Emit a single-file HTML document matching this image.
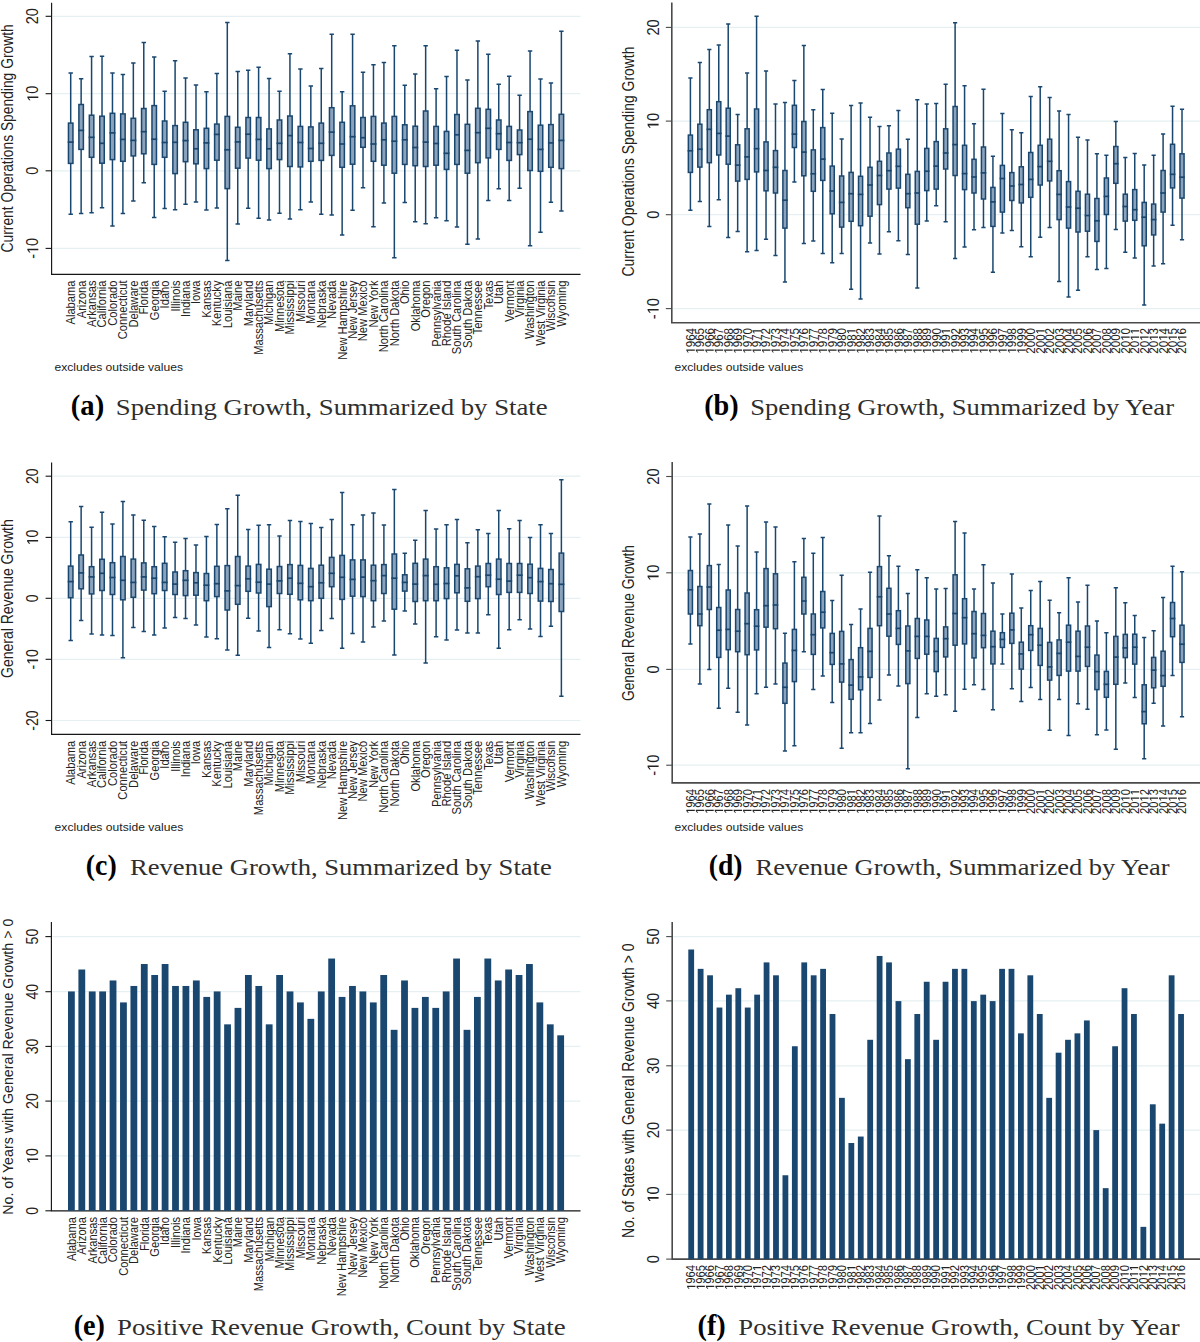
<!DOCTYPE html>
<html><head><meta charset="utf-8"><title>Figure</title>
<style>
html,body{margin:0;padding:0;background:#fff;}
svg{display:block;}

</style></head>
<body>
<svg width="1200" height="1342" viewBox="0 0 1200 1342" font-family="Liberation Sans, sans-serif">
<rect width="1200" height="1342" fill="#fff"/>
<line x1="52.6" y1="16.3" x2="580.5" y2="16.3" stroke="#e6eff1" stroke-width="1.2"/>
<line x1="52.6" y1="93.7" x2="580.5" y2="93.7" stroke="#e6eff1" stroke-width="1.2"/>
<line x1="52.6" y1="170.8" x2="580.5" y2="170.8" stroke="#e6eff1" stroke-width="1.2"/>
<line x1="52.6" y1="248.4" x2="580.5" y2="248.4" stroke="#e6eff1" stroke-width="1.2"/>
<line x1="45.6" y1="16.3" x2="51.6" y2="16.3" stroke="#161616" stroke-width="1.1"/>
<line x1="45.6" y1="93.7" x2="51.6" y2="93.7" stroke="#161616" stroke-width="1.1"/>
<line x1="45.6" y1="170.8" x2="51.6" y2="170.8" stroke="#161616" stroke-width="1.1"/>
<line x1="45.6" y1="248.4" x2="51.6" y2="248.4" stroke="#161616" stroke-width="1.1"/>
<path d="M51.6 2.7 V274.4 H580.5" fill="none" stroke="#161616" stroke-width="1.15"/>
<path d="M70.7 73 V123.1 M70.7 163.4 V214.3 M68.5 73 H72.9 M68.5 214.3 H72.9" stroke="#1a476f" stroke-width="1.5" fill="none"/>
<rect x="68.45" y="123.1" width="4.5" height="40.3" fill="#8aa2bb" stroke="#1a476f" stroke-width="1.5"/>
<path d="M67.7 142.1 H73.7" stroke="#1a476f" stroke-width="1.7"/>
<path d="M81.14 78.7 V104.5 M81.14 149.4 V213.4 M78.94 78.7 H83.34 M78.94 213.4 H83.34" stroke="#1a476f" stroke-width="1.5" fill="none"/>
<rect x="78.89" y="104.5" width="4.5" height="44.9" fill="#8aa2bb" stroke="#1a476f" stroke-width="1.5"/>
<path d="M78.14 130.4 H84.14" stroke="#1a476f" stroke-width="1.7"/>
<path d="M91.58 56.5 V115.2 M91.58 157.3 V212.8 M89.38 56.5 H93.78 M89.38 212.8 H93.78" stroke="#1a476f" stroke-width="1.5" fill="none"/>
<rect x="89.33" y="115.2" width="4.5" height="42.1" fill="#8aa2bb" stroke="#1a476f" stroke-width="1.5"/>
<path d="M88.58 137.3 H94.58" stroke="#1a476f" stroke-width="1.7"/>
<path d="M102.02 56.3 V116.2 M102.02 163.2 V207.8 M99.82 56.3 H104.22 M99.82 207.8 H104.22" stroke="#1a476f" stroke-width="1.5" fill="none"/>
<rect x="99.77" y="116.2" width="4.5" height="47" fill="#8aa2bb" stroke="#1a476f" stroke-width="1.5"/>
<path d="M99.02 143.3 H105.02" stroke="#1a476f" stroke-width="1.7"/>
<path d="M112.46 73 V113.3 M112.46 159.6 V226 M110.26 73 H114.66 M110.26 226 H114.66" stroke="#1a476f" stroke-width="1.5" fill="none"/>
<rect x="110.21" y="113.3" width="4.5" height="46.3" fill="#8aa2bb" stroke="#1a476f" stroke-width="1.5"/>
<path d="M109.46 132.9 H115.46" stroke="#1a476f" stroke-width="1.7"/>
<path d="M122.9 74.5 V113.9 M122.9 161.3 V213.6 M120.7 74.5 H125.1 M120.7 213.6 H125.1" stroke="#1a476f" stroke-width="1.5" fill="none"/>
<rect x="120.65" y="113.9" width="4.5" height="47.4" fill="#8aa2bb" stroke="#1a476f" stroke-width="1.5"/>
<path d="M119.9 139.4 H125.9" stroke="#1a476f" stroke-width="1.7"/>
<path d="M133.34 63 V118.3 M133.34 155.9 V200.9 M131.14 63 H135.54 M131.14 200.9 H135.54" stroke="#1a476f" stroke-width="1.5" fill="none"/>
<rect x="131.09" y="118.3" width="4.5" height="37.6" fill="#8aa2bb" stroke="#1a476f" stroke-width="1.5"/>
<path d="M130.34 140.4 H136.34" stroke="#1a476f" stroke-width="1.7"/>
<path d="M143.78 42.4 V108.5 M143.78 153.8 V182.8 M141.58 42.4 H145.98 M141.58 182.8 H145.98" stroke="#1a476f" stroke-width="1.5" fill="none"/>
<rect x="141.53" y="108.5" width="4.5" height="45.3" fill="#8aa2bb" stroke="#1a476f" stroke-width="1.5"/>
<path d="M140.78 131.7 H146.78" stroke="#1a476f" stroke-width="1.7"/>
<path d="M154.22 57 V105.6 M154.22 164.4 V217.6 M152.02 57 H156.42 M152.02 217.6 H156.42" stroke="#1a476f" stroke-width="1.5" fill="none"/>
<rect x="151.97" y="105.6" width="4.5" height="58.8" fill="#8aa2bb" stroke="#1a476f" stroke-width="1.5"/>
<path d="M151.22 139.2 H157.22" stroke="#1a476f" stroke-width="1.7"/>
<path d="M164.66 91.2 V121 M164.66 157.3 V208.6 M162.46 91.2 H166.86 M162.46 208.6 H166.86" stroke="#1a476f" stroke-width="1.5" fill="none"/>
<rect x="162.41" y="121" width="4.5" height="36.3" fill="#8aa2bb" stroke="#1a476f" stroke-width="1.5"/>
<path d="M161.66 142.5 H167.66" stroke="#1a476f" stroke-width="1.7"/>
<path d="M175.1 60.7 V125.6 M175.1 173.6 V209.7 M172.9 60.7 H177.3 M172.9 209.7 H177.3" stroke="#1a476f" stroke-width="1.5" fill="none"/>
<rect x="172.85" y="125.6" width="4.5" height="48" fill="#8aa2bb" stroke="#1a476f" stroke-width="1.5"/>
<path d="M172.1 142.3 H178.1" stroke="#1a476f" stroke-width="1.7"/>
<path d="M185.54 78 V122.3 M185.54 161.7 V204.3 M183.34 78 H187.74 M183.34 204.3 H187.74" stroke="#1a476f" stroke-width="1.5" fill="none"/>
<rect x="183.29" y="122.3" width="4.5" height="39.4" fill="#8aa2bb" stroke="#1a476f" stroke-width="1.5"/>
<path d="M182.54 140.6 H188.54" stroke="#1a476f" stroke-width="1.7"/>
<path d="M195.98 84.9 V129.8 M195.98 163.8 V202 M193.78 84.9 H198.18 M193.78 202 H198.18" stroke="#1a476f" stroke-width="1.5" fill="none"/>
<rect x="193.73" y="129.8" width="4.5" height="34" fill="#8aa2bb" stroke="#1a476f" stroke-width="1.5"/>
<path d="M192.98 148.8 H198.98" stroke="#1a476f" stroke-width="1.7"/>
<path d="M206.42 91.8 V128.3 M206.42 168.6 V209.9 M204.22 91.8 H208.62 M204.22 209.9 H208.62" stroke="#1a476f" stroke-width="1.5" fill="none"/>
<rect x="204.17" y="128.3" width="4.5" height="40.3" fill="#8aa2bb" stroke="#1a476f" stroke-width="1.5"/>
<path d="M203.42 142.9 H209.42" stroke="#1a476f" stroke-width="1.7"/>
<path d="M216.86 73.6 V124.1 M216.86 160.2 V208 M214.66 73.6 H219.06 M214.66 208 H219.06" stroke="#1a476f" stroke-width="1.5" fill="none"/>
<rect x="214.61" y="124.1" width="4.5" height="36.1" fill="#8aa2bb" stroke="#1a476f" stroke-width="1.5"/>
<path d="M213.86 134.4 H219.86" stroke="#1a476f" stroke-width="1.7"/>
<path d="M227.3 22.5 V116.4 M227.3 188.6 V260.6 M225.1 22.5 H229.5 M225.1 260.6 H229.5" stroke="#1a476f" stroke-width="1.5" fill="none"/>
<rect x="225.05" y="116.4" width="4.5" height="72.2" fill="#8aa2bb" stroke="#1a476f" stroke-width="1.5"/>
<path d="M224.3 149.8 H230.3" stroke="#1a476f" stroke-width="1.7"/>
<path d="M237.74 71.4 V127.3 M237.74 168.2 V224.1 M235.54 71.4 H239.94 M235.54 224.1 H239.94" stroke="#1a476f" stroke-width="1.5" fill="none"/>
<rect x="235.49" y="127.3" width="4.5" height="40.9" fill="#8aa2bb" stroke="#1a476f" stroke-width="1.5"/>
<path d="M234.74 141.9 H240.74" stroke="#1a476f" stroke-width="1.7"/>
<path d="M248.18 70.3 V117.5 M248.18 158.1 V208.2 M245.98 70.3 H250.38 M245.98 208.2 H250.38" stroke="#1a476f" stroke-width="1.5" fill="none"/>
<rect x="245.93" y="117.5" width="4.5" height="40.6" fill="#8aa2bb" stroke="#1a476f" stroke-width="1.5"/>
<path d="M245.18 134.2 H251.18" stroke="#1a476f" stroke-width="1.7"/>
<path d="M258.62 67.2 V117.5 M258.62 160.2 V218.2 M256.42 67.2 H260.82 M256.42 218.2 H260.82" stroke="#1a476f" stroke-width="1.5" fill="none"/>
<rect x="256.37" y="117.5" width="4.5" height="42.7" fill="#8aa2bb" stroke="#1a476f" stroke-width="1.5"/>
<path d="M255.62 139.4 H261.62" stroke="#1a476f" stroke-width="1.7"/>
<path d="M269.06 78.4 V128.9 M269.06 168.6 V219.9 M266.86 78.4 H271.26 M266.86 219.9 H271.26" stroke="#1a476f" stroke-width="1.5" fill="none"/>
<rect x="266.81" y="128.9" width="4.5" height="39.7" fill="#8aa2bb" stroke="#1a476f" stroke-width="1.5"/>
<path d="M266.06 148.8 H272.06" stroke="#1a476f" stroke-width="1.7"/>
<path d="M279.5 91.2 V120 M279.5 159.6 V213.2 M277.3 91.2 H281.7 M277.3 213.2 H281.7" stroke="#1a476f" stroke-width="1.5" fill="none"/>
<rect x="277.25" y="120" width="4.5" height="39.6" fill="#8aa2bb" stroke="#1a476f" stroke-width="1.5"/>
<path d="M276.5 143.3 H282.5" stroke="#1a476f" stroke-width="1.7"/>
<path d="M289.94 53.8 V116 M289.94 166.5 V218.9 M287.74 53.8 H292.14 M287.74 218.9 H292.14" stroke="#1a476f" stroke-width="1.5" fill="none"/>
<rect x="287.69" y="116" width="4.5" height="50.5" fill="#8aa2bb" stroke="#1a476f" stroke-width="1.5"/>
<path d="M286.94 135.6 H292.94" stroke="#1a476f" stroke-width="1.7"/>
<path d="M300.38 68.9 V126.4 M300.38 166.9 V209.7 M298.18 68.9 H302.58 M298.18 209.7 H302.58" stroke="#1a476f" stroke-width="1.5" fill="none"/>
<rect x="298.13" y="126.4" width="4.5" height="40.5" fill="#8aa2bb" stroke="#1a476f" stroke-width="1.5"/>
<path d="M297.38 142.5 H303.38" stroke="#1a476f" stroke-width="1.7"/>
<path d="M310.82 86 V126.9 M310.82 161.3 V202 M308.62 86 H313.02 M308.62 202 H313.02" stroke="#1a476f" stroke-width="1.5" fill="none"/>
<rect x="308.57" y="126.9" width="4.5" height="34.4" fill="#8aa2bb" stroke="#1a476f" stroke-width="1.5"/>
<path d="M307.82 148.5 H313.82" stroke="#1a476f" stroke-width="1.7"/>
<path d="M321.26 68.4 V123.1 M321.26 160.4 V214.3 M319.06 68.4 H323.46 M319.06 214.3 H323.46" stroke="#1a476f" stroke-width="1.5" fill="none"/>
<rect x="319.01" y="123.1" width="4.5" height="37.3" fill="#8aa2bb" stroke="#1a476f" stroke-width="1.5"/>
<path d="M318.26 143.3 H324.26" stroke="#1a476f" stroke-width="1.7"/>
<path d="M331.7 34.2 V107.7 M331.7 155.4 V215.1 M329.5 34.2 H333.9 M329.5 215.1 H333.9" stroke="#1a476f" stroke-width="1.5" fill="none"/>
<rect x="329.45" y="107.7" width="4.5" height="47.7" fill="#8aa2bb" stroke="#1a476f" stroke-width="1.5"/>
<path d="M328.7 132.1 H334.7" stroke="#1a476f" stroke-width="1.7"/>
<path d="M342.14 91.8 V122.3 M342.14 167.3 V234.9 M339.94 91.8 H344.34 M339.94 234.9 H344.34" stroke="#1a476f" stroke-width="1.5" fill="none"/>
<rect x="339.89" y="122.3" width="4.5" height="45" fill="#8aa2bb" stroke="#1a476f" stroke-width="1.5"/>
<path d="M339.14 144 H345.14" stroke="#1a476f" stroke-width="1.7"/>
<path d="M352.58 34.2 V105.8 M352.58 164.2 V210.3 M350.38 34.2 H354.78 M350.38 210.3 H354.78" stroke="#1a476f" stroke-width="1.5" fill="none"/>
<rect x="350.33" y="105.8" width="4.5" height="58.4" fill="#8aa2bb" stroke="#1a476f" stroke-width="1.5"/>
<path d="M349.58 136.7 H355.58" stroke="#1a476f" stroke-width="1.7"/>
<path d="M363.02 72.2 V117.5 M363.02 147.3 V187.8 M360.82 72.2 H365.22 M360.82 187.8 H365.22" stroke="#1a476f" stroke-width="1.5" fill="none"/>
<rect x="360.77" y="117.5" width="4.5" height="29.8" fill="#8aa2bb" stroke="#1a476f" stroke-width="1.5"/>
<path d="M360.02 137.7 H366.02" stroke="#1a476f" stroke-width="1.7"/>
<path d="M373.46 64.7 V116.4 M373.46 161.3 V226.8 M371.26 64.7 H375.66 M371.26 226.8 H375.66" stroke="#1a476f" stroke-width="1.5" fill="none"/>
<rect x="371.21" y="116.4" width="4.5" height="44.9" fill="#8aa2bb" stroke="#1a476f" stroke-width="1.5"/>
<path d="M370.46 144 H376.46" stroke="#1a476f" stroke-width="1.7"/>
<path d="M383.9 62.6 V123.1 M383.9 165.2 V203 M381.7 62.6 H386.1 M381.7 203 H386.1" stroke="#1a476f" stroke-width="1.5" fill="none"/>
<rect x="381.65" y="123.1" width="4.5" height="42.1" fill="#8aa2bb" stroke="#1a476f" stroke-width="1.5"/>
<path d="M380.9 139.8 H386.9" stroke="#1a476f" stroke-width="1.7"/>
<path d="M394.34 45.7 V116.4 M394.34 173.2 V257.7 M392.14 45.7 H396.54 M392.14 257.7 H396.54" stroke="#1a476f" stroke-width="1.5" fill="none"/>
<rect x="392.09" y="116.4" width="4.5" height="56.8" fill="#8aa2bb" stroke="#1a476f" stroke-width="1.5"/>
<path d="M391.34 141.2 H397.34" stroke="#1a476f" stroke-width="1.7"/>
<path d="M404.78 85.3 V124.8 M404.78 164.4 V202.4 M402.58 85.3 H406.98 M402.58 202.4 H406.98" stroke="#1a476f" stroke-width="1.5" fill="none"/>
<rect x="402.53" y="124.8" width="4.5" height="39.6" fill="#8aa2bb" stroke="#1a476f" stroke-width="1.5"/>
<path d="M401.78 139.8 H407.78" stroke="#1a476f" stroke-width="1.7"/>
<path d="M415.22 73.9 V126.2 M415.22 165.7 V221.8 M413.02 73.9 H417.42 M413.02 221.8 H417.42" stroke="#1a476f" stroke-width="1.5" fill="none"/>
<rect x="412.97" y="126.2" width="4.5" height="39.5" fill="#8aa2bb" stroke="#1a476f" stroke-width="1.5"/>
<path d="M412.22 147.5 H418.22" stroke="#1a476f" stroke-width="1.7"/>
<path d="M425.66 45.7 V111 M425.66 166.5 V223.7 M423.46 45.7 H427.86 M423.46 223.7 H427.86" stroke="#1a476f" stroke-width="1.5" fill="none"/>
<rect x="423.41" y="111" width="4.5" height="55.5" fill="#8aa2bb" stroke="#1a476f" stroke-width="1.5"/>
<path d="M422.66 142.1 H428.66" stroke="#1a476f" stroke-width="1.7"/>
<path d="M436.1 88.7 V126.4 M436.1 165.2 V217.8 M433.9 88.7 H438.3 M433.9 217.8 H438.3" stroke="#1a476f" stroke-width="1.5" fill="none"/>
<rect x="433.85" y="126.4" width="4.5" height="38.8" fill="#8aa2bb" stroke="#1a476f" stroke-width="1.5"/>
<path d="M433.1 143.5 H439.1" stroke="#1a476f" stroke-width="1.7"/>
<path d="M446.54 76.6 V131.4 M446.54 169.4 V220.7 M444.34 76.6 H448.74 M444.34 220.7 H448.74" stroke="#1a476f" stroke-width="1.5" fill="none"/>
<rect x="444.29" y="131.4" width="4.5" height="38" fill="#8aa2bb" stroke="#1a476f" stroke-width="1.5"/>
<path d="M443.54 153.3 H449.54" stroke="#1a476f" stroke-width="1.7"/>
<path d="M456.98 50.3 V114.5 M456.98 164.4 V227 M454.78 50.3 H459.18 M454.78 227 H459.18" stroke="#1a476f" stroke-width="1.5" fill="none"/>
<rect x="454.73" y="114.5" width="4.5" height="49.9" fill="#8aa2bb" stroke="#1a476f" stroke-width="1.5"/>
<path d="M453.98 134.8 H459.98" stroke="#1a476f" stroke-width="1.7"/>
<path d="M467.42 79.9 V124.3 M467.42 173.2 V244.3 M465.22 79.9 H469.62 M465.22 244.3 H469.62" stroke="#1a476f" stroke-width="1.5" fill="none"/>
<rect x="465.17" y="124.3" width="4.5" height="48.9" fill="#8aa2bb" stroke="#1a476f" stroke-width="1.5"/>
<path d="M464.42 150.4 H470.42" stroke="#1a476f" stroke-width="1.7"/>
<path d="M477.86 40.9 V108.3 M477.86 162.7 V238.9 M475.66 40.9 H480.06 M475.66 238.9 H480.06" stroke="#1a476f" stroke-width="1.5" fill="none"/>
<rect x="475.61" y="108.3" width="4.5" height="54.4" fill="#8aa2bb" stroke="#1a476f" stroke-width="1.5"/>
<path d="M474.86 132.7 H480.86" stroke="#1a476f" stroke-width="1.7"/>
<path d="M488.3 54.2 V109.3 M488.3 157.9 V200.5 M486.1 54.2 H490.5 M486.1 200.5 H490.5" stroke="#1a476f" stroke-width="1.5" fill="none"/>
<rect x="486.05" y="109.3" width="4.5" height="48.6" fill="#8aa2bb" stroke="#1a476f" stroke-width="1.5"/>
<path d="M485.3 128.3 H491.3" stroke="#1a476f" stroke-width="1.7"/>
<path d="M498.74 84.3 V120 M498.74 149.4 V188.8 M496.54 84.3 H500.94 M496.54 188.8 H500.94" stroke="#1a476f" stroke-width="1.5" fill="none"/>
<rect x="496.49" y="120" width="4.5" height="29.4" fill="#8aa2bb" stroke="#1a476f" stroke-width="1.5"/>
<path d="M495.74 133.7 H501.74" stroke="#1a476f" stroke-width="1.7"/>
<path d="M509.18 76.2 V126.4 M509.18 160.4 V200.5 M506.98 76.2 H511.38 M506.98 200.5 H511.38" stroke="#1a476f" stroke-width="1.5" fill="none"/>
<rect x="506.93" y="126.4" width="4.5" height="34" fill="#8aa2bb" stroke="#1a476f" stroke-width="1.5"/>
<path d="M506.18 142.5 H512.18" stroke="#1a476f" stroke-width="1.7"/>
<path d="M519.62 95.3 V130 M519.62 154.6 V188.2 M517.42 95.3 H521.82 M517.42 188.2 H521.82" stroke="#1a476f" stroke-width="1.5" fill="none"/>
<rect x="517.37" y="130" width="4.5" height="24.6" fill="#8aa2bb" stroke="#1a476f" stroke-width="1.5"/>
<path d="M516.62 142.7 H522.62" stroke="#1a476f" stroke-width="1.7"/>
<path d="M530.06 50.9 V111.6 M530.06 170.5 V245.8 M527.86 50.9 H532.26 M527.86 245.8 H532.26" stroke="#1a476f" stroke-width="1.5" fill="none"/>
<rect x="527.81" y="111.6" width="4.5" height="58.9" fill="#8aa2bb" stroke="#1a476f" stroke-width="1.5"/>
<path d="M527.06 139.2 H533.06" stroke="#1a476f" stroke-width="1.7"/>
<path d="M540.5 78.9 V125.2 M540.5 171.3 V232.2 M538.3 78.9 H542.7 M538.3 232.2 H542.7" stroke="#1a476f" stroke-width="1.5" fill="none"/>
<rect x="538.25" y="125.2" width="4.5" height="46.1" fill="#8aa2bb" stroke="#1a476f" stroke-width="1.5"/>
<path d="M537.5 149.4 H543.5" stroke="#1a476f" stroke-width="1.7"/>
<path d="M550.94 83 V124.6 M550.94 167.3 V202.2 M548.74 83 H553.14 M548.74 202.2 H553.14" stroke="#1a476f" stroke-width="1.5" fill="none"/>
<rect x="548.69" y="124.6" width="4.5" height="42.7" fill="#8aa2bb" stroke="#1a476f" stroke-width="1.5"/>
<path d="M547.94 142.9 H553.94" stroke="#1a476f" stroke-width="1.7"/>
<path d="M561.38 31.3 V114.3 M561.38 168.6 V211.1 M559.18 31.3 H563.58 M559.18 211.1 H563.58" stroke="#1a476f" stroke-width="1.5" fill="none"/>
<rect x="559.13" y="114.3" width="4.5" height="54.3" fill="#8aa2bb" stroke="#1a476f" stroke-width="1.5"/>
<path d="M558.38 140.4 H564.38" stroke="#1a476f" stroke-width="1.7"/>
<g transform="translate(38.3,16.3) rotate(-90) scale(0.91,1)" fill="#222"><text font-size="15.9" text-anchor="middle" style="font-kerning:none">20</text></g>
<g transform="translate(38.3,93.7) rotate(-90) scale(0.91,1)" fill="#222"><text font-size="15.9" text-anchor="middle" style="font-kerning:none">&#x2007;0</text><path d="M-4.73 0 L-4.73 -9.55 L-7.2 -7.76 L-7.2 -9.16 L-4.5 -10.94 L-2.94 -10.94 L-2.94 0Z"/></g>
<g transform="translate(38.3,170.8) rotate(-90) scale(0.91,1)" fill="#222"><text font-size="15.9" text-anchor="middle" style="font-kerning:none">0</text></g>
<g transform="translate(38.3,248.4) rotate(-90) scale(0.91,1)" fill="#222"><text font-size="15.9" text-anchor="middle" style="font-kerning:none">-&#x2007;0</text><path d="M-2.08 0 L-2.08 -9.55 L-4.55 -7.76 L-4.55 -9.16 L-1.85 -10.94 L-0.3 -10.94 L-0.3 0Z"/></g>
<text transform="translate(13.2,138.4) rotate(-90) scale(0.87,1)" font-size="15.9" text-anchor="middle" fill="#222">Current Operations Spending Growth</text>
<text transform="translate(75.1,280.5) rotate(-90) scale(0.9,1)" font-size="12.4" text-anchor="end" fill="#222">Alabama</text>
<text transform="translate(85.54,280.5) rotate(-90) scale(0.9,1)" font-size="12.4" text-anchor="end" fill="#222">Arizona</text>
<text transform="translate(95.98,280.5) rotate(-90) scale(0.9,1)" font-size="12.4" text-anchor="end" fill="#222">Arkansas</text>
<text transform="translate(106.42,280.5) rotate(-90) scale(0.9,1)" font-size="12.4" text-anchor="end" fill="#222">California</text>
<text transform="translate(116.86,280.5) rotate(-90) scale(0.9,1)" font-size="12.4" text-anchor="end" fill="#222">Colorado</text>
<text transform="translate(127.3,280.5) rotate(-90) scale(0.9,1)" font-size="12.4" text-anchor="end" fill="#222">Connecticut</text>
<text transform="translate(137.74,280.5) rotate(-90) scale(0.9,1)" font-size="12.4" text-anchor="end" fill="#222">Delaware</text>
<text transform="translate(148.18,280.5) rotate(-90) scale(0.9,1)" font-size="12.4" text-anchor="end" fill="#222">Florida</text>
<text transform="translate(158.62,280.5) rotate(-90) scale(0.9,1)" font-size="12.4" text-anchor="end" fill="#222">Georgia</text>
<text transform="translate(169.06,280.5) rotate(-90) scale(0.9,1)" font-size="12.4" text-anchor="end" fill="#222">Idaho</text>
<text transform="translate(179.5,280.5) rotate(-90) scale(0.9,1)" font-size="12.4" text-anchor="end" fill="#222">Illinois</text>
<text transform="translate(189.94,280.5) rotate(-90) scale(0.9,1)" font-size="12.4" text-anchor="end" fill="#222">Indiana</text>
<text transform="translate(200.38,280.5) rotate(-90) scale(0.9,1)" font-size="12.4" text-anchor="end" fill="#222">Iowa</text>
<text transform="translate(210.82,280.5) rotate(-90) scale(0.9,1)" font-size="12.4" text-anchor="end" fill="#222">Kansas</text>
<text transform="translate(221.26,280.5) rotate(-90) scale(0.9,1)" font-size="12.4" text-anchor="end" fill="#222">Kentucky</text>
<text transform="translate(231.7,280.5) rotate(-90) scale(0.9,1)" font-size="12.4" text-anchor="end" fill="#222">Louisiana</text>
<text transform="translate(242.14,280.5) rotate(-90) scale(0.9,1)" font-size="12.4" text-anchor="end" fill="#222">Maine</text>
<text transform="translate(252.58,280.5) rotate(-90) scale(0.9,1)" font-size="12.4" text-anchor="end" fill="#222">Maryland</text>
<text transform="translate(263.02,280.5) rotate(-90) scale(0.9,1)" font-size="12.4" text-anchor="end" fill="#222">Massachusetts</text>
<text transform="translate(273.46,280.5) rotate(-90) scale(0.9,1)" font-size="12.4" text-anchor="end" fill="#222">Michigan</text>
<text transform="translate(283.9,280.5) rotate(-90) scale(0.9,1)" font-size="12.4" text-anchor="end" fill="#222">Minnesota</text>
<text transform="translate(294.34,280.5) rotate(-90) scale(0.9,1)" font-size="12.4" text-anchor="end" fill="#222">Mississippi</text>
<text transform="translate(304.78,280.5) rotate(-90) scale(0.9,1)" font-size="12.4" text-anchor="end" fill="#222">Missouri</text>
<text transform="translate(315.22,280.5) rotate(-90) scale(0.9,1)" font-size="12.4" text-anchor="end" fill="#222">Montana</text>
<text transform="translate(325.66,280.5) rotate(-90) scale(0.9,1)" font-size="12.4" text-anchor="end" fill="#222">Nebraska</text>
<text transform="translate(336.1,280.5) rotate(-90) scale(0.9,1)" font-size="12.4" text-anchor="end" fill="#222">Nevada</text>
<text transform="translate(346.54,280.5) rotate(-90) scale(0.9,1)" font-size="12.4" text-anchor="end" fill="#222">New Hampshire</text>
<text transform="translate(356.98,280.5) rotate(-90) scale(0.9,1)" font-size="12.4" text-anchor="end" fill="#222">New Jersey</text>
<text transform="translate(367.42,280.5) rotate(-90) scale(0.9,1)" font-size="12.4" text-anchor="end" fill="#222">New Mexico</text>
<text transform="translate(377.86,280.5) rotate(-90) scale(0.9,1)" font-size="12.4" text-anchor="end" fill="#222">New York</text>
<text transform="translate(388.3,280.5) rotate(-90) scale(0.9,1)" font-size="12.4" text-anchor="end" fill="#222">North Carolina</text>
<text transform="translate(398.74,280.5) rotate(-90) scale(0.9,1)" font-size="12.4" text-anchor="end" fill="#222">North Dakota</text>
<text transform="translate(409.18,280.5) rotate(-90) scale(0.9,1)" font-size="12.4" text-anchor="end" fill="#222">Ohio</text>
<text transform="translate(419.62,280.5) rotate(-90) scale(0.9,1)" font-size="12.4" text-anchor="end" fill="#222">Oklahoma</text>
<text transform="translate(430.06,280.5) rotate(-90) scale(0.9,1)" font-size="12.4" text-anchor="end" fill="#222">Oregon</text>
<text transform="translate(440.5,280.5) rotate(-90) scale(0.9,1)" font-size="12.4" text-anchor="end" fill="#222">Pennsylvania</text>
<text transform="translate(450.94,280.5) rotate(-90) scale(0.9,1)" font-size="12.4" text-anchor="end" fill="#222">Rhode Island</text>
<text transform="translate(461.38,280.5) rotate(-90) scale(0.9,1)" font-size="12.4" text-anchor="end" fill="#222">South Carolina</text>
<text transform="translate(471.82,280.5) rotate(-90) scale(0.9,1)" font-size="12.4" text-anchor="end" fill="#222">South Dakota</text>
<text transform="translate(482.26,280.5) rotate(-90) scale(0.9,1)" font-size="12.4" text-anchor="end" fill="#222">Tennessee</text>
<text transform="translate(492.7,280.5) rotate(-90) scale(0.9,1)" font-size="12.4" text-anchor="end" fill="#222">Texas</text>
<text transform="translate(503.14,280.5) rotate(-90) scale(0.9,1)" font-size="12.4" text-anchor="end" fill="#222">Utah</text>
<text transform="translate(513.58,280.5) rotate(-90) scale(0.9,1)" font-size="12.4" text-anchor="end" fill="#222">Vermont</text>
<text transform="translate(524.02,280.5) rotate(-90) scale(0.9,1)" font-size="12.4" text-anchor="end" fill="#222">Virginia</text>
<text transform="translate(534.46,280.5) rotate(-90) scale(0.9,1)" font-size="12.4" text-anchor="end" fill="#222">Washington</text>
<text transform="translate(544.9,280.5) rotate(-90) scale(0.9,1)" font-size="12.4" text-anchor="end" fill="#222">West Virginia</text>
<text transform="translate(555.34,280.5) rotate(-90) scale(0.9,1)" font-size="12.4" text-anchor="end" fill="#222">Wisconsin</text>
<text transform="translate(565.78,280.5) rotate(-90) scale(0.9,1)" font-size="12.4" text-anchor="end" fill="#222">Wyoming</text>
<text x="54.4" y="371" font-size="10.2" textLength="128.7" lengthAdjust="spacingAndGlyphs" fill="#222">excludes outside values</text>
<text x="70.8" y="414.7" font-family="Liberation Serif, serif" font-weight="bold" font-size="28.5" textLength="33.4" lengthAdjust="spacingAndGlyphs" fill="#000">(a)</text>
<text x="115.8" y="414.7" font-family="Liberation Serif, serif" font-size="22.3" textLength="431.9" lengthAdjust="spacingAndGlyphs" fill="#2e2e2e">Spending Growth, Summarized by State</text>
<line x1="672.8" y1="27.4" x2="1200" y2="27.4" stroke="#e6eff1" stroke-width="1.2"/>
<line x1="672.8" y1="121.1" x2="1200" y2="121.1" stroke="#e6eff1" stroke-width="1.2"/>
<line x1="672.8" y1="214.7" x2="1200" y2="214.7" stroke="#e6eff1" stroke-width="1.2"/>
<line x1="672.8" y1="308.6" x2="1200" y2="308.6" stroke="#e6eff1" stroke-width="1.2"/>
<line x1="665.8" y1="27.4" x2="671.8" y2="27.4" stroke="#4a4a4a" stroke-width="1.1"/>
<line x1="665.8" y1="121.1" x2="671.8" y2="121.1" stroke="#4a4a4a" stroke-width="1.1"/>
<line x1="665.8" y1="214.7" x2="671.8" y2="214.7" stroke="#4a4a4a" stroke-width="1.1"/>
<line x1="665.8" y1="308.6" x2="671.8" y2="308.6" stroke="#4a4a4a" stroke-width="1.1"/>
<path d="M671.8 2.5 V322.8 H1200" fill="none" stroke="#4a4a4a" stroke-width="1.6"/>
<path d="M690.4 78 V135.1 M690.4 172.4 V210.2 M688.3 78 H692.5 M688.3 210.2 H692.5" stroke="#1a476f" stroke-width="1.5" fill="none"/>
<rect x="688.35" y="135.1" width="4.1" height="37.3" fill="#8aa2bb" stroke="#1a476f" stroke-width="1.5"/>
<path d="M687.6 150.8 H693.2" stroke="#1a476f" stroke-width="1.7"/>
<path d="M699.85 62.5 V124.2 M699.85 167.1 V201.5 M697.75 62.5 H701.95 M697.75 201.5 H701.95" stroke="#1a476f" stroke-width="1.5" fill="none"/>
<rect x="697.8" y="124.2" width="4.1" height="42.9" fill="#8aa2bb" stroke="#1a476f" stroke-width="1.5"/>
<path d="M697.05 149.2 H702.65" stroke="#1a476f" stroke-width="1.7"/>
<path d="M709.31 49.4 V109.7 M709.31 162.7 V226.6 M707.21 49.4 H711.41 M707.21 226.6 H711.41" stroke="#1a476f" stroke-width="1.5" fill="none"/>
<rect x="707.26" y="109.7" width="4.1" height="53" fill="#8aa2bb" stroke="#1a476f" stroke-width="1.5"/>
<path d="M706.51 129.3 H712.11" stroke="#1a476f" stroke-width="1.7"/>
<path d="M718.76 45 V101.7 M718.76 155 V199.8 M716.66 45 H720.86 M716.66 199.8 H720.86" stroke="#1a476f" stroke-width="1.5" fill="none"/>
<rect x="716.71" y="101.7" width="4.1" height="53.3" fill="#8aa2bb" stroke="#1a476f" stroke-width="1.5"/>
<path d="M715.96 133.4 H721.56" stroke="#1a476f" stroke-width="1.7"/>
<path d="M728.22 24 V108.2 M728.22 164.2 V237.5 M726.12 24 H730.32 M726.12 237.5 H730.32" stroke="#1a476f" stroke-width="1.5" fill="none"/>
<rect x="726.17" y="108.2" width="4.1" height="56" fill="#8aa2bb" stroke="#1a476f" stroke-width="1.5"/>
<path d="M725.42 136.1 H731.02" stroke="#1a476f" stroke-width="1.7"/>
<path d="M737.67 114.5 V144.8 M737.67 181.1 V231.5 M735.57 114.5 H739.77 M735.57 231.5 H739.77" stroke="#1a476f" stroke-width="1.5" fill="none"/>
<rect x="735.62" y="144.8" width="4.1" height="36.3" fill="#8aa2bb" stroke="#1a476f" stroke-width="1.5"/>
<path d="M734.87 165.1 H740.47" stroke="#1a476f" stroke-width="1.7"/>
<path d="M747.12 72.9 V128.8 M747.12 179.4 V251.8 M745.02 72.9 H749.22 M745.02 251.8 H749.22" stroke="#1a476f" stroke-width="1.5" fill="none"/>
<rect x="745.07" y="128.8" width="4.1" height="50.6" fill="#8aa2bb" stroke="#1a476f" stroke-width="1.5"/>
<path d="M744.32 156.9 H749.92" stroke="#1a476f" stroke-width="1.7"/>
<path d="M756.58 16.2 V109 M756.58 171.9 V250.6 M754.48 16.2 H758.68 M754.48 250.6 H758.68" stroke="#1a476f" stroke-width="1.5" fill="none"/>
<rect x="754.53" y="109" width="4.1" height="62.9" fill="#8aa2bb" stroke="#1a476f" stroke-width="1.5"/>
<path d="M753.78 148.7 H759.38" stroke="#1a476f" stroke-width="1.7"/>
<path d="M766.03 70.9 V141.9 M766.03 190.8 V239.2 M763.93 70.9 H768.13 M763.93 239.2 H768.13" stroke="#1a476f" stroke-width="1.5" fill="none"/>
<rect x="763.98" y="141.9" width="4.1" height="48.9" fill="#8aa2bb" stroke="#1a476f" stroke-width="1.5"/>
<path d="M763.23 170.5 H768.83" stroke="#1a476f" stroke-width="1.7"/>
<path d="M775.49 104.1 V150.6 M775.49 193 V255.4 M773.39 104.1 H777.59 M773.39 255.4 H777.59" stroke="#1a476f" stroke-width="1.5" fill="none"/>
<rect x="773.44" y="150.6" width="4.1" height="42.4" fill="#8aa2bb" stroke="#1a476f" stroke-width="1.5"/>
<path d="M772.69 167.3 H778.29" stroke="#1a476f" stroke-width="1.7"/>
<path d="M784.94 102.4 V170.5 M784.94 228.1 V282.1 M782.84 102.4 H787.04 M782.84 282.1 H787.04" stroke="#1a476f" stroke-width="1.5" fill="none"/>
<rect x="782.89" y="170.5" width="4.1" height="57.6" fill="#8aa2bb" stroke="#1a476f" stroke-width="1.5"/>
<path d="M782.14 200.2 H787.74" stroke="#1a476f" stroke-width="1.7"/>
<path d="M794.39 80.4 V105.3 M794.39 147.5 V182.1 M792.29 80.4 H796.49 M792.29 182.1 H796.49" stroke="#1a476f" stroke-width="1.5" fill="none"/>
<rect x="792.34" y="105.3" width="4.1" height="42.2" fill="#8aa2bb" stroke="#1a476f" stroke-width="1.5"/>
<path d="M791.59 134.1 H797.19" stroke="#1a476f" stroke-width="1.7"/>
<path d="M803.85 45.5 V121.5 M803.85 175.8 V243.6 M801.75 45.5 H805.95 M801.75 243.6 H805.95" stroke="#1a476f" stroke-width="1.5" fill="none"/>
<rect x="801.8" y="121.5" width="4.1" height="54.3" fill="#8aa2bb" stroke="#1a476f" stroke-width="1.5"/>
<path d="M801.05 152.1 H806.65" stroke="#1a476f" stroke-width="1.7"/>
<path d="M813.3 109.7 V149.9 M813.3 191.3 V240.9 M811.2 109.7 H815.4 M811.2 240.9 H815.4" stroke="#1a476f" stroke-width="1.5" fill="none"/>
<rect x="811.25" y="149.9" width="4.1" height="41.4" fill="#8aa2bb" stroke="#1a476f" stroke-width="1.5"/>
<path d="M810.5 173.8 H816.1" stroke="#1a476f" stroke-width="1.7"/>
<path d="M822.76 89.6 V127.6 M822.76 180.4 V253.5 M820.66 89.6 H824.86 M820.66 253.5 H824.86" stroke="#1a476f" stroke-width="1.5" fill="none"/>
<rect x="820.71" y="127.6" width="4.1" height="52.8" fill="#8aa2bb" stroke="#1a476f" stroke-width="1.5"/>
<path d="M819.96 159.1 H825.56" stroke="#1a476f" stroke-width="1.7"/>
<path d="M832.21 113.3 V166.1 M832.21 213.8 V262.7 M830.11 113.3 H834.31 M830.11 262.7 H834.31" stroke="#1a476f" stroke-width="1.5" fill="none"/>
<rect x="830.16" y="166.1" width="4.1" height="47.7" fill="#8aa2bb" stroke="#1a476f" stroke-width="1.5"/>
<path d="M829.41 191 H835.01" stroke="#1a476f" stroke-width="1.7"/>
<path d="M841.66 139 V176 M841.66 227.1 V253.5 M839.56 139 H843.76 M839.56 253.5 H843.76" stroke="#1a476f" stroke-width="1.5" fill="none"/>
<rect x="839.61" y="176" width="4.1" height="51.1" fill="#8aa2bb" stroke="#1a476f" stroke-width="1.5"/>
<path d="M838.86 202.4 H844.46" stroke="#1a476f" stroke-width="1.7"/>
<path d="M851.12 105.6 V172.4 M851.12 221.3 V289.3 M849.02 105.6 H853.22 M849.02 289.3 H853.22" stroke="#1a476f" stroke-width="1.5" fill="none"/>
<rect x="849.07" y="172.4" width="4.1" height="48.9" fill="#8aa2bb" stroke="#1a476f" stroke-width="1.5"/>
<path d="M848.32 193.7 H853.92" stroke="#1a476f" stroke-width="1.7"/>
<path d="M860.57 102.9 V176.3 M860.57 225.7 V299 M858.47 102.9 H862.67 M858.47 299 H862.67" stroke="#1a476f" stroke-width="1.5" fill="none"/>
<rect x="858.52" y="176.3" width="4.1" height="49.4" fill="#8aa2bb" stroke="#1a476f" stroke-width="1.5"/>
<path d="M857.77 194.4 H863.37" stroke="#1a476f" stroke-width="1.7"/>
<path d="M870.03 117.2 V167.3 M870.03 216.2 V242.9 M867.93 117.2 H872.13 M867.93 242.9 H872.13" stroke="#1a476f" stroke-width="1.5" fill="none"/>
<rect x="867.98" y="167.3" width="4.1" height="48.9" fill="#8aa2bb" stroke="#1a476f" stroke-width="1.5"/>
<path d="M867.23 185 H872.83" stroke="#1a476f" stroke-width="1.7"/>
<path d="M879.48 126.6 V161.3 M879.48 204.6 V254 M877.38 126.6 H881.58 M877.38 254 H881.58" stroke="#1a476f" stroke-width="1.5" fill="none"/>
<rect x="877.43" y="161.3" width="4.1" height="43.3" fill="#8aa2bb" stroke="#1a476f" stroke-width="1.5"/>
<path d="M876.68 175.5 H882.28" stroke="#1a476f" stroke-width="1.7"/>
<path d="M888.93 125.7 V153 M888.93 189.1 V231.7 M886.83 125.7 H891.03 M886.83 231.7 H891.03" stroke="#1a476f" stroke-width="1.5" fill="none"/>
<rect x="886.88" y="153" width="4.1" height="36.1" fill="#8aa2bb" stroke="#1a476f" stroke-width="1.5"/>
<path d="M886.13 170.7 H891.73" stroke="#1a476f" stroke-width="1.7"/>
<path d="M898.39 110.4 V149.2 M898.39 188.1 V240.7 M896.29 110.4 H900.49 M896.29 240.7 H900.49" stroke="#1a476f" stroke-width="1.5" fill="none"/>
<rect x="896.34" y="149.2" width="4.1" height="38.9" fill="#8aa2bb" stroke="#1a476f" stroke-width="1.5"/>
<path d="M895.59 166.3 H901.19" stroke="#1a476f" stroke-width="1.7"/>
<path d="M907.84 139.2 V174.3 M907.84 207.7 V254.5 M905.74 139.2 H909.94 M905.74 254.5 H909.94" stroke="#1a476f" stroke-width="1.5" fill="none"/>
<rect x="905.79" y="174.3" width="4.1" height="33.4" fill="#8aa2bb" stroke="#1a476f" stroke-width="1.5"/>
<path d="M905.04 193.7 H910.64" stroke="#1a476f" stroke-width="1.7"/>
<path d="M917.3 99.8 V171.4 M917.3 224.2 V287.9 M915.2 99.8 H919.4 M915.2 287.9 H919.4" stroke="#1a476f" stroke-width="1.5" fill="none"/>
<rect x="915.25" y="171.4" width="4.1" height="52.8" fill="#8aa2bb" stroke="#1a476f" stroke-width="1.5"/>
<path d="M914.5 193 H920.1" stroke="#1a476f" stroke-width="1.7"/>
<path d="M926.75 104.1 V148.4 M926.75 190.6 V221.1 M924.65 104.1 H928.85 M924.65 221.1 H928.85" stroke="#1a476f" stroke-width="1.5" fill="none"/>
<rect x="924.7" y="148.4" width="4.1" height="42.2" fill="#8aa2bb" stroke="#1a476f" stroke-width="1.5"/>
<path d="M923.95 171.2 H929.55" stroke="#1a476f" stroke-width="1.7"/>
<path d="M936.2 103.4 V141.6 M936.2 189.1 V205.8 M934.1 103.4 H938.3 M934.1 205.8 H938.3" stroke="#1a476f" stroke-width="1.5" fill="none"/>
<rect x="934.15" y="141.6" width="4.1" height="47.5" fill="#8aa2bb" stroke="#1a476f" stroke-width="1.5"/>
<path d="M933.4 166.1 H939" stroke="#1a476f" stroke-width="1.7"/>
<path d="M945.66 84.3 V128.8 M945.66 169 V221.8 M943.56 84.3 H947.76 M943.56 221.8 H947.76" stroke="#1a476f" stroke-width="1.5" fill="none"/>
<rect x="943.61" y="128.8" width="4.1" height="40.2" fill="#8aa2bb" stroke="#1a476f" stroke-width="1.5"/>
<path d="M942.86 153 H948.46" stroke="#1a476f" stroke-width="1.7"/>
<path d="M955.11 22.8 V106.5 M955.11 175.5 V258.6 M953.01 22.8 H957.21 M953.01 258.6 H957.21" stroke="#1a476f" stroke-width="1.5" fill="none"/>
<rect x="953.06" y="106.5" width="4.1" height="69" fill="#8aa2bb" stroke="#1a476f" stroke-width="1.5"/>
<path d="M952.31 144.6 H957.91" stroke="#1a476f" stroke-width="1.7"/>
<path d="M964.57 85.7 V145.3 M964.57 189.6 V247 M962.47 85.7 H966.67 M962.47 247 H966.67" stroke="#1a476f" stroke-width="1.5" fill="none"/>
<rect x="962.52" y="145.3" width="4.1" height="44.3" fill="#8aa2bb" stroke="#1a476f" stroke-width="1.5"/>
<path d="M961.77 173.6 H967.37" stroke="#1a476f" stroke-width="1.7"/>
<path d="M974.02 123.7 V159.3 M974.02 193 V229.8 M971.92 123.7 H976.12 M971.92 229.8 H976.12" stroke="#1a476f" stroke-width="1.5" fill="none"/>
<rect x="971.97" y="159.3" width="4.1" height="33.7" fill="#8aa2bb" stroke="#1a476f" stroke-width="1.5"/>
<path d="M971.22 177 H976.82" stroke="#1a476f" stroke-width="1.7"/>
<path d="M983.47 89.3 V147 M983.47 199 V227.4 M981.37 89.3 H985.57 M981.37 227.4 H985.57" stroke="#1a476f" stroke-width="1.5" fill="none"/>
<rect x="981.42" y="147" width="4.1" height="52" fill="#8aa2bb" stroke="#1a476f" stroke-width="1.5"/>
<path d="M980.67 172.9 H986.27" stroke="#1a476f" stroke-width="1.7"/>
<path d="M992.93 156.2 V187.4 M992.93 226.4 V272.2 M990.83 156.2 H995.03 M990.83 272.2 H995.03" stroke="#1a476f" stroke-width="1.5" fill="none"/>
<rect x="990.88" y="187.4" width="4.1" height="39" fill="#8aa2bb" stroke="#1a476f" stroke-width="1.5"/>
<path d="M990.13 201.9 H995.73" stroke="#1a476f" stroke-width="1.7"/>
<path d="M1002.38 113.6 V165.4 M1002.38 212.1 V232.9 M1000.28 113.6 H1004.48 M1000.28 232.9 H1004.48" stroke="#1a476f" stroke-width="1.5" fill="none"/>
<rect x="1000.33" y="165.4" width="4.1" height="46.7" fill="#8aa2bb" stroke="#1a476f" stroke-width="1.5"/>
<path d="M999.58 178.5 H1005.18" stroke="#1a476f" stroke-width="1.7"/>
<path d="M1011.84 129.8 V172.6 M1011.84 200.5 V230.5 M1009.74 129.8 H1013.94 M1009.74 230.5 H1013.94" stroke="#1a476f" stroke-width="1.5" fill="none"/>
<rect x="1009.79" y="172.6" width="4.1" height="27.9" fill="#8aa2bb" stroke="#1a476f" stroke-width="1.5"/>
<path d="M1009.04 186 H1014.64" stroke="#1a476f" stroke-width="1.7"/>
<path d="M1021.29 132.7 V166.8 M1021.29 202.9 V246.7 M1019.19 132.7 H1023.39 M1019.19 246.7 H1023.39" stroke="#1a476f" stroke-width="1.5" fill="none"/>
<rect x="1019.24" y="166.8" width="4.1" height="36.1" fill="#8aa2bb" stroke="#1a476f" stroke-width="1.5"/>
<path d="M1018.49 184.5 H1024.09" stroke="#1a476f" stroke-width="1.7"/>
<path d="M1030.74 96.4 V152.5 M1030.74 197.3 V256.7 M1028.64 96.4 H1032.84 M1028.64 256.7 H1032.84" stroke="#1a476f" stroke-width="1.5" fill="none"/>
<rect x="1028.69" y="152.5" width="4.1" height="44.8" fill="#8aa2bb" stroke="#1a476f" stroke-width="1.5"/>
<path d="M1027.94 179.4 H1033.54" stroke="#1a476f" stroke-width="1.7"/>
<path d="M1040.2 86.7 V145.3 M1040.2 185 V237.3 M1038.1 86.7 H1042.3 M1038.1 237.3 H1042.3" stroke="#1a476f" stroke-width="1.5" fill="none"/>
<rect x="1038.15" y="145.3" width="4.1" height="39.7" fill="#8aa2bb" stroke="#1a476f" stroke-width="1.5"/>
<path d="M1037.4 166.6 H1043" stroke="#1a476f" stroke-width="1.7"/>
<path d="M1049.65 97.6 V139.2 M1049.65 180.9 V227.6 M1047.55 97.6 H1051.75 M1047.55 227.6 H1051.75" stroke="#1a476f" stroke-width="1.5" fill="none"/>
<rect x="1047.6" y="139.2" width="4.1" height="41.7" fill="#8aa2bb" stroke="#1a476f" stroke-width="1.5"/>
<path d="M1046.85 161.3 H1052.45" stroke="#1a476f" stroke-width="1.7"/>
<path d="M1059.11 110.9 V170.7 M1059.11 219.6 V281.6 M1057.01 110.9 H1061.21 M1057.01 281.6 H1061.21" stroke="#1a476f" stroke-width="1.5" fill="none"/>
<rect x="1057.06" y="170.7" width="4.1" height="48.9" fill="#8aa2bb" stroke="#1a476f" stroke-width="1.5"/>
<path d="M1056.31 194.4 H1061.91" stroke="#1a476f" stroke-width="1.7"/>
<path d="M1068.56 114.5 V181.6 M1068.56 228.1 V297.1 M1066.46 114.5 H1070.66 M1066.46 297.1 H1070.66" stroke="#1a476f" stroke-width="1.5" fill="none"/>
<rect x="1066.51" y="181.6" width="4.1" height="46.5" fill="#8aa2bb" stroke="#1a476f" stroke-width="1.5"/>
<path d="M1065.76 207 H1071.36" stroke="#1a476f" stroke-width="1.7"/>
<path d="M1078.01 137.3 V191.3 M1078.01 232 V290.3 M1075.91 137.3 H1080.11 M1075.91 290.3 H1080.11" stroke="#1a476f" stroke-width="1.5" fill="none"/>
<rect x="1075.96" y="191.3" width="4.1" height="40.7" fill="#8aa2bb" stroke="#1a476f" stroke-width="1.5"/>
<path d="M1075.21 208.2 H1080.81" stroke="#1a476f" stroke-width="1.7"/>
<path d="M1087.47 140 V194.2 M1087.47 231.2 V256.7 M1085.37 140 H1089.57 M1085.37 256.7 H1089.57" stroke="#1a476f" stroke-width="1.5" fill="none"/>
<rect x="1085.42" y="194.2" width="4.1" height="37" fill="#8aa2bb" stroke="#1a476f" stroke-width="1.5"/>
<path d="M1084.67 215.5 H1090.27" stroke="#1a476f" stroke-width="1.7"/>
<path d="M1096.92 153.8 V198.5 M1096.92 241.4 V269.5 M1094.82 153.8 H1099.02 M1094.82 269.5 H1099.02" stroke="#1a476f" stroke-width="1.5" fill="none"/>
<rect x="1094.87" y="198.5" width="4.1" height="42.9" fill="#8aa2bb" stroke="#1a476f" stroke-width="1.5"/>
<path d="M1094.12 220.8 H1099.72" stroke="#1a476f" stroke-width="1.7"/>
<path d="M1106.38 155.2 V178 M1106.38 214.5 V268.5 M1104.28 155.2 H1108.48 M1104.28 268.5 H1108.48" stroke="#1a476f" stroke-width="1.5" fill="none"/>
<rect x="1104.33" y="178" width="4.1" height="36.5" fill="#8aa2bb" stroke="#1a476f" stroke-width="1.5"/>
<path d="M1103.58 196.4 H1109.18" stroke="#1a476f" stroke-width="1.7"/>
<path d="M1115.83 121.5 V146.5 M1115.83 183.3 V229.5 M1113.73 121.5 H1117.93 M1113.73 229.5 H1117.93" stroke="#1a476f" stroke-width="1.5" fill="none"/>
<rect x="1113.78" y="146.5" width="4.1" height="36.8" fill="#8aa2bb" stroke="#1a476f" stroke-width="1.5"/>
<path d="M1113.03 163.7 H1118.63" stroke="#1a476f" stroke-width="1.7"/>
<path d="M1125.28 157.6 V194.2 M1125.28 221.1 V252.3 M1123.18 157.6 H1127.38 M1123.18 252.3 H1127.38" stroke="#1a476f" stroke-width="1.5" fill="none"/>
<rect x="1123.23" y="194.2" width="4.1" height="26.9" fill="#8aa2bb" stroke="#1a476f" stroke-width="1.5"/>
<path d="M1122.48 206.5 H1128.08" stroke="#1a476f" stroke-width="1.7"/>
<path d="M1134.74 153.5 V189.6 M1134.74 220.3 V258.1 M1132.64 153.5 H1136.84 M1132.64 258.1 H1136.84" stroke="#1a476f" stroke-width="1.5" fill="none"/>
<rect x="1132.69" y="189.6" width="4.1" height="30.7" fill="#8aa2bb" stroke="#1a476f" stroke-width="1.5"/>
<path d="M1131.94 209.7 H1137.54" stroke="#1a476f" stroke-width="1.7"/>
<path d="M1144.19 165.1 V202.4 M1144.19 245.8 V305.1 M1142.09 165.1 H1146.29 M1142.09 305.1 H1146.29" stroke="#1a476f" stroke-width="1.5" fill="none"/>
<rect x="1142.14" y="202.4" width="4.1" height="43.4" fill="#8aa2bb" stroke="#1a476f" stroke-width="1.5"/>
<path d="M1141.39 217.2 H1146.99" stroke="#1a476f" stroke-width="1.7"/>
<path d="M1153.65 155.2 V204.1 M1153.65 234.9 V265.9 M1151.55 155.2 H1155.75 M1151.55 265.9 H1155.75" stroke="#1a476f" stroke-width="1.5" fill="none"/>
<rect x="1151.6" y="204.1" width="4.1" height="30.8" fill="#8aa2bb" stroke="#1a476f" stroke-width="1.5"/>
<path d="M1150.85 219.6 H1156.45" stroke="#1a476f" stroke-width="1.7"/>
<path d="M1163.1 133.9 V170.5 M1163.1 212.1 V263.7 M1161 133.9 H1165.2 M1161 263.7 H1165.2" stroke="#1a476f" stroke-width="1.5" fill="none"/>
<rect x="1161.05" y="170.5" width="4.1" height="41.6" fill="#8aa2bb" stroke="#1a476f" stroke-width="1.5"/>
<path d="M1160.3 193 H1165.9" stroke="#1a476f" stroke-width="1.7"/>
<path d="M1172.55 106.3 V144.3 M1172.55 187.9 V225.2 M1170.45 106.3 H1174.65 M1170.45 225.2 H1174.65" stroke="#1a476f" stroke-width="1.5" fill="none"/>
<rect x="1170.5" y="144.3" width="4.1" height="43.6" fill="#8aa2bb" stroke="#1a476f" stroke-width="1.5"/>
<path d="M1169.75 174.3 H1175.35" stroke="#1a476f" stroke-width="1.7"/>
<path d="M1182.01 109.2 V153.8 M1182.01 198.1 V239.7 M1179.91 109.2 H1184.11 M1179.91 239.7 H1184.11" stroke="#1a476f" stroke-width="1.5" fill="none"/>
<rect x="1179.96" y="153.8" width="4.1" height="44.3" fill="#8aa2bb" stroke="#1a476f" stroke-width="1.5"/>
<path d="M1179.21 177.2 H1184.81" stroke="#1a476f" stroke-width="1.7"/>
<g transform="translate(658.6,27.4) rotate(-90) scale(0.92,1)" fill="#222"><text font-size="16" text-anchor="middle" style="font-kerning:none">20</text></g>
<g transform="translate(658.6,121.1) rotate(-90) scale(0.92,1)" fill="#222"><text font-size="16" text-anchor="middle" style="font-kerning:none">&#x2007;0</text><path d="M-4.76 0 L-4.76 -9.61 L-7.24 -7.81 L-7.24 -9.22 L-4.52 -11.01 L-2.96 -11.01 L-2.96 0Z"/></g>
<g transform="translate(658.6,214.7) rotate(-90) scale(0.92,1)" fill="#222"><text font-size="16" text-anchor="middle" style="font-kerning:none">0</text></g>
<g transform="translate(658.6,308.6) rotate(-90) scale(0.92,1)" fill="#222"><text font-size="16" text-anchor="middle" style="font-kerning:none">-&#x2007;0</text><path d="M-2.09 0 L-2.09 -9.61 L-4.58 -7.81 L-4.58 -9.22 L-1.86 -11.01 L-0.3 -11.01 L-0.3 0Z"/></g>
<text transform="translate(633.9,161.5) rotate(-90) scale(0.85,1)" font-size="16.4" text-anchor="middle" fill="#222">Current Operations Spending Growth</text>
<g transform="translate(694.8,328) rotate(-90) scale(0.94,1)" fill="#222"><text font-size="12.3" text-anchor="end" style="font-kerning:none">&#x2007;964</text><path d="M-24.18 0 L-24.18 -7.39 L-26.09 -6.01 L-26.09 -7.09 L-24 -8.46 L-22.8 -8.46 L-22.8 0Z"/></g>
<g transform="translate(704.25,328) rotate(-90) scale(0.94,1)" fill="#222"><text font-size="12.3" text-anchor="end" style="font-kerning:none">&#x2007;965</text><path d="M-24.18 0 L-24.18 -7.39 L-26.09 -6.01 L-26.09 -7.09 L-24 -8.46 L-22.8 -8.46 L-22.8 0Z"/></g>
<g transform="translate(713.71,328) rotate(-90) scale(0.94,1)" fill="#222"><text font-size="12.3" text-anchor="end" style="font-kerning:none">&#x2007;966</text><path d="M-24.18 0 L-24.18 -7.39 L-26.09 -6.01 L-26.09 -7.09 L-24 -8.46 L-22.8 -8.46 L-22.8 0Z"/></g>
<g transform="translate(723.16,328) rotate(-90) scale(0.94,1)" fill="#222"><text font-size="12.3" text-anchor="end" style="font-kerning:none">&#x2007;967</text><path d="M-24.18 0 L-24.18 -7.39 L-26.09 -6.01 L-26.09 -7.09 L-24 -8.46 L-22.8 -8.46 L-22.8 0Z"/></g>
<g transform="translate(732.62,328) rotate(-90) scale(0.94,1)" fill="#222"><text font-size="12.3" text-anchor="end" style="font-kerning:none">&#x2007;968</text><path d="M-24.18 0 L-24.18 -7.39 L-26.09 -6.01 L-26.09 -7.09 L-24 -8.46 L-22.8 -8.46 L-22.8 0Z"/></g>
<g transform="translate(742.07,328) rotate(-90) scale(0.94,1)" fill="#222"><text font-size="12.3" text-anchor="end" style="font-kerning:none">&#x2007;969</text><path d="M-24.18 0 L-24.18 -7.39 L-26.09 -6.01 L-26.09 -7.09 L-24 -8.46 L-22.8 -8.46 L-22.8 0Z"/></g>
<g transform="translate(751.52,328) rotate(-90) scale(0.94,1)" fill="#222"><text font-size="12.3" text-anchor="end" style="font-kerning:none">&#x2007;970</text><path d="M-24.18 0 L-24.18 -7.39 L-26.09 -6.01 L-26.09 -7.09 L-24 -8.46 L-22.8 -8.46 L-22.8 0Z"/></g>
<g transform="translate(760.98,328) rotate(-90) scale(0.94,1)" fill="#222"><text font-size="12.3" text-anchor="end" style="font-kerning:none">&#x2007;97&#x2007;</text><path d="M-24.18 0 L-24.18 -7.39 L-26.09 -6.01 L-26.09 -7.09 L-24 -8.46 L-22.8 -8.46 L-22.8 0Z"/><path d="M-3.66 0 L-3.66 -7.39 L-5.57 -6.01 L-5.57 -7.09 L-3.48 -8.46 L-2.28 -8.46 L-2.28 0Z"/></g>
<g transform="translate(770.43,328) rotate(-90) scale(0.94,1)" fill="#222"><text font-size="12.3" text-anchor="end" style="font-kerning:none">&#x2007;972</text><path d="M-24.18 0 L-24.18 -7.39 L-26.09 -6.01 L-26.09 -7.09 L-24 -8.46 L-22.8 -8.46 L-22.8 0Z"/></g>
<g transform="translate(779.89,328) rotate(-90) scale(0.94,1)" fill="#222"><text font-size="12.3" text-anchor="end" style="font-kerning:none">&#x2007;973</text><path d="M-24.18 0 L-24.18 -7.39 L-26.09 -6.01 L-26.09 -7.09 L-24 -8.46 L-22.8 -8.46 L-22.8 0Z"/></g>
<g transform="translate(789.34,328) rotate(-90) scale(0.94,1)" fill="#222"><text font-size="12.3" text-anchor="end" style="font-kerning:none">&#x2007;974</text><path d="M-24.18 0 L-24.18 -7.39 L-26.09 -6.01 L-26.09 -7.09 L-24 -8.46 L-22.8 -8.46 L-22.8 0Z"/></g>
<g transform="translate(798.79,328) rotate(-90) scale(0.94,1)" fill="#222"><text font-size="12.3" text-anchor="end" style="font-kerning:none">&#x2007;975</text><path d="M-24.18 0 L-24.18 -7.39 L-26.09 -6.01 L-26.09 -7.09 L-24 -8.46 L-22.8 -8.46 L-22.8 0Z"/></g>
<g transform="translate(808.25,328) rotate(-90) scale(0.94,1)" fill="#222"><text font-size="12.3" text-anchor="end" style="font-kerning:none">&#x2007;976</text><path d="M-24.18 0 L-24.18 -7.39 L-26.09 -6.01 L-26.09 -7.09 L-24 -8.46 L-22.8 -8.46 L-22.8 0Z"/></g>
<g transform="translate(817.7,328) rotate(-90) scale(0.94,1)" fill="#222"><text font-size="12.3" text-anchor="end" style="font-kerning:none">&#x2007;977</text><path d="M-24.18 0 L-24.18 -7.39 L-26.09 -6.01 L-26.09 -7.09 L-24 -8.46 L-22.8 -8.46 L-22.8 0Z"/></g>
<g transform="translate(827.16,328) rotate(-90) scale(0.94,1)" fill="#222"><text font-size="12.3" text-anchor="end" style="font-kerning:none">&#x2007;978</text><path d="M-24.18 0 L-24.18 -7.39 L-26.09 -6.01 L-26.09 -7.09 L-24 -8.46 L-22.8 -8.46 L-22.8 0Z"/></g>
<g transform="translate(836.61,328) rotate(-90) scale(0.94,1)" fill="#222"><text font-size="12.3" text-anchor="end" style="font-kerning:none">&#x2007;979</text><path d="M-24.18 0 L-24.18 -7.39 L-26.09 -6.01 L-26.09 -7.09 L-24 -8.46 L-22.8 -8.46 L-22.8 0Z"/></g>
<g transform="translate(846.06,328) rotate(-90) scale(0.94,1)" fill="#222"><text font-size="12.3" text-anchor="end" style="font-kerning:none">&#x2007;980</text><path d="M-24.18 0 L-24.18 -7.39 L-26.09 -6.01 L-26.09 -7.09 L-24 -8.46 L-22.8 -8.46 L-22.8 0Z"/></g>
<g transform="translate(855.52,328) rotate(-90) scale(0.94,1)" fill="#222"><text font-size="12.3" text-anchor="end" style="font-kerning:none">&#x2007;98&#x2007;</text><path d="M-24.18 0 L-24.18 -7.39 L-26.09 -6.01 L-26.09 -7.09 L-24 -8.46 L-22.8 -8.46 L-22.8 0Z"/><path d="M-3.66 0 L-3.66 -7.39 L-5.57 -6.01 L-5.57 -7.09 L-3.48 -8.46 L-2.28 -8.46 L-2.28 0Z"/></g>
<g transform="translate(864.97,328) rotate(-90) scale(0.94,1)" fill="#222"><text font-size="12.3" text-anchor="end" style="font-kerning:none">&#x2007;982</text><path d="M-24.18 0 L-24.18 -7.39 L-26.09 -6.01 L-26.09 -7.09 L-24 -8.46 L-22.8 -8.46 L-22.8 0Z"/></g>
<g transform="translate(874.43,328) rotate(-90) scale(0.94,1)" fill="#222"><text font-size="12.3" text-anchor="end" style="font-kerning:none">&#x2007;983</text><path d="M-24.18 0 L-24.18 -7.39 L-26.09 -6.01 L-26.09 -7.09 L-24 -8.46 L-22.8 -8.46 L-22.8 0Z"/></g>
<g transform="translate(883.88,328) rotate(-90) scale(0.94,1)" fill="#222"><text font-size="12.3" text-anchor="end" style="font-kerning:none">&#x2007;984</text><path d="M-24.18 0 L-24.18 -7.39 L-26.09 -6.01 L-26.09 -7.09 L-24 -8.46 L-22.8 -8.46 L-22.8 0Z"/></g>
<g transform="translate(893.33,328) rotate(-90) scale(0.94,1)" fill="#222"><text font-size="12.3" text-anchor="end" style="font-kerning:none">&#x2007;985</text><path d="M-24.18 0 L-24.18 -7.39 L-26.09 -6.01 L-26.09 -7.09 L-24 -8.46 L-22.8 -8.46 L-22.8 0Z"/></g>
<g transform="translate(902.79,328) rotate(-90) scale(0.94,1)" fill="#222"><text font-size="12.3" text-anchor="end" style="font-kerning:none">&#x2007;986</text><path d="M-24.18 0 L-24.18 -7.39 L-26.09 -6.01 L-26.09 -7.09 L-24 -8.46 L-22.8 -8.46 L-22.8 0Z"/></g>
<g transform="translate(912.24,328) rotate(-90) scale(0.94,1)" fill="#222"><text font-size="12.3" text-anchor="end" style="font-kerning:none">&#x2007;987</text><path d="M-24.18 0 L-24.18 -7.39 L-26.09 -6.01 L-26.09 -7.09 L-24 -8.46 L-22.8 -8.46 L-22.8 0Z"/></g>
<g transform="translate(921.7,328) rotate(-90) scale(0.94,1)" fill="#222"><text font-size="12.3" text-anchor="end" style="font-kerning:none">&#x2007;988</text><path d="M-24.18 0 L-24.18 -7.39 L-26.09 -6.01 L-26.09 -7.09 L-24 -8.46 L-22.8 -8.46 L-22.8 0Z"/></g>
<g transform="translate(931.15,328) rotate(-90) scale(0.94,1)" fill="#222"><text font-size="12.3" text-anchor="end" style="font-kerning:none">&#x2007;989</text><path d="M-24.18 0 L-24.18 -7.39 L-26.09 -6.01 L-26.09 -7.09 L-24 -8.46 L-22.8 -8.46 L-22.8 0Z"/></g>
<g transform="translate(940.6,328) rotate(-90) scale(0.94,1)" fill="#222"><text font-size="12.3" text-anchor="end" style="font-kerning:none">&#x2007;990</text><path d="M-24.18 0 L-24.18 -7.39 L-26.09 -6.01 L-26.09 -7.09 L-24 -8.46 L-22.8 -8.46 L-22.8 0Z"/></g>
<g transform="translate(950.06,328) rotate(-90) scale(0.94,1)" fill="#222"><text font-size="12.3" text-anchor="end" style="font-kerning:none">&#x2007;99&#x2007;</text><path d="M-24.18 0 L-24.18 -7.39 L-26.09 -6.01 L-26.09 -7.09 L-24 -8.46 L-22.8 -8.46 L-22.8 0Z"/><path d="M-3.66 0 L-3.66 -7.39 L-5.57 -6.01 L-5.57 -7.09 L-3.48 -8.46 L-2.28 -8.46 L-2.28 0Z"/></g>
<g transform="translate(959.51,328) rotate(-90) scale(0.94,1)" fill="#222"><text font-size="12.3" text-anchor="end" style="font-kerning:none">&#x2007;992</text><path d="M-24.18 0 L-24.18 -7.39 L-26.09 -6.01 L-26.09 -7.09 L-24 -8.46 L-22.8 -8.46 L-22.8 0Z"/></g>
<g transform="translate(968.97,328) rotate(-90) scale(0.94,1)" fill="#222"><text font-size="12.3" text-anchor="end" style="font-kerning:none">&#x2007;993</text><path d="M-24.18 0 L-24.18 -7.39 L-26.09 -6.01 L-26.09 -7.09 L-24 -8.46 L-22.8 -8.46 L-22.8 0Z"/></g>
<g transform="translate(978.42,328) rotate(-90) scale(0.94,1)" fill="#222"><text font-size="12.3" text-anchor="end" style="font-kerning:none">&#x2007;994</text><path d="M-24.18 0 L-24.18 -7.39 L-26.09 -6.01 L-26.09 -7.09 L-24 -8.46 L-22.8 -8.46 L-22.8 0Z"/></g>
<g transform="translate(987.87,328) rotate(-90) scale(0.94,1)" fill="#222"><text font-size="12.3" text-anchor="end" style="font-kerning:none">&#x2007;995</text><path d="M-24.18 0 L-24.18 -7.39 L-26.09 -6.01 L-26.09 -7.09 L-24 -8.46 L-22.8 -8.46 L-22.8 0Z"/></g>
<g transform="translate(997.33,328) rotate(-90) scale(0.94,1)" fill="#222"><text font-size="12.3" text-anchor="end" style="font-kerning:none">&#x2007;996</text><path d="M-24.18 0 L-24.18 -7.39 L-26.09 -6.01 L-26.09 -7.09 L-24 -8.46 L-22.8 -8.46 L-22.8 0Z"/></g>
<g transform="translate(1006.78,328) rotate(-90) scale(0.94,1)" fill="#222"><text font-size="12.3" text-anchor="end" style="font-kerning:none">&#x2007;997</text><path d="M-24.18 0 L-24.18 -7.39 L-26.09 -6.01 L-26.09 -7.09 L-24 -8.46 L-22.8 -8.46 L-22.8 0Z"/></g>
<g transform="translate(1016.24,328) rotate(-90) scale(0.94,1)" fill="#222"><text font-size="12.3" text-anchor="end" style="font-kerning:none">&#x2007;998</text><path d="M-24.18 0 L-24.18 -7.39 L-26.09 -6.01 L-26.09 -7.09 L-24 -8.46 L-22.8 -8.46 L-22.8 0Z"/></g>
<g transform="translate(1025.69,328) rotate(-90) scale(0.94,1)" fill="#222"><text font-size="12.3" text-anchor="end" style="font-kerning:none">&#x2007;999</text><path d="M-24.18 0 L-24.18 -7.39 L-26.09 -6.01 L-26.09 -7.09 L-24 -8.46 L-22.8 -8.46 L-22.8 0Z"/></g>
<g transform="translate(1035.14,328) rotate(-90) scale(0.94,1)" fill="#222"><text font-size="12.3" text-anchor="end" style="font-kerning:none">2000</text></g>
<g transform="translate(1044.6,328) rotate(-90) scale(0.94,1)" fill="#222"><text font-size="12.3" text-anchor="end" style="font-kerning:none">200&#x2007;</text><path d="M-3.66 0 L-3.66 -7.39 L-5.57 -6.01 L-5.57 -7.09 L-3.48 -8.46 L-2.28 -8.46 L-2.28 0Z"/></g>
<g transform="translate(1054.05,328) rotate(-90) scale(0.94,1)" fill="#222"><text font-size="12.3" text-anchor="end" style="font-kerning:none">2002</text></g>
<g transform="translate(1063.51,328) rotate(-90) scale(0.94,1)" fill="#222"><text font-size="12.3" text-anchor="end" style="font-kerning:none">2003</text></g>
<g transform="translate(1072.96,328) rotate(-90) scale(0.94,1)" fill="#222"><text font-size="12.3" text-anchor="end" style="font-kerning:none">2004</text></g>
<g transform="translate(1082.41,328) rotate(-90) scale(0.94,1)" fill="#222"><text font-size="12.3" text-anchor="end" style="font-kerning:none">2005</text></g>
<g transform="translate(1091.87,328) rotate(-90) scale(0.94,1)" fill="#222"><text font-size="12.3" text-anchor="end" style="font-kerning:none">2006</text></g>
<g transform="translate(1101.32,328) rotate(-90) scale(0.94,1)" fill="#222"><text font-size="12.3" text-anchor="end" style="font-kerning:none">2007</text></g>
<g transform="translate(1110.78,328) rotate(-90) scale(0.94,1)" fill="#222"><text font-size="12.3" text-anchor="end" style="font-kerning:none">2008</text></g>
<g transform="translate(1120.23,328) rotate(-90) scale(0.94,1)" fill="#222"><text font-size="12.3" text-anchor="end" style="font-kerning:none">2009</text></g>
<g transform="translate(1129.68,328) rotate(-90) scale(0.94,1)" fill="#222"><text font-size="12.3" text-anchor="end" style="font-kerning:none">20&#x2007;0</text><path d="M-10.5 0 L-10.5 -7.39 L-12.41 -6.01 L-12.41 -7.09 L-10.32 -8.46 L-9.12 -8.46 L-9.12 0Z"/></g>
<g transform="translate(1139.14,328) rotate(-90) scale(0.94,1)" fill="#222"><text font-size="12.3" text-anchor="end" style="font-kerning:none">20&#x2007;&#x2007;</text><path d="M-10.5 0 L-10.5 -7.39 L-12.41 -6.01 L-12.41 -7.09 L-10.32 -8.46 L-9.12 -8.46 L-9.12 0Z"/><path d="M-3.66 0 L-3.66 -7.39 L-5.57 -6.01 L-5.57 -7.09 L-3.48 -8.46 L-2.28 -8.46 L-2.28 0Z"/></g>
<g transform="translate(1148.59,328) rotate(-90) scale(0.94,1)" fill="#222"><text font-size="12.3" text-anchor="end" style="font-kerning:none">20&#x2007;2</text><path d="M-10.5 0 L-10.5 -7.39 L-12.41 -6.01 L-12.41 -7.09 L-10.32 -8.46 L-9.12 -8.46 L-9.12 0Z"/></g>
<g transform="translate(1158.05,328) rotate(-90) scale(0.94,1)" fill="#222"><text font-size="12.3" text-anchor="end" style="font-kerning:none">20&#x2007;3</text><path d="M-10.5 0 L-10.5 -7.39 L-12.41 -6.01 L-12.41 -7.09 L-10.32 -8.46 L-9.12 -8.46 L-9.12 0Z"/></g>
<g transform="translate(1167.5,328) rotate(-90) scale(0.94,1)" fill="#222"><text font-size="12.3" text-anchor="end" style="font-kerning:none">20&#x2007;4</text><path d="M-10.5 0 L-10.5 -7.39 L-12.41 -6.01 L-12.41 -7.09 L-10.32 -8.46 L-9.12 -8.46 L-9.12 0Z"/></g>
<g transform="translate(1176.95,328) rotate(-90) scale(0.94,1)" fill="#222"><text font-size="12.3" text-anchor="end" style="font-kerning:none">20&#x2007;5</text><path d="M-10.5 0 L-10.5 -7.39 L-12.41 -6.01 L-12.41 -7.09 L-10.32 -8.46 L-9.12 -8.46 L-9.12 0Z"/></g>
<g transform="translate(1186.41,328) rotate(-90) scale(0.94,1)" fill="#222"><text font-size="12.3" text-anchor="end" style="font-kerning:none">20&#x2007;6</text><path d="M-10.5 0 L-10.5 -7.39 L-12.41 -6.01 L-12.41 -7.09 L-10.32 -8.46 L-9.12 -8.46 L-9.12 0Z"/></g>
<text x="674.5" y="371" font-size="10.2" textLength="128.7" lengthAdjust="spacingAndGlyphs" fill="#222">excludes outside values</text>
<text x="704.2" y="414.7" font-family="Liberation Serif, serif" font-weight="bold" font-size="28.5" textLength="34.5" lengthAdjust="spacingAndGlyphs" fill="#000">(b)</text>
<text x="750.3" y="414.7" font-family="Liberation Serif, serif" font-size="22.3" textLength="423.7" lengthAdjust="spacingAndGlyphs" fill="#2e2e2e">Spending Growth, Summarized by Year</text>
<line x1="52.6" y1="476.2" x2="580.5" y2="476.2" stroke="#e6eff1" stroke-width="1.2"/>
<line x1="52.6" y1="537.4" x2="580.5" y2="537.4" stroke="#e6eff1" stroke-width="1.2"/>
<line x1="52.6" y1="598.3" x2="580.5" y2="598.3" stroke="#e6eff1" stroke-width="1.2"/>
<line x1="52.6" y1="659.3" x2="580.5" y2="659.3" stroke="#e6eff1" stroke-width="1.2"/>
<line x1="52.6" y1="720.5" x2="580.5" y2="720.5" stroke="#e6eff1" stroke-width="1.2"/>
<line x1="45.6" y1="476.2" x2="51.6" y2="476.2" stroke="#161616" stroke-width="1.1"/>
<line x1="45.6" y1="537.4" x2="51.6" y2="537.4" stroke="#161616" stroke-width="1.1"/>
<line x1="45.6" y1="598.3" x2="51.6" y2="598.3" stroke="#161616" stroke-width="1.1"/>
<line x1="45.6" y1="659.3" x2="51.6" y2="659.3" stroke="#161616" stroke-width="1.1"/>
<line x1="45.6" y1="720.5" x2="51.6" y2="720.5" stroke="#161616" stroke-width="1.1"/>
<path d="M51.6 462.4 V734.3 H580.5" fill="none" stroke="#161616" stroke-width="1.15"/>
<path d="M70.7 521.7 V566.1 M70.7 597.7 V640.6 M68.5 521.7 H72.9 M68.5 640.6 H72.9" stroke="#1a476f" stroke-width="1.5" fill="none"/>
<rect x="68.45" y="566.1" width="4.5" height="31.6" fill="#8aa2bb" stroke="#1a476f" stroke-width="1.5"/>
<path d="M67.7 581.6 H73.7" stroke="#1a476f" stroke-width="1.7"/>
<path d="M81.14 506.6 V555 M81.14 588.8 V620.6 M78.94 506.6 H83.34 M78.94 620.6 H83.34" stroke="#1a476f" stroke-width="1.5" fill="none"/>
<rect x="78.89" y="555" width="4.5" height="33.8" fill="#8aa2bb" stroke="#1a476f" stroke-width="1.5"/>
<path d="M78.14 572.9 H84.14" stroke="#1a476f" stroke-width="1.7"/>
<path d="M91.58 527.2 V566.7 M91.58 593.9 V634 M89.38 527.2 H93.78 M89.38 634 H93.78" stroke="#1a476f" stroke-width="1.5" fill="none"/>
<rect x="89.33" y="566.7" width="4.5" height="27.2" fill="#8aa2bb" stroke="#1a476f" stroke-width="1.5"/>
<path d="M88.58 576.9 H94.58" stroke="#1a476f" stroke-width="1.7"/>
<path d="M102.02 512.3 V559.3 M102.02 590.5 V634.9 M99.82 512.3 H104.22 M99.82 634.9 H104.22" stroke="#1a476f" stroke-width="1.5" fill="none"/>
<rect x="99.77" y="559.3" width="4.5" height="31.2" fill="#8aa2bb" stroke="#1a476f" stroke-width="1.5"/>
<path d="M99.02 573.3 H105.02" stroke="#1a476f" stroke-width="1.7"/>
<path d="M112.46 524 V562.7 M112.46 594.5 V635.5 M110.26 524 H114.66 M110.26 635.5 H114.66" stroke="#1a476f" stroke-width="1.5" fill="none"/>
<rect x="110.21" y="562.7" width="4.5" height="31.8" fill="#8aa2bb" stroke="#1a476f" stroke-width="1.5"/>
<path d="M109.46 577.5 H115.46" stroke="#1a476f" stroke-width="1.7"/>
<path d="M122.9 501.5 V556.5 M122.9 599.8 V657.8 M120.7 501.5 H125.1 M120.7 657.8 H125.1" stroke="#1a476f" stroke-width="1.5" fill="none"/>
<rect x="120.65" y="556.5" width="4.5" height="43.3" fill="#8aa2bb" stroke="#1a476f" stroke-width="1.5"/>
<path d="M119.9 580.3 H125.9" stroke="#1a476f" stroke-width="1.7"/>
<path d="M133.34 515.1 V559.1 M133.34 597.3 V627.6 M131.14 515.1 H135.54 M131.14 627.6 H135.54" stroke="#1a476f" stroke-width="1.5" fill="none"/>
<rect x="131.09" y="559.1" width="4.5" height="38.2" fill="#8aa2bb" stroke="#1a476f" stroke-width="1.5"/>
<path d="M130.34 582.4 H136.34" stroke="#1a476f" stroke-width="1.7"/>
<path d="M143.78 520.2 V562.9 M143.78 590.1 V631.5 M141.58 520.2 H145.98 M141.58 631.5 H145.98" stroke="#1a476f" stroke-width="1.5" fill="none"/>
<rect x="141.53" y="562.9" width="4.5" height="27.2" fill="#8aa2bb" stroke="#1a476f" stroke-width="1.5"/>
<path d="M140.78 576.9 H146.78" stroke="#1a476f" stroke-width="1.7"/>
<path d="M154.22 526.6 V566.7 M154.22 593.7 V634.9 M152.02 526.6 H156.42 M152.02 634.9 H156.42" stroke="#1a476f" stroke-width="1.5" fill="none"/>
<rect x="151.97" y="566.7" width="4.5" height="27" fill="#8aa2bb" stroke="#1a476f" stroke-width="1.5"/>
<path d="M151.22 578.2 H157.22" stroke="#1a476f" stroke-width="1.7"/>
<path d="M164.66 536.8 V563.3 M164.66 590.5 V628.1 M162.46 536.8 H166.86 M162.46 628.1 H166.86" stroke="#1a476f" stroke-width="1.5" fill="none"/>
<rect x="162.41" y="563.3" width="4.5" height="27.2" fill="#8aa2bb" stroke="#1a476f" stroke-width="1.5"/>
<path d="M161.66 582.4 H167.66" stroke="#1a476f" stroke-width="1.7"/>
<path d="M175.1 542.3 V572 M175.1 594.5 V617.5 M172.9 542.3 H177.3 M172.9 617.5 H177.3" stroke="#1a476f" stroke-width="1.5" fill="none"/>
<rect x="172.85" y="572" width="4.5" height="22.5" fill="#8aa2bb" stroke="#1a476f" stroke-width="1.5"/>
<path d="M172.1 584.1 H178.1" stroke="#1a476f" stroke-width="1.7"/>
<path d="M185.54 538.5 V570.7 M185.54 595.6 V618.5 M183.34 538.5 H187.74 M183.34 618.5 H187.74" stroke="#1a476f" stroke-width="1.5" fill="none"/>
<rect x="183.29" y="570.7" width="4.5" height="24.9" fill="#8aa2bb" stroke="#1a476f" stroke-width="1.5"/>
<path d="M182.54 580.3 H188.54" stroke="#1a476f" stroke-width="1.7"/>
<path d="M195.98 545 V572.6 M195.98 595.2 V625.1 M193.78 545 H198.18 M193.78 625.1 H198.18" stroke="#1a476f" stroke-width="1.5" fill="none"/>
<rect x="193.73" y="572.6" width="4.5" height="22.6" fill="#8aa2bb" stroke="#1a476f" stroke-width="1.5"/>
<path d="M192.98 582.8 H198.98" stroke="#1a476f" stroke-width="1.7"/>
<path d="M206.42 536.5 V573.5 M206.42 600.7 V637 M204.22 536.5 H208.62 M204.22 637 H208.62" stroke="#1a476f" stroke-width="1.5" fill="none"/>
<rect x="204.17" y="573.5" width="4.5" height="27.2" fill="#8aa2bb" stroke="#1a476f" stroke-width="1.5"/>
<path d="M203.42 585.2 H209.42" stroke="#1a476f" stroke-width="1.7"/>
<path d="M216.86 524.4 V566.3 M216.86 596.6 V638.7 M214.66 524.4 H219.06 M214.66 638.7 H219.06" stroke="#1a476f" stroke-width="1.5" fill="none"/>
<rect x="214.61" y="566.3" width="4.5" height="30.3" fill="#8aa2bb" stroke="#1a476f" stroke-width="1.5"/>
<path d="M213.86 583.7 H219.86" stroke="#1a476f" stroke-width="1.7"/>
<path d="M227.3 508.7 V565.6 M227.3 610 V649.9 M225.1 508.7 H229.5 M225.1 649.9 H229.5" stroke="#1a476f" stroke-width="1.5" fill="none"/>
<rect x="225.05" y="565.6" width="4.5" height="44.4" fill="#8aa2bb" stroke="#1a476f" stroke-width="1.5"/>
<path d="M224.3 590.9 H230.3" stroke="#1a476f" stroke-width="1.7"/>
<path d="M237.74 495.3 V556.5 M237.74 604.3 V655.3 M235.54 495.3 H239.94 M235.54 655.3 H239.94" stroke="#1a476f" stroke-width="1.5" fill="none"/>
<rect x="235.49" y="556.5" width="4.5" height="47.8" fill="#8aa2bb" stroke="#1a476f" stroke-width="1.5"/>
<path d="M234.74 585.6 H240.74" stroke="#1a476f" stroke-width="1.7"/>
<path d="M248.18 529.5 V566.1 M248.18 591.3 V618.3 M245.98 529.5 H250.38 M245.98 618.3 H250.38" stroke="#1a476f" stroke-width="1.5" fill="none"/>
<rect x="245.93" y="566.1" width="4.5" height="25.2" fill="#8aa2bb" stroke="#1a476f" stroke-width="1.5"/>
<path d="M245.18 578.8 H251.18" stroke="#1a476f" stroke-width="1.7"/>
<path d="M258.62 525.3 V564.4 M258.62 593 V631 M256.42 525.3 H260.82 M256.42 631 H260.82" stroke="#1a476f" stroke-width="1.5" fill="none"/>
<rect x="256.37" y="564.4" width="4.5" height="28.6" fill="#8aa2bb" stroke="#1a476f" stroke-width="1.5"/>
<path d="M255.62 582.2 H261.62" stroke="#1a476f" stroke-width="1.7"/>
<path d="M269.06 524.7 V569.2 M269.06 606.6 V647.4 M266.86 524.7 H271.26 M266.86 647.4 H271.26" stroke="#1a476f" stroke-width="1.5" fill="none"/>
<rect x="266.81" y="569.2" width="4.5" height="37.4" fill="#8aa2bb" stroke="#1a476f" stroke-width="1.5"/>
<path d="M266.06 584.1 H272.06" stroke="#1a476f" stroke-width="1.7"/>
<path d="M279.5 535.9 V566.5 M279.5 593.5 V629.8 M277.3 535.9 H281.7 M277.3 629.8 H281.7" stroke="#1a476f" stroke-width="1.5" fill="none"/>
<rect x="277.25" y="566.5" width="4.5" height="27" fill="#8aa2bb" stroke="#1a476f" stroke-width="1.5"/>
<path d="M276.5 580.9 H282.5" stroke="#1a476f" stroke-width="1.7"/>
<path d="M289.94 520.6 V564.6 M289.94 594.3 V633.8 M287.74 520.6 H292.14 M287.74 633.8 H292.14" stroke="#1a476f" stroke-width="1.5" fill="none"/>
<rect x="287.69" y="564.6" width="4.5" height="29.7" fill="#8aa2bb" stroke="#1a476f" stroke-width="1.5"/>
<path d="M286.94 578.2 H292.94" stroke="#1a476f" stroke-width="1.7"/>
<path d="M300.38 521.5 V565.4 M300.38 599.8 V638.9 M298.18 521.5 H302.58 M298.18 638.9 H302.58" stroke="#1a476f" stroke-width="1.5" fill="none"/>
<rect x="298.13" y="565.4" width="4.5" height="34.4" fill="#8aa2bb" stroke="#1a476f" stroke-width="1.5"/>
<path d="M297.38 583.3 H303.38" stroke="#1a476f" stroke-width="1.7"/>
<path d="M310.82 523.6 V568.4 M310.82 600.7 V643.2 M308.62 523.6 H313.02 M308.62 643.2 H313.02" stroke="#1a476f" stroke-width="1.5" fill="none"/>
<rect x="308.57" y="568.4" width="4.5" height="32.3" fill="#8aa2bb" stroke="#1a476f" stroke-width="1.5"/>
<path d="M307.82 586.7 H313.82" stroke="#1a476f" stroke-width="1.7"/>
<path d="M321.26 527.6 V565.2 M321.26 598.3 V630.6 M319.06 527.6 H323.46 M319.06 630.6 H323.46" stroke="#1a476f" stroke-width="1.5" fill="none"/>
<rect x="319.01" y="565.2" width="4.5" height="33.1" fill="#8aa2bb" stroke="#1a476f" stroke-width="1.5"/>
<path d="M318.26 582.8 H324.26" stroke="#1a476f" stroke-width="1.7"/>
<path d="M331.7 519.6 V557.4 M331.7 586.7 V618.5 M329.5 519.6 H333.9 M329.5 618.5 H333.9" stroke="#1a476f" stroke-width="1.5" fill="none"/>
<rect x="329.45" y="557.4" width="4.5" height="29.3" fill="#8aa2bb" stroke="#1a476f" stroke-width="1.5"/>
<path d="M328.7 573.3 H334.7" stroke="#1a476f" stroke-width="1.7"/>
<path d="M342.14 492.4 V555.4 M342.14 599.4 V648.2 M339.94 492.4 H344.34 M339.94 648.2 H344.34" stroke="#1a476f" stroke-width="1.5" fill="none"/>
<rect x="339.89" y="555.4" width="4.5" height="44" fill="#8aa2bb" stroke="#1a476f" stroke-width="1.5"/>
<path d="M339.14 577.3 H345.14" stroke="#1a476f" stroke-width="1.7"/>
<path d="M352.58 524.7 V559.9 M352.58 596.2 V633.4 M350.38 524.7 H354.78 M350.38 633.4 H354.78" stroke="#1a476f" stroke-width="1.5" fill="none"/>
<rect x="350.33" y="559.9" width="4.5" height="36.3" fill="#8aa2bb" stroke="#1a476f" stroke-width="1.5"/>
<path d="M349.58 579.4 H355.58" stroke="#1a476f" stroke-width="1.7"/>
<path d="M363.02 515.1 V559.9 M363.02 596.6 V641.9 M360.82 515.1 H365.22 M360.82 641.9 H365.22" stroke="#1a476f" stroke-width="1.5" fill="none"/>
<rect x="360.77" y="559.9" width="4.5" height="36.7" fill="#8aa2bb" stroke="#1a476f" stroke-width="1.5"/>
<path d="M360.02 577.1 H366.02" stroke="#1a476f" stroke-width="1.7"/>
<path d="M373.46 513 V565.2 M373.46 600.7 V627 M371.26 513 H375.66 M371.26 627 H375.66" stroke="#1a476f" stroke-width="1.5" fill="none"/>
<rect x="371.21" y="565.2" width="4.5" height="35.5" fill="#8aa2bb" stroke="#1a476f" stroke-width="1.5"/>
<path d="M370.46 580.7 H376.46" stroke="#1a476f" stroke-width="1.7"/>
<path d="M383.9 525.1 V564.6 M383.9 593.5 V621.1 M381.7 525.1 H386.1 M381.7 621.1 H386.1" stroke="#1a476f" stroke-width="1.5" fill="none"/>
<rect x="381.65" y="564.6" width="4.5" height="28.9" fill="#8aa2bb" stroke="#1a476f" stroke-width="1.5"/>
<path d="M380.9 575.6 H386.9" stroke="#1a476f" stroke-width="1.7"/>
<path d="M394.34 489.4 V554 M394.34 609.2 V655 M392.14 489.4 H396.54 M392.14 655 H396.54" stroke="#1a476f" stroke-width="1.5" fill="none"/>
<rect x="392.09" y="554" width="4.5" height="55.2" fill="#8aa2bb" stroke="#1a476f" stroke-width="1.5"/>
<path d="M391.34 578.2 H397.34" stroke="#1a476f" stroke-width="1.7"/>
<path d="M404.78 553.3 V574.8 M404.78 591.1 V611.1 M402.58 553.3 H406.98 M402.58 611.1 H406.98" stroke="#1a476f" stroke-width="1.5" fill="none"/>
<rect x="402.53" y="574.8" width="4.5" height="16.3" fill="#8aa2bb" stroke="#1a476f" stroke-width="1.5"/>
<path d="M401.78 582.4 H407.78" stroke="#1a476f" stroke-width="1.7"/>
<path d="M415.22 540.2 V563.3 M415.22 601.5 V624 M413.02 540.2 H417.42 M413.02 624 H417.42" stroke="#1a476f" stroke-width="1.5" fill="none"/>
<rect x="412.97" y="563.3" width="4.5" height="38.2" fill="#8aa2bb" stroke="#1a476f" stroke-width="1.5"/>
<path d="M412.22 584.1 H418.22" stroke="#1a476f" stroke-width="1.7"/>
<path d="M425.66 510.4 V559.1 M425.66 600.7 V663.1 M423.46 510.4 H427.86 M423.46 663.1 H427.86" stroke="#1a476f" stroke-width="1.5" fill="none"/>
<rect x="423.41" y="559.1" width="4.5" height="41.6" fill="#8aa2bb" stroke="#1a476f" stroke-width="1.5"/>
<path d="M422.66 575.6 H428.66" stroke="#1a476f" stroke-width="1.7"/>
<path d="M436.1 529.1 V566.7 M436.1 600.7 V636.8 M433.9 529.1 H438.3 M433.9 636.8 H438.3" stroke="#1a476f" stroke-width="1.5" fill="none"/>
<rect x="433.85" y="566.7" width="4.5" height="34" fill="#8aa2bb" stroke="#1a476f" stroke-width="1.5"/>
<path d="M433.1 584.3 H439.1" stroke="#1a476f" stroke-width="1.7"/>
<path d="M446.54 524.7 V567.8 M446.54 598.6 V640 M444.34 524.7 H448.74 M444.34 640 H448.74" stroke="#1a476f" stroke-width="1.5" fill="none"/>
<rect x="444.29" y="567.8" width="4.5" height="30.8" fill="#8aa2bb" stroke="#1a476f" stroke-width="1.5"/>
<path d="M443.54 583.5 H449.54" stroke="#1a476f" stroke-width="1.7"/>
<path d="M456.98 519.6 V564.4 M456.98 592.8 V630 M454.78 519.6 H459.18 M454.78 630 H459.18" stroke="#1a476f" stroke-width="1.5" fill="none"/>
<rect x="454.73" y="564.4" width="4.5" height="28.4" fill="#8aa2bb" stroke="#1a476f" stroke-width="1.5"/>
<path d="M453.98 575.8 H459.98" stroke="#1a476f" stroke-width="1.7"/>
<path d="M467.42 542.7 V568.8 M467.42 601.3 V633 M465.22 542.7 H469.62 M465.22 633 H469.62" stroke="#1a476f" stroke-width="1.5" fill="none"/>
<rect x="465.17" y="568.8" width="4.5" height="32.5" fill="#8aa2bb" stroke="#1a476f" stroke-width="1.5"/>
<path d="M464.42 587.9 H470.42" stroke="#1a476f" stroke-width="1.7"/>
<path d="M477.86 529.8 V566.1 M477.86 598.6 V633 M475.66 529.8 H480.06 M475.66 633 H480.06" stroke="#1a476f" stroke-width="1.5" fill="none"/>
<rect x="475.61" y="566.1" width="4.5" height="32.5" fill="#8aa2bb" stroke="#1a476f" stroke-width="1.5"/>
<path d="M474.86 576.7 H480.86" stroke="#1a476f" stroke-width="1.7"/>
<path d="M488.3 533.6 V563.5 M488.3 586.7 V614.7 M486.1 533.6 H490.5 M486.1 614.7 H490.5" stroke="#1a476f" stroke-width="1.5" fill="none"/>
<rect x="486.05" y="563.5" width="4.5" height="23.2" fill="#8aa2bb" stroke="#1a476f" stroke-width="1.5"/>
<path d="M485.3 575.2 H491.3" stroke="#1a476f" stroke-width="1.7"/>
<path d="M498.74 510.4 V559.1 M498.74 594.5 V648.2 M496.54 510.4 H500.94 M496.54 648.2 H500.94" stroke="#1a476f" stroke-width="1.5" fill="none"/>
<rect x="496.49" y="559.1" width="4.5" height="35.4" fill="#8aa2bb" stroke="#1a476f" stroke-width="1.5"/>
<path d="M495.74 579.2 H501.74" stroke="#1a476f" stroke-width="1.7"/>
<path d="M509.18 528.7 V563.5 M509.18 592.4 V629.8 M506.98 528.7 H511.38 M506.98 629.8 H511.38" stroke="#1a476f" stroke-width="1.5" fill="none"/>
<rect x="506.93" y="563.5" width="4.5" height="28.9" fill="#8aa2bb" stroke="#1a476f" stroke-width="1.5"/>
<path d="M506.18 581.1 H512.18" stroke="#1a476f" stroke-width="1.7"/>
<path d="M519.62 520.6 V563.5 M519.62 592.4 V619.8 M517.42 520.6 H521.82 M517.42 619.8 H521.82" stroke="#1a476f" stroke-width="1.5" fill="none"/>
<rect x="517.37" y="563.5" width="4.5" height="28.9" fill="#8aa2bb" stroke="#1a476f" stroke-width="1.5"/>
<path d="M516.62 575.2 H522.62" stroke="#1a476f" stroke-width="1.7"/>
<path d="M530.06 537.4 V564.2 M530.06 593.5 V628.9 M527.86 537.4 H532.26 M527.86 628.9 H532.26" stroke="#1a476f" stroke-width="1.5" fill="none"/>
<rect x="527.81" y="564.2" width="4.5" height="29.3" fill="#8aa2bb" stroke="#1a476f" stroke-width="1.5"/>
<path d="M527.06 577.7 H533.06" stroke="#1a476f" stroke-width="1.7"/>
<path d="M540.5 524.7 V568.4 M540.5 601.1 V636.6 M538.3 524.7 H542.7 M538.3 636.6 H542.7" stroke="#1a476f" stroke-width="1.5" fill="none"/>
<rect x="538.25" y="568.4" width="4.5" height="32.7" fill="#8aa2bb" stroke="#1a476f" stroke-width="1.5"/>
<path d="M537.5 581.6 H543.5" stroke="#1a476f" stroke-width="1.7"/>
<path d="M550.94 533.6 V569.5 M550.94 601.5 V626.2 M548.74 533.6 H553.14 M548.74 626.2 H553.14" stroke="#1a476f" stroke-width="1.5" fill="none"/>
<rect x="548.69" y="569.5" width="4.5" height="32" fill="#8aa2bb" stroke="#1a476f" stroke-width="1.5"/>
<path d="M547.94 583.7 H553.94" stroke="#1a476f" stroke-width="1.7"/>
<path d="M561.38 479.8 V553.1 M561.38 611.5 V696.2 M559.18 479.8 H563.58 M559.18 696.2 H563.58" stroke="#1a476f" stroke-width="1.5" fill="none"/>
<rect x="559.13" y="553.1" width="4.5" height="58.4" fill="#8aa2bb" stroke="#1a476f" stroke-width="1.5"/>
<path d="M558.38 584.3 H564.38" stroke="#1a476f" stroke-width="1.7"/>
<g transform="translate(38.1,476.2) rotate(-90) scale(0.89,1)" fill="#222"><text font-size="15.9" text-anchor="middle" style="font-kerning:none">20</text></g>
<g transform="translate(38.1,537.4) rotate(-90) scale(0.89,1)" fill="#222"><text font-size="15.9" text-anchor="middle" style="font-kerning:none">&#x2007;0</text><path d="M-4.73 0 L-4.73 -9.55 L-7.2 -7.76 L-7.2 -9.16 L-4.5 -10.94 L-2.94 -10.94 L-2.94 0Z"/></g>
<g transform="translate(38.1,598.3) rotate(-90) scale(0.89,1)" fill="#222"><text font-size="15.9" text-anchor="middle" style="font-kerning:none">0</text></g>
<g transform="translate(38.1,659.3) rotate(-90) scale(0.89,1)" fill="#222"><text font-size="15.9" text-anchor="middle" style="font-kerning:none">-&#x2007;0</text><path d="M-2.08 0 L-2.08 -9.55 L-4.55 -7.76 L-4.55 -9.16 L-1.85 -10.94 L-0.3 -10.94 L-0.3 0Z"/></g>
<g transform="translate(38.1,720.5) rotate(-90) scale(0.89,1)" fill="#222"><text font-size="15.9" text-anchor="middle" style="font-kerning:none">-20</text></g>
<text transform="translate(13.2,598.6) rotate(-90) scale(0.88,1)" font-size="15.9" text-anchor="middle" fill="#222">General Revenue Growth</text>
<text transform="translate(75.1,740.8) rotate(-90) scale(0.9,1)" font-size="12.4" text-anchor="end" fill="#222">Alabama</text>
<text transform="translate(85.54,740.8) rotate(-90) scale(0.9,1)" font-size="12.4" text-anchor="end" fill="#222">Arizona</text>
<text transform="translate(95.98,740.8) rotate(-90) scale(0.9,1)" font-size="12.4" text-anchor="end" fill="#222">Arkansas</text>
<text transform="translate(106.42,740.8) rotate(-90) scale(0.9,1)" font-size="12.4" text-anchor="end" fill="#222">California</text>
<text transform="translate(116.86,740.8) rotate(-90) scale(0.9,1)" font-size="12.4" text-anchor="end" fill="#222">Colorado</text>
<text transform="translate(127.3,740.8) rotate(-90) scale(0.9,1)" font-size="12.4" text-anchor="end" fill="#222">Connecticut</text>
<text transform="translate(137.74,740.8) rotate(-90) scale(0.9,1)" font-size="12.4" text-anchor="end" fill="#222">Delaware</text>
<text transform="translate(148.18,740.8) rotate(-90) scale(0.9,1)" font-size="12.4" text-anchor="end" fill="#222">Florida</text>
<text transform="translate(158.62,740.8) rotate(-90) scale(0.9,1)" font-size="12.4" text-anchor="end" fill="#222">Georgia</text>
<text transform="translate(169.06,740.8) rotate(-90) scale(0.9,1)" font-size="12.4" text-anchor="end" fill="#222">Idaho</text>
<text transform="translate(179.5,740.8) rotate(-90) scale(0.9,1)" font-size="12.4" text-anchor="end" fill="#222">Illinois</text>
<text transform="translate(189.94,740.8) rotate(-90) scale(0.9,1)" font-size="12.4" text-anchor="end" fill="#222">Indiana</text>
<text transform="translate(200.38,740.8) rotate(-90) scale(0.9,1)" font-size="12.4" text-anchor="end" fill="#222">Iowa</text>
<text transform="translate(210.82,740.8) rotate(-90) scale(0.9,1)" font-size="12.4" text-anchor="end" fill="#222">Kansas</text>
<text transform="translate(221.26,740.8) rotate(-90) scale(0.9,1)" font-size="12.4" text-anchor="end" fill="#222">Kentucky</text>
<text transform="translate(231.7,740.8) rotate(-90) scale(0.9,1)" font-size="12.4" text-anchor="end" fill="#222">Louisiana</text>
<text transform="translate(242.14,740.8) rotate(-90) scale(0.9,1)" font-size="12.4" text-anchor="end" fill="#222">Maine</text>
<text transform="translate(252.58,740.8) rotate(-90) scale(0.9,1)" font-size="12.4" text-anchor="end" fill="#222">Maryland</text>
<text transform="translate(263.02,740.8) rotate(-90) scale(0.9,1)" font-size="12.4" text-anchor="end" fill="#222">Massachusetts</text>
<text transform="translate(273.46,740.8) rotate(-90) scale(0.9,1)" font-size="12.4" text-anchor="end" fill="#222">Michigan</text>
<text transform="translate(283.9,740.8) rotate(-90) scale(0.9,1)" font-size="12.4" text-anchor="end" fill="#222">Minnesota</text>
<text transform="translate(294.34,740.8) rotate(-90) scale(0.9,1)" font-size="12.4" text-anchor="end" fill="#222">Mississippi</text>
<text transform="translate(304.78,740.8) rotate(-90) scale(0.9,1)" font-size="12.4" text-anchor="end" fill="#222">Missouri</text>
<text transform="translate(315.22,740.8) rotate(-90) scale(0.9,1)" font-size="12.4" text-anchor="end" fill="#222">Montana</text>
<text transform="translate(325.66,740.8) rotate(-90) scale(0.9,1)" font-size="12.4" text-anchor="end" fill="#222">Nebraska</text>
<text transform="translate(336.1,740.8) rotate(-90) scale(0.9,1)" font-size="12.4" text-anchor="end" fill="#222">Nevada</text>
<text transform="translate(346.54,740.8) rotate(-90) scale(0.9,1)" font-size="12.4" text-anchor="end" fill="#222">New Hampshire</text>
<text transform="translate(356.98,740.8) rotate(-90) scale(0.9,1)" font-size="12.4" text-anchor="end" fill="#222">New Jersey</text>
<text transform="translate(367.42,740.8) rotate(-90) scale(0.9,1)" font-size="12.4" text-anchor="end" fill="#222">New Mexico</text>
<text transform="translate(377.86,740.8) rotate(-90) scale(0.9,1)" font-size="12.4" text-anchor="end" fill="#222">New York</text>
<text transform="translate(388.3,740.8) rotate(-90) scale(0.9,1)" font-size="12.4" text-anchor="end" fill="#222">North Carolina</text>
<text transform="translate(398.74,740.8) rotate(-90) scale(0.9,1)" font-size="12.4" text-anchor="end" fill="#222">North Dakota</text>
<text transform="translate(409.18,740.8) rotate(-90) scale(0.9,1)" font-size="12.4" text-anchor="end" fill="#222">Ohio</text>
<text transform="translate(419.62,740.8) rotate(-90) scale(0.9,1)" font-size="12.4" text-anchor="end" fill="#222">Oklahoma</text>
<text transform="translate(430.06,740.8) rotate(-90) scale(0.9,1)" font-size="12.4" text-anchor="end" fill="#222">Oregon</text>
<text transform="translate(440.5,740.8) rotate(-90) scale(0.9,1)" font-size="12.4" text-anchor="end" fill="#222">Pennsylvania</text>
<text transform="translate(450.94,740.8) rotate(-90) scale(0.9,1)" font-size="12.4" text-anchor="end" fill="#222">Rhode Island</text>
<text transform="translate(461.38,740.8) rotate(-90) scale(0.9,1)" font-size="12.4" text-anchor="end" fill="#222">South Carolina</text>
<text transform="translate(471.82,740.8) rotate(-90) scale(0.9,1)" font-size="12.4" text-anchor="end" fill="#222">South Dakota</text>
<text transform="translate(482.26,740.8) rotate(-90) scale(0.9,1)" font-size="12.4" text-anchor="end" fill="#222">Tennessee</text>
<text transform="translate(492.7,740.8) rotate(-90) scale(0.9,1)" font-size="12.4" text-anchor="end" fill="#222">Texas</text>
<text transform="translate(503.14,740.8) rotate(-90) scale(0.9,1)" font-size="12.4" text-anchor="end" fill="#222">Utah</text>
<text transform="translate(513.58,740.8) rotate(-90) scale(0.9,1)" font-size="12.4" text-anchor="end" fill="#222">Vermont</text>
<text transform="translate(524.02,740.8) rotate(-90) scale(0.9,1)" font-size="12.4" text-anchor="end" fill="#222">Virginia</text>
<text transform="translate(534.46,740.8) rotate(-90) scale(0.9,1)" font-size="12.4" text-anchor="end" fill="#222">Washington</text>
<text transform="translate(544.9,740.8) rotate(-90) scale(0.9,1)" font-size="12.4" text-anchor="end" fill="#222">West Virginia</text>
<text transform="translate(555.34,740.8) rotate(-90) scale(0.9,1)" font-size="12.4" text-anchor="end" fill="#222">Wisconsin</text>
<text transform="translate(565.78,740.8) rotate(-90) scale(0.9,1)" font-size="12.4" text-anchor="end" fill="#222">Wyoming</text>
<text x="54.6" y="830.8" font-size="10.2" textLength="128.7" lengthAdjust="spacingAndGlyphs" fill="#222">excludes outside values</text>
<text x="85.8" y="875" font-family="Liberation Serif, serif" font-weight="bold" font-size="28.5" textLength="30.9" lengthAdjust="spacingAndGlyphs" fill="#000">(c)</text>
<text x="130" y="875" font-family="Liberation Serif, serif" font-size="22.3" textLength="421.8" lengthAdjust="spacingAndGlyphs" fill="#2e2e2e">Revenue Growth, Summarized by State</text>
<line x1="673.2" y1="476.5" x2="1200" y2="476.5" stroke="#e6eff1" stroke-width="1.2"/>
<line x1="673.2" y1="572.8" x2="1200" y2="572.8" stroke="#e6eff1" stroke-width="1.2"/>
<line x1="673.2" y1="669.4" x2="1200" y2="669.4" stroke="#e6eff1" stroke-width="1.2"/>
<line x1="673.2" y1="765.2" x2="1200" y2="765.2" stroke="#e6eff1" stroke-width="1.2"/>
<line x1="666.2" y1="476.5" x2="672.2" y2="476.5" stroke="#4a4a4a" stroke-width="1.1"/>
<line x1="666.2" y1="572.8" x2="672.2" y2="572.8" stroke="#4a4a4a" stroke-width="1.1"/>
<line x1="666.2" y1="669.4" x2="672.2" y2="669.4" stroke="#4a4a4a" stroke-width="1.1"/>
<line x1="666.2" y1="765.2" x2="672.2" y2="765.2" stroke="#4a4a4a" stroke-width="1.1"/>
<path d="M672.2 462 V782.9 H1200" fill="none" stroke="#4a4a4a" stroke-width="1.6"/>
<path d="M690.4 536.9 V570.5 M690.4 614 V643.9 M688.3 536.9 H692.5 M688.3 643.9 H692.5" stroke="#1a476f" stroke-width="1.5" fill="none"/>
<rect x="688.35" y="570.5" width="4.1" height="43.5" fill="#8aa2bb" stroke="#1a476f" stroke-width="1.5"/>
<path d="M687.6 589.8 H693.2" stroke="#1a476f" stroke-width="1.7"/>
<path d="M699.85 533.9 V586.5 M699.85 625.7 V684.1 M697.75 533.9 H701.95 M697.75 684.1 H701.95" stroke="#1a476f" stroke-width="1.5" fill="none"/>
<rect x="697.8" y="586.5" width="4.1" height="39.2" fill="#8aa2bb" stroke="#1a476f" stroke-width="1.5"/>
<path d="M697.05 614 H702.65" stroke="#1a476f" stroke-width="1.7"/>
<path d="M709.31 503.9 V565.6 M709.31 609.5 V669.6 M707.21 503.9 H711.41 M707.21 669.6 H711.41" stroke="#1a476f" stroke-width="1.5" fill="none"/>
<rect x="707.26" y="565.6" width="4.1" height="43.9" fill="#8aa2bb" stroke="#1a476f" stroke-width="1.5"/>
<path d="M706.51 587 H712.11" stroke="#1a476f" stroke-width="1.7"/>
<path d="M718.76 564.6 V607.5 M718.76 657.4 V708.3 M716.66 564.6 H720.86 M716.66 708.3 H720.86" stroke="#1a476f" stroke-width="1.5" fill="none"/>
<rect x="716.71" y="607.5" width="4.1" height="49.9" fill="#8aa2bb" stroke="#1a476f" stroke-width="1.5"/>
<path d="M715.96 630.2 H721.56" stroke="#1a476f" stroke-width="1.7"/>
<path d="M728.22 524.9 V590 M728.22 649.7 V688.3 M726.12 524.9 H730.32 M726.12 688.3 H730.32" stroke="#1a476f" stroke-width="1.5" fill="none"/>
<rect x="726.17" y="590" width="4.1" height="59.7" fill="#8aa2bb" stroke="#1a476f" stroke-width="1.5"/>
<path d="M725.42 629.4 H731.02" stroke="#1a476f" stroke-width="1.7"/>
<path d="M737.67 546.1 V609.5 M737.67 651.7 V712.3 M735.57 546.1 H739.77 M735.57 712.3 H739.77" stroke="#1a476f" stroke-width="1.5" fill="none"/>
<rect x="735.62" y="609.5" width="4.1" height="42.2" fill="#8aa2bb" stroke="#1a476f" stroke-width="1.5"/>
<path d="M734.87 631.2 H740.47" stroke="#1a476f" stroke-width="1.7"/>
<path d="M747.12 505.9 V593 M747.12 654.7 V725 M745.02 505.9 H749.22 M745.02 725 H749.22" stroke="#1a476f" stroke-width="1.5" fill="none"/>
<rect x="745.07" y="593" width="4.1" height="61.7" fill="#8aa2bb" stroke="#1a476f" stroke-width="1.5"/>
<path d="M744.32 623.7 H749.92" stroke="#1a476f" stroke-width="1.7"/>
<path d="M756.58 552.1 V609.7 M756.58 649.9 V693.8 M754.48 552.1 H758.68 M754.48 693.8 H758.68" stroke="#1a476f" stroke-width="1.5" fill="none"/>
<rect x="754.53" y="609.7" width="4.1" height="40.2" fill="#8aa2bb" stroke="#1a476f" stroke-width="1.5"/>
<path d="M753.78 626.2 H759.38" stroke="#1a476f" stroke-width="1.7"/>
<path d="M766.03 521.9 V568.6 M766.03 627.2 V687.3 M763.93 521.9 H768.13 M763.93 687.3 H768.13" stroke="#1a476f" stroke-width="1.5" fill="none"/>
<rect x="763.98" y="568.6" width="4.1" height="58.6" fill="#8aa2bb" stroke="#1a476f" stroke-width="1.5"/>
<path d="M763.23 605.7 H768.83" stroke="#1a476f" stroke-width="1.7"/>
<path d="M775.49 526.9 V573.8 M775.49 628.7 V684.1 M773.39 526.9 H777.59 M773.39 684.1 H777.59" stroke="#1a476f" stroke-width="1.5" fill="none"/>
<rect x="773.44" y="573.8" width="4.1" height="54.9" fill="#8aa2bb" stroke="#1a476f" stroke-width="1.5"/>
<path d="M772.69 605 H778.29" stroke="#1a476f" stroke-width="1.7"/>
<path d="M784.94 633.2 V663.1 M784.94 703.3 V751 M782.84 633.2 H787.04 M782.84 751 H787.04" stroke="#1a476f" stroke-width="1.5" fill="none"/>
<rect x="782.89" y="663.1" width="4.1" height="40.2" fill="#8aa2bb" stroke="#1a476f" stroke-width="1.5"/>
<path d="M782.14 687.3 H787.74" stroke="#1a476f" stroke-width="1.7"/>
<path d="M794.39 561.8 V629.4 M794.39 681.6 V745.7 M792.29 561.8 H796.49 M792.29 745.7 H796.49" stroke="#1a476f" stroke-width="1.5" fill="none"/>
<rect x="792.34" y="629.4" width="4.1" height="52.2" fill="#8aa2bb" stroke="#1a476f" stroke-width="1.5"/>
<path d="M791.59 650.4 H797.19" stroke="#1a476f" stroke-width="1.7"/>
<path d="M803.85 538.4 V577.3 M803.85 614 V651.7 M801.75 538.4 H805.95 M801.75 651.7 H805.95" stroke="#1a476f" stroke-width="1.5" fill="none"/>
<rect x="801.8" y="577.3" width="4.1" height="36.7" fill="#8aa2bb" stroke="#1a476f" stroke-width="1.5"/>
<path d="M801.05 601 H806.65" stroke="#1a476f" stroke-width="1.7"/>
<path d="M813.3 553.3 V614 M813.3 654.4 V689.6 M811.2 553.3 H815.4 M811.2 689.6 H815.4" stroke="#1a476f" stroke-width="1.5" fill="none"/>
<rect x="811.25" y="614" width="4.1" height="40.4" fill="#8aa2bb" stroke="#1a476f" stroke-width="1.5"/>
<path d="M810.5 634.7 H816.1" stroke="#1a476f" stroke-width="1.7"/>
<path d="M822.76 537.4 V591.5 M822.76 627.9 V676.1 M820.66 537.4 H824.86 M820.66 676.1 H824.86" stroke="#1a476f" stroke-width="1.5" fill="none"/>
<rect x="820.71" y="591.5" width="4.1" height="36.4" fill="#8aa2bb" stroke="#1a476f" stroke-width="1.5"/>
<path d="M819.96 612.2 H825.56" stroke="#1a476f" stroke-width="1.7"/>
<path d="M832.21 600.5 V633.4 M832.21 664.4 V702.6 M830.11 600.5 H834.31 M830.11 702.6 H834.31" stroke="#1a476f" stroke-width="1.5" fill="none"/>
<rect x="830.16" y="633.4" width="4.1" height="31" fill="#8aa2bb" stroke="#1a476f" stroke-width="1.5"/>
<path d="M829.41 652.7 H835.01" stroke="#1a476f" stroke-width="1.7"/>
<path d="M841.66 575.3 V631.4 M841.66 682.1 V748.2 M839.56 575.3 H843.76 M839.56 748.2 H843.76" stroke="#1a476f" stroke-width="1.5" fill="none"/>
<rect x="839.61" y="631.4" width="4.1" height="50.7" fill="#8aa2bb" stroke="#1a476f" stroke-width="1.5"/>
<path d="M838.86 663.9 H844.46" stroke="#1a476f" stroke-width="1.7"/>
<path d="M851.12 624.5 V659.6 M851.12 699.3 V732.8 M849.02 624.5 H853.22 M849.02 732.8 H853.22" stroke="#1a476f" stroke-width="1.5" fill="none"/>
<rect x="849.07" y="659.6" width="4.1" height="39.7" fill="#8aa2bb" stroke="#1a476f" stroke-width="1.5"/>
<path d="M848.32 685.1 H853.92" stroke="#1a476f" stroke-width="1.7"/>
<path d="M860.57 609 V647.7 M860.57 689.8 V732.8 M858.47 609 H862.67 M858.47 732.8 H862.67" stroke="#1a476f" stroke-width="1.5" fill="none"/>
<rect x="858.52" y="647.7" width="4.1" height="42.1" fill="#8aa2bb" stroke="#1a476f" stroke-width="1.5"/>
<path d="M857.77 676.9 H863.37" stroke="#1a476f" stroke-width="1.7"/>
<path d="M870.03 572.3 V628.4 M870.03 677.4 V723.5 M867.93 572.3 H872.13 M867.93 723.5 H872.13" stroke="#1a476f" stroke-width="1.5" fill="none"/>
<rect x="867.98" y="628.4" width="4.1" height="49" fill="#8aa2bb" stroke="#1a476f" stroke-width="1.5"/>
<path d="M867.23 651.4 H872.83" stroke="#1a476f" stroke-width="1.7"/>
<path d="M879.48 515.9 V566.6 M879.48 625.7 V700.1 M877.38 515.9 H881.58 M877.38 700.1 H881.58" stroke="#1a476f" stroke-width="1.5" fill="none"/>
<rect x="877.43" y="566.6" width="4.1" height="59.1" fill="#8aa2bb" stroke="#1a476f" stroke-width="1.5"/>
<path d="M876.68 596.8 H882.28" stroke="#1a476f" stroke-width="1.7"/>
<path d="M888.93 555.8 V588.3 M888.93 636.2 V674.9 M886.83 555.8 H891.03 M886.83 674.9 H891.03" stroke="#1a476f" stroke-width="1.5" fill="none"/>
<rect x="886.88" y="588.3" width="4.1" height="47.9" fill="#8aa2bb" stroke="#1a476f" stroke-width="1.5"/>
<path d="M886.13 614 H891.73" stroke="#1a476f" stroke-width="1.7"/>
<path d="M898.39 566.3 V610.7 M898.39 644.4 V686.1 M896.29 566.3 H900.49 M896.29 686.1 H900.49" stroke="#1a476f" stroke-width="1.5" fill="none"/>
<rect x="896.34" y="610.7" width="4.1" height="33.7" fill="#8aa2bb" stroke="#1a476f" stroke-width="1.5"/>
<path d="M895.59 628.4 H901.19" stroke="#1a476f" stroke-width="1.7"/>
<path d="M907.84 593.5 V626 M907.84 683.6 V768.7 M905.74 593.5 H909.94 M905.74 768.7 H909.94" stroke="#1a476f" stroke-width="1.5" fill="none"/>
<rect x="905.79" y="626" width="4.1" height="57.6" fill="#8aa2bb" stroke="#1a476f" stroke-width="1.5"/>
<path d="M905.04 650.9 H910.64" stroke="#1a476f" stroke-width="1.7"/>
<path d="M917.3 569.8 V618.5 M917.3 658.4 V717.5 M915.2 569.8 H919.4 M915.2 717.5 H919.4" stroke="#1a476f" stroke-width="1.5" fill="none"/>
<rect x="915.25" y="618.5" width="4.1" height="39.9" fill="#8aa2bb" stroke="#1a476f" stroke-width="1.5"/>
<path d="M914.5 636.4 H920.1" stroke="#1a476f" stroke-width="1.7"/>
<path d="M926.75 577.8 V620 M926.75 654.2 V693.8 M924.65 577.8 H928.85 M924.65 693.8 H928.85" stroke="#1a476f" stroke-width="1.5" fill="none"/>
<rect x="924.7" y="620" width="4.1" height="34.2" fill="#8aa2bb" stroke="#1a476f" stroke-width="1.5"/>
<path d="M923.95 636.4 H929.55" stroke="#1a476f" stroke-width="1.7"/>
<path d="M936.2 589 V638.4 M936.2 671.6 V696.3 M934.1 589 H938.3 M934.1 696.3 H938.3" stroke="#1a476f" stroke-width="1.5" fill="none"/>
<rect x="934.15" y="638.4" width="4.1" height="33.2" fill="#8aa2bb" stroke="#1a476f" stroke-width="1.5"/>
<path d="M933.4 651.4 H939" stroke="#1a476f" stroke-width="1.7"/>
<path d="M945.66 588.5 V626.9 M945.66 656.9 V694.8 M943.56 588.5 H947.76 M943.56 694.8 H947.76" stroke="#1a476f" stroke-width="1.5" fill="none"/>
<rect x="943.61" y="626.9" width="4.1" height="30" fill="#8aa2bb" stroke="#1a476f" stroke-width="1.5"/>
<path d="M942.86 638.7 H948.46" stroke="#1a476f" stroke-width="1.7"/>
<path d="M955.11 521.6 V574.8 M955.11 645.2 V711.3 M953.01 521.6 H957.21 M953.01 711.3 H957.21" stroke="#1a476f" stroke-width="1.5" fill="none"/>
<rect x="953.06" y="574.8" width="4.1" height="70.4" fill="#8aa2bb" stroke="#1a476f" stroke-width="1.5"/>
<path d="M952.31 613.5 H957.91" stroke="#1a476f" stroke-width="1.7"/>
<path d="M964.57 533.1 V598.7 M964.57 643.9 V689.3 M962.47 533.1 H966.67 M962.47 689.3 H966.67" stroke="#1a476f" stroke-width="1.5" fill="none"/>
<rect x="962.52" y="598.7" width="4.1" height="45.2" fill="#8aa2bb" stroke="#1a476f" stroke-width="1.5"/>
<path d="M961.77 617.7 H967.37" stroke="#1a476f" stroke-width="1.7"/>
<path d="M974.02 589 V611.5 M974.02 657.9 V684.8 M971.92 589 H976.12 M971.92 684.8 H976.12" stroke="#1a476f" stroke-width="1.5" fill="none"/>
<rect x="971.97" y="611.5" width="4.1" height="46.4" fill="#8aa2bb" stroke="#1a476f" stroke-width="1.5"/>
<path d="M971.22 633.7 H976.82" stroke="#1a476f" stroke-width="1.7"/>
<path d="M983.47 564.8 V613.5 M983.47 647.7 V689.6 M981.37 564.8 H985.57 M981.37 689.6 H985.57" stroke="#1a476f" stroke-width="1.5" fill="none"/>
<rect x="981.42" y="613.5" width="4.1" height="34.2" fill="#8aa2bb" stroke="#1a476f" stroke-width="1.5"/>
<path d="M980.67 635.4 H986.27" stroke="#1a476f" stroke-width="1.7"/>
<path d="M992.93 583 V631.2 M992.93 663.9 V709.8 M990.83 583 H995.03 M990.83 709.8 H995.03" stroke="#1a476f" stroke-width="1.5" fill="none"/>
<rect x="990.88" y="631.2" width="4.1" height="32.7" fill="#8aa2bb" stroke="#1a476f" stroke-width="1.5"/>
<path d="M990.13 646.7 H995.73" stroke="#1a476f" stroke-width="1.7"/>
<path d="M1002.38 614 V632.7 M1002.38 647.4 V663.9 M1000.28 614 H1004.48 M1000.28 663.9 H1004.48" stroke="#1a476f" stroke-width="1.5" fill="none"/>
<rect x="1000.33" y="632.7" width="4.1" height="14.7" fill="#8aa2bb" stroke="#1a476f" stroke-width="1.5"/>
<path d="M999.58 639.4 H1005.18" stroke="#1a476f" stroke-width="1.7"/>
<path d="M1011.84 574 V613.2 M1011.84 643.4 V688.8 M1009.74 574 H1013.94 M1009.74 688.8 H1013.94" stroke="#1a476f" stroke-width="1.5" fill="none"/>
<rect x="1009.79" y="613.2" width="4.1" height="30.2" fill="#8aa2bb" stroke="#1a476f" stroke-width="1.5"/>
<path d="M1009.04 629.9 H1014.64" stroke="#1a476f" stroke-width="1.7"/>
<path d="M1021.29 608 V642.2 M1021.29 669.1 V701.6 M1019.19 608 H1023.39 M1019.19 701.6 H1023.39" stroke="#1a476f" stroke-width="1.5" fill="none"/>
<rect x="1019.24" y="642.2" width="4.1" height="26.9" fill="#8aa2bb" stroke="#1a476f" stroke-width="1.5"/>
<path d="M1018.49 653.9 H1024.09" stroke="#1a476f" stroke-width="1.7"/>
<path d="M1030.74 590.5 V625.7 M1030.74 650.4 V687.6 M1028.64 590.5 H1032.84 M1028.64 687.6 H1032.84" stroke="#1a476f" stroke-width="1.5" fill="none"/>
<rect x="1028.69" y="625.7" width="4.1" height="24.7" fill="#8aa2bb" stroke="#1a476f" stroke-width="1.5"/>
<path d="M1027.94 634.7 H1033.54" stroke="#1a476f" stroke-width="1.7"/>
<path d="M1040.2 581.5 V628.4 M1040.2 665.4 V699.6 M1038.1 581.5 H1042.3 M1038.1 699.6 H1042.3" stroke="#1a476f" stroke-width="1.5" fill="none"/>
<rect x="1038.15" y="628.4" width="4.1" height="37" fill="#8aa2bb" stroke="#1a476f" stroke-width="1.5"/>
<path d="M1037.4 645.2 H1043" stroke="#1a476f" stroke-width="1.7"/>
<path d="M1049.65 600.2 V642.4 M1049.65 680.1 V730.3 M1047.55 600.2 H1051.75 M1047.55 730.3 H1051.75" stroke="#1a476f" stroke-width="1.5" fill="none"/>
<rect x="1047.6" y="642.4" width="4.1" height="37.7" fill="#8aa2bb" stroke="#1a476f" stroke-width="1.5"/>
<path d="M1046.85 666.9 H1052.45" stroke="#1a476f" stroke-width="1.7"/>
<path d="M1059.11 612.7 V639.9 M1059.11 675.4 V699.6 M1057.01 612.7 H1061.21 M1057.01 699.6 H1061.21" stroke="#1a476f" stroke-width="1.5" fill="none"/>
<rect x="1057.06" y="639.9" width="4.1" height="35.5" fill="#8aa2bb" stroke="#1a476f" stroke-width="1.5"/>
<path d="M1056.31 653.4 H1061.91" stroke="#1a476f" stroke-width="1.7"/>
<path d="M1068.56 577.8 V625.2 M1068.56 671.1 V735.5 M1066.46 577.8 H1070.66 M1066.46 735.5 H1070.66" stroke="#1a476f" stroke-width="1.5" fill="none"/>
<rect x="1066.51" y="625.2" width="4.1" height="45.9" fill="#8aa2bb" stroke="#1a476f" stroke-width="1.5"/>
<path d="M1065.76 642.2 H1071.36" stroke="#1a476f" stroke-width="1.7"/>
<path d="M1078.01 602 V631.2 M1078.01 671.1 V703.8 M1075.91 602 H1080.11 M1075.91 703.8 H1080.11" stroke="#1a476f" stroke-width="1.5" fill="none"/>
<rect x="1075.96" y="631.2" width="4.1" height="39.9" fill="#8aa2bb" stroke="#1a476f" stroke-width="1.5"/>
<path d="M1075.21 656.4 H1080.81" stroke="#1a476f" stroke-width="1.7"/>
<path d="M1087.47 585.3 V626 M1087.47 666.4 V709.3 M1085.37 585.3 H1089.57 M1085.37 709.3 H1089.57" stroke="#1a476f" stroke-width="1.5" fill="none"/>
<rect x="1085.42" y="626" width="4.1" height="40.4" fill="#8aa2bb" stroke="#1a476f" stroke-width="1.5"/>
<path d="M1084.67 647.2 H1090.27" stroke="#1a476f" stroke-width="1.7"/>
<path d="M1096.92 621 V655.1 M1096.92 689.6 V734.8 M1094.82 621 H1099.02 M1094.82 734.8 H1099.02" stroke="#1a476f" stroke-width="1.5" fill="none"/>
<rect x="1094.87" y="655.1" width="4.1" height="34.5" fill="#8aa2bb" stroke="#1a476f" stroke-width="1.5"/>
<path d="M1094.12 671.6 H1099.72" stroke="#1a476f" stroke-width="1.7"/>
<path d="M1106.38 632.7 V671.4 M1106.38 697.3 V730 M1104.28 632.7 H1108.48 M1104.28 730 H1108.48" stroke="#1a476f" stroke-width="1.5" fill="none"/>
<rect x="1104.33" y="671.4" width="4.1" height="25.9" fill="#8aa2bb" stroke="#1a476f" stroke-width="1.5"/>
<path d="M1103.58 684.3 H1109.18" stroke="#1a476f" stroke-width="1.7"/>
<path d="M1115.83 587.8 V636.4 M1115.83 684.3 V749.2 M1113.73 587.8 H1117.93 M1113.73 749.2 H1117.93" stroke="#1a476f" stroke-width="1.5" fill="none"/>
<rect x="1113.78" y="636.4" width="4.1" height="47.9" fill="#8aa2bb" stroke="#1a476f" stroke-width="1.5"/>
<path d="M1113.03 657.1 H1118.63" stroke="#1a476f" stroke-width="1.7"/>
<path d="M1125.28 602.7 V634.4 M1125.28 657.6 V683.1 M1123.18 602.7 H1127.38 M1123.18 683.1 H1127.38" stroke="#1a476f" stroke-width="1.5" fill="none"/>
<rect x="1123.23" y="634.4" width="4.1" height="23.2" fill="#8aa2bb" stroke="#1a476f" stroke-width="1.5"/>
<path d="M1122.48 647.9 H1128.08" stroke="#1a476f" stroke-width="1.7"/>
<path d="M1134.74 615.5 V634.2 M1134.74 664.1 V697.6 M1132.64 615.5 H1136.84 M1132.64 697.6 H1136.84" stroke="#1a476f" stroke-width="1.5" fill="none"/>
<rect x="1132.69" y="634.2" width="4.1" height="29.9" fill="#8aa2bb" stroke="#1a476f" stroke-width="1.5"/>
<path d="M1131.94 647.2 H1137.54" stroke="#1a476f" stroke-width="1.7"/>
<path d="M1144.19 637.4 V684.8 M1144.19 723.8 V758.7 M1142.09 637.4 H1146.29 M1142.09 758.7 H1146.29" stroke="#1a476f" stroke-width="1.5" fill="none"/>
<rect x="1142.14" y="684.8" width="4.1" height="39" fill="#8aa2bb" stroke="#1a476f" stroke-width="1.5"/>
<path d="M1141.39 711.6 H1146.99" stroke="#1a476f" stroke-width="1.7"/>
<path d="M1153.65 630.7 V657.4 M1153.65 687.8 V703.3 M1151.55 630.7 H1155.75 M1151.55 703.3 H1155.75" stroke="#1a476f" stroke-width="1.5" fill="none"/>
<rect x="1151.6" y="657.4" width="4.1" height="30.4" fill="#8aa2bb" stroke="#1a476f" stroke-width="1.5"/>
<path d="M1150.85 670.1 H1156.45" stroke="#1a476f" stroke-width="1.7"/>
<path d="M1163.1 597.5 V651.2 M1163.1 686.3 V726 M1161 597.5 H1165.2 M1161 726 H1165.2" stroke="#1a476f" stroke-width="1.5" fill="none"/>
<rect x="1161.05" y="651.2" width="4.1" height="35.1" fill="#8aa2bb" stroke="#1a476f" stroke-width="1.5"/>
<path d="M1160.3 675.6 H1165.9" stroke="#1a476f" stroke-width="1.7"/>
<path d="M1172.55 566.3 V602.5 M1172.55 636.7 V675.4 M1170.45 566.3 H1174.65 M1170.45 675.4 H1174.65" stroke="#1a476f" stroke-width="1.5" fill="none"/>
<rect x="1170.5" y="602.5" width="4.1" height="34.2" fill="#8aa2bb" stroke="#1a476f" stroke-width="1.5"/>
<path d="M1169.75 618.5 H1175.35" stroke="#1a476f" stroke-width="1.7"/>
<path d="M1182.01 571.8 V625.2 M1182.01 662.4 V716.8 M1179.91 571.8 H1184.11 M1179.91 716.8 H1184.11" stroke="#1a476f" stroke-width="1.5" fill="none"/>
<rect x="1179.96" y="625.2" width="4.1" height="37.2" fill="#8aa2bb" stroke="#1a476f" stroke-width="1.5"/>
<path d="M1179.21 644.2 H1184.81" stroke="#1a476f" stroke-width="1.7"/>
<g transform="translate(658.6,476.5) rotate(-90) scale(0.92,1)" fill="#222"><text font-size="16" text-anchor="middle" style="font-kerning:none">20</text></g>
<g transform="translate(658.6,572.8) rotate(-90) scale(0.92,1)" fill="#222"><text font-size="16" text-anchor="middle" style="font-kerning:none">&#x2007;0</text><path d="M-4.76 0 L-4.76 -9.61 L-7.24 -7.81 L-7.24 -9.22 L-4.52 -11.01 L-2.96 -11.01 L-2.96 0Z"/></g>
<g transform="translate(658.6,669.4) rotate(-90) scale(0.92,1)" fill="#222"><text font-size="16" text-anchor="middle" style="font-kerning:none">0</text></g>
<g transform="translate(658.6,765.2) rotate(-90) scale(0.92,1)" fill="#222"><text font-size="16" text-anchor="middle" style="font-kerning:none">-&#x2007;0</text><path d="M-2.09 0 L-2.09 -9.61 L-4.58 -7.81 L-4.58 -9.22 L-1.86 -11.01 L-0.3 -11.01 L-0.3 0Z"/></g>
<text transform="translate(634.2,623) rotate(-90) scale(0.84,1)" font-size="16.4" text-anchor="middle" fill="#222">General Revenue Growth</text>
<g transform="translate(694.8,789.1) rotate(-90) scale(0.91,1)" fill="#222"><text font-size="12.3" text-anchor="end" style="font-kerning:none">&#x2007;964</text><path d="M-24.18 0 L-24.18 -7.39 L-26.09 -6.01 L-26.09 -7.09 L-24 -8.46 L-22.8 -8.46 L-22.8 0Z"/></g>
<g transform="translate(704.25,789.1) rotate(-90) scale(0.91,1)" fill="#222"><text font-size="12.3" text-anchor="end" style="font-kerning:none">&#x2007;965</text><path d="M-24.18 0 L-24.18 -7.39 L-26.09 -6.01 L-26.09 -7.09 L-24 -8.46 L-22.8 -8.46 L-22.8 0Z"/></g>
<g transform="translate(713.71,789.1) rotate(-90) scale(0.91,1)" fill="#222"><text font-size="12.3" text-anchor="end" style="font-kerning:none">&#x2007;966</text><path d="M-24.18 0 L-24.18 -7.39 L-26.09 -6.01 L-26.09 -7.09 L-24 -8.46 L-22.8 -8.46 L-22.8 0Z"/></g>
<g transform="translate(723.16,789.1) rotate(-90) scale(0.91,1)" fill="#222"><text font-size="12.3" text-anchor="end" style="font-kerning:none">&#x2007;967</text><path d="M-24.18 0 L-24.18 -7.39 L-26.09 -6.01 L-26.09 -7.09 L-24 -8.46 L-22.8 -8.46 L-22.8 0Z"/></g>
<g transform="translate(732.62,789.1) rotate(-90) scale(0.91,1)" fill="#222"><text font-size="12.3" text-anchor="end" style="font-kerning:none">&#x2007;968</text><path d="M-24.18 0 L-24.18 -7.39 L-26.09 -6.01 L-26.09 -7.09 L-24 -8.46 L-22.8 -8.46 L-22.8 0Z"/></g>
<g transform="translate(742.07,789.1) rotate(-90) scale(0.91,1)" fill="#222"><text font-size="12.3" text-anchor="end" style="font-kerning:none">&#x2007;969</text><path d="M-24.18 0 L-24.18 -7.39 L-26.09 -6.01 L-26.09 -7.09 L-24 -8.46 L-22.8 -8.46 L-22.8 0Z"/></g>
<g transform="translate(751.52,789.1) rotate(-90) scale(0.91,1)" fill="#222"><text font-size="12.3" text-anchor="end" style="font-kerning:none">&#x2007;970</text><path d="M-24.18 0 L-24.18 -7.39 L-26.09 -6.01 L-26.09 -7.09 L-24 -8.46 L-22.8 -8.46 L-22.8 0Z"/></g>
<g transform="translate(760.98,789.1) rotate(-90) scale(0.91,1)" fill="#222"><text font-size="12.3" text-anchor="end" style="font-kerning:none">&#x2007;97&#x2007;</text><path d="M-24.18 0 L-24.18 -7.39 L-26.09 -6.01 L-26.09 -7.09 L-24 -8.46 L-22.8 -8.46 L-22.8 0Z"/><path d="M-3.66 0 L-3.66 -7.39 L-5.57 -6.01 L-5.57 -7.09 L-3.48 -8.46 L-2.28 -8.46 L-2.28 0Z"/></g>
<g transform="translate(770.43,789.1) rotate(-90) scale(0.91,1)" fill="#222"><text font-size="12.3" text-anchor="end" style="font-kerning:none">&#x2007;972</text><path d="M-24.18 0 L-24.18 -7.39 L-26.09 -6.01 L-26.09 -7.09 L-24 -8.46 L-22.8 -8.46 L-22.8 0Z"/></g>
<g transform="translate(779.89,789.1) rotate(-90) scale(0.91,1)" fill="#222"><text font-size="12.3" text-anchor="end" style="font-kerning:none">&#x2007;973</text><path d="M-24.18 0 L-24.18 -7.39 L-26.09 -6.01 L-26.09 -7.09 L-24 -8.46 L-22.8 -8.46 L-22.8 0Z"/></g>
<g transform="translate(789.34,789.1) rotate(-90) scale(0.91,1)" fill="#222"><text font-size="12.3" text-anchor="end" style="font-kerning:none">&#x2007;974</text><path d="M-24.18 0 L-24.18 -7.39 L-26.09 -6.01 L-26.09 -7.09 L-24 -8.46 L-22.8 -8.46 L-22.8 0Z"/></g>
<g transform="translate(798.79,789.1) rotate(-90) scale(0.91,1)" fill="#222"><text font-size="12.3" text-anchor="end" style="font-kerning:none">&#x2007;975</text><path d="M-24.18 0 L-24.18 -7.39 L-26.09 -6.01 L-26.09 -7.09 L-24 -8.46 L-22.8 -8.46 L-22.8 0Z"/></g>
<g transform="translate(808.25,789.1) rotate(-90) scale(0.91,1)" fill="#222"><text font-size="12.3" text-anchor="end" style="font-kerning:none">&#x2007;976</text><path d="M-24.18 0 L-24.18 -7.39 L-26.09 -6.01 L-26.09 -7.09 L-24 -8.46 L-22.8 -8.46 L-22.8 0Z"/></g>
<g transform="translate(817.7,789.1) rotate(-90) scale(0.91,1)" fill="#222"><text font-size="12.3" text-anchor="end" style="font-kerning:none">&#x2007;977</text><path d="M-24.18 0 L-24.18 -7.39 L-26.09 -6.01 L-26.09 -7.09 L-24 -8.46 L-22.8 -8.46 L-22.8 0Z"/></g>
<g transform="translate(827.16,789.1) rotate(-90) scale(0.91,1)" fill="#222"><text font-size="12.3" text-anchor="end" style="font-kerning:none">&#x2007;978</text><path d="M-24.18 0 L-24.18 -7.39 L-26.09 -6.01 L-26.09 -7.09 L-24 -8.46 L-22.8 -8.46 L-22.8 0Z"/></g>
<g transform="translate(836.61,789.1) rotate(-90) scale(0.91,1)" fill="#222"><text font-size="12.3" text-anchor="end" style="font-kerning:none">&#x2007;979</text><path d="M-24.18 0 L-24.18 -7.39 L-26.09 -6.01 L-26.09 -7.09 L-24 -8.46 L-22.8 -8.46 L-22.8 0Z"/></g>
<g transform="translate(846.06,789.1) rotate(-90) scale(0.91,1)" fill="#222"><text font-size="12.3" text-anchor="end" style="font-kerning:none">&#x2007;980</text><path d="M-24.18 0 L-24.18 -7.39 L-26.09 -6.01 L-26.09 -7.09 L-24 -8.46 L-22.8 -8.46 L-22.8 0Z"/></g>
<g transform="translate(855.52,789.1) rotate(-90) scale(0.91,1)" fill="#222"><text font-size="12.3" text-anchor="end" style="font-kerning:none">&#x2007;98&#x2007;</text><path d="M-24.18 0 L-24.18 -7.39 L-26.09 -6.01 L-26.09 -7.09 L-24 -8.46 L-22.8 -8.46 L-22.8 0Z"/><path d="M-3.66 0 L-3.66 -7.39 L-5.57 -6.01 L-5.57 -7.09 L-3.48 -8.46 L-2.28 -8.46 L-2.28 0Z"/></g>
<g transform="translate(864.97,789.1) rotate(-90) scale(0.91,1)" fill="#222"><text font-size="12.3" text-anchor="end" style="font-kerning:none">&#x2007;982</text><path d="M-24.18 0 L-24.18 -7.39 L-26.09 -6.01 L-26.09 -7.09 L-24 -8.46 L-22.8 -8.46 L-22.8 0Z"/></g>
<g transform="translate(874.43,789.1) rotate(-90) scale(0.91,1)" fill="#222"><text font-size="12.3" text-anchor="end" style="font-kerning:none">&#x2007;983</text><path d="M-24.18 0 L-24.18 -7.39 L-26.09 -6.01 L-26.09 -7.09 L-24 -8.46 L-22.8 -8.46 L-22.8 0Z"/></g>
<g transform="translate(883.88,789.1) rotate(-90) scale(0.91,1)" fill="#222"><text font-size="12.3" text-anchor="end" style="font-kerning:none">&#x2007;984</text><path d="M-24.18 0 L-24.18 -7.39 L-26.09 -6.01 L-26.09 -7.09 L-24 -8.46 L-22.8 -8.46 L-22.8 0Z"/></g>
<g transform="translate(893.33,789.1) rotate(-90) scale(0.91,1)" fill="#222"><text font-size="12.3" text-anchor="end" style="font-kerning:none">&#x2007;985</text><path d="M-24.18 0 L-24.18 -7.39 L-26.09 -6.01 L-26.09 -7.09 L-24 -8.46 L-22.8 -8.46 L-22.8 0Z"/></g>
<g transform="translate(902.79,789.1) rotate(-90) scale(0.91,1)" fill="#222"><text font-size="12.3" text-anchor="end" style="font-kerning:none">&#x2007;986</text><path d="M-24.18 0 L-24.18 -7.39 L-26.09 -6.01 L-26.09 -7.09 L-24 -8.46 L-22.8 -8.46 L-22.8 0Z"/></g>
<g transform="translate(912.24,789.1) rotate(-90) scale(0.91,1)" fill="#222"><text font-size="12.3" text-anchor="end" style="font-kerning:none">&#x2007;987</text><path d="M-24.18 0 L-24.18 -7.39 L-26.09 -6.01 L-26.09 -7.09 L-24 -8.46 L-22.8 -8.46 L-22.8 0Z"/></g>
<g transform="translate(921.7,789.1) rotate(-90) scale(0.91,1)" fill="#222"><text font-size="12.3" text-anchor="end" style="font-kerning:none">&#x2007;988</text><path d="M-24.18 0 L-24.18 -7.39 L-26.09 -6.01 L-26.09 -7.09 L-24 -8.46 L-22.8 -8.46 L-22.8 0Z"/></g>
<g transform="translate(931.15,789.1) rotate(-90) scale(0.91,1)" fill="#222"><text font-size="12.3" text-anchor="end" style="font-kerning:none">&#x2007;989</text><path d="M-24.18 0 L-24.18 -7.39 L-26.09 -6.01 L-26.09 -7.09 L-24 -8.46 L-22.8 -8.46 L-22.8 0Z"/></g>
<g transform="translate(940.6,789.1) rotate(-90) scale(0.91,1)" fill="#222"><text font-size="12.3" text-anchor="end" style="font-kerning:none">&#x2007;990</text><path d="M-24.18 0 L-24.18 -7.39 L-26.09 -6.01 L-26.09 -7.09 L-24 -8.46 L-22.8 -8.46 L-22.8 0Z"/></g>
<g transform="translate(950.06,789.1) rotate(-90) scale(0.91,1)" fill="#222"><text font-size="12.3" text-anchor="end" style="font-kerning:none">&#x2007;99&#x2007;</text><path d="M-24.18 0 L-24.18 -7.39 L-26.09 -6.01 L-26.09 -7.09 L-24 -8.46 L-22.8 -8.46 L-22.8 0Z"/><path d="M-3.66 0 L-3.66 -7.39 L-5.57 -6.01 L-5.57 -7.09 L-3.48 -8.46 L-2.28 -8.46 L-2.28 0Z"/></g>
<g transform="translate(959.51,789.1) rotate(-90) scale(0.91,1)" fill="#222"><text font-size="12.3" text-anchor="end" style="font-kerning:none">&#x2007;992</text><path d="M-24.18 0 L-24.18 -7.39 L-26.09 -6.01 L-26.09 -7.09 L-24 -8.46 L-22.8 -8.46 L-22.8 0Z"/></g>
<g transform="translate(968.97,789.1) rotate(-90) scale(0.91,1)" fill="#222"><text font-size="12.3" text-anchor="end" style="font-kerning:none">&#x2007;993</text><path d="M-24.18 0 L-24.18 -7.39 L-26.09 -6.01 L-26.09 -7.09 L-24 -8.46 L-22.8 -8.46 L-22.8 0Z"/></g>
<g transform="translate(978.42,789.1) rotate(-90) scale(0.91,1)" fill="#222"><text font-size="12.3" text-anchor="end" style="font-kerning:none">&#x2007;994</text><path d="M-24.18 0 L-24.18 -7.39 L-26.09 -6.01 L-26.09 -7.09 L-24 -8.46 L-22.8 -8.46 L-22.8 0Z"/></g>
<g transform="translate(987.87,789.1) rotate(-90) scale(0.91,1)" fill="#222"><text font-size="12.3" text-anchor="end" style="font-kerning:none">&#x2007;995</text><path d="M-24.18 0 L-24.18 -7.39 L-26.09 -6.01 L-26.09 -7.09 L-24 -8.46 L-22.8 -8.46 L-22.8 0Z"/></g>
<g transform="translate(997.33,789.1) rotate(-90) scale(0.91,1)" fill="#222"><text font-size="12.3" text-anchor="end" style="font-kerning:none">&#x2007;996</text><path d="M-24.18 0 L-24.18 -7.39 L-26.09 -6.01 L-26.09 -7.09 L-24 -8.46 L-22.8 -8.46 L-22.8 0Z"/></g>
<g transform="translate(1006.78,789.1) rotate(-90) scale(0.91,1)" fill="#222"><text font-size="12.3" text-anchor="end" style="font-kerning:none">&#x2007;997</text><path d="M-24.18 0 L-24.18 -7.39 L-26.09 -6.01 L-26.09 -7.09 L-24 -8.46 L-22.8 -8.46 L-22.8 0Z"/></g>
<g transform="translate(1016.24,789.1) rotate(-90) scale(0.91,1)" fill="#222"><text font-size="12.3" text-anchor="end" style="font-kerning:none">&#x2007;998</text><path d="M-24.18 0 L-24.18 -7.39 L-26.09 -6.01 L-26.09 -7.09 L-24 -8.46 L-22.8 -8.46 L-22.8 0Z"/></g>
<g transform="translate(1025.69,789.1) rotate(-90) scale(0.91,1)" fill="#222"><text font-size="12.3" text-anchor="end" style="font-kerning:none">&#x2007;999</text><path d="M-24.18 0 L-24.18 -7.39 L-26.09 -6.01 L-26.09 -7.09 L-24 -8.46 L-22.8 -8.46 L-22.8 0Z"/></g>
<g transform="translate(1035.14,789.1) rotate(-90) scale(0.91,1)" fill="#222"><text font-size="12.3" text-anchor="end" style="font-kerning:none">2000</text></g>
<g transform="translate(1044.6,789.1) rotate(-90) scale(0.91,1)" fill="#222"><text font-size="12.3" text-anchor="end" style="font-kerning:none">200&#x2007;</text><path d="M-3.66 0 L-3.66 -7.39 L-5.57 -6.01 L-5.57 -7.09 L-3.48 -8.46 L-2.28 -8.46 L-2.28 0Z"/></g>
<g transform="translate(1054.05,789.1) rotate(-90) scale(0.91,1)" fill="#222"><text font-size="12.3" text-anchor="end" style="font-kerning:none">2002</text></g>
<g transform="translate(1063.51,789.1) rotate(-90) scale(0.91,1)" fill="#222"><text font-size="12.3" text-anchor="end" style="font-kerning:none">2003</text></g>
<g transform="translate(1072.96,789.1) rotate(-90) scale(0.91,1)" fill="#222"><text font-size="12.3" text-anchor="end" style="font-kerning:none">2004</text></g>
<g transform="translate(1082.41,789.1) rotate(-90) scale(0.91,1)" fill="#222"><text font-size="12.3" text-anchor="end" style="font-kerning:none">2005</text></g>
<g transform="translate(1091.87,789.1) rotate(-90) scale(0.91,1)" fill="#222"><text font-size="12.3" text-anchor="end" style="font-kerning:none">2006</text></g>
<g transform="translate(1101.32,789.1) rotate(-90) scale(0.91,1)" fill="#222"><text font-size="12.3" text-anchor="end" style="font-kerning:none">2007</text></g>
<g transform="translate(1110.78,789.1) rotate(-90) scale(0.91,1)" fill="#222"><text font-size="12.3" text-anchor="end" style="font-kerning:none">2008</text></g>
<g transform="translate(1120.23,789.1) rotate(-90) scale(0.91,1)" fill="#222"><text font-size="12.3" text-anchor="end" style="font-kerning:none">2009</text></g>
<g transform="translate(1129.68,789.1) rotate(-90) scale(0.91,1)" fill="#222"><text font-size="12.3" text-anchor="end" style="font-kerning:none">20&#x2007;0</text><path d="M-10.5 0 L-10.5 -7.39 L-12.41 -6.01 L-12.41 -7.09 L-10.32 -8.46 L-9.12 -8.46 L-9.12 0Z"/></g>
<g transform="translate(1139.14,789.1) rotate(-90) scale(0.91,1)" fill="#222"><text font-size="12.3" text-anchor="end" style="font-kerning:none">20&#x2007;&#x2007;</text><path d="M-10.5 0 L-10.5 -7.39 L-12.41 -6.01 L-12.41 -7.09 L-10.32 -8.46 L-9.12 -8.46 L-9.12 0Z"/><path d="M-3.66 0 L-3.66 -7.39 L-5.57 -6.01 L-5.57 -7.09 L-3.48 -8.46 L-2.28 -8.46 L-2.28 0Z"/></g>
<g transform="translate(1148.59,789.1) rotate(-90) scale(0.91,1)" fill="#222"><text font-size="12.3" text-anchor="end" style="font-kerning:none">20&#x2007;2</text><path d="M-10.5 0 L-10.5 -7.39 L-12.41 -6.01 L-12.41 -7.09 L-10.32 -8.46 L-9.12 -8.46 L-9.12 0Z"/></g>
<g transform="translate(1158.05,789.1) rotate(-90) scale(0.91,1)" fill="#222"><text font-size="12.3" text-anchor="end" style="font-kerning:none">20&#x2007;3</text><path d="M-10.5 0 L-10.5 -7.39 L-12.41 -6.01 L-12.41 -7.09 L-10.32 -8.46 L-9.12 -8.46 L-9.12 0Z"/></g>
<g transform="translate(1167.5,789.1) rotate(-90) scale(0.91,1)" fill="#222"><text font-size="12.3" text-anchor="end" style="font-kerning:none">20&#x2007;4</text><path d="M-10.5 0 L-10.5 -7.39 L-12.41 -6.01 L-12.41 -7.09 L-10.32 -8.46 L-9.12 -8.46 L-9.12 0Z"/></g>
<g transform="translate(1176.95,789.1) rotate(-90) scale(0.91,1)" fill="#222"><text font-size="12.3" text-anchor="end" style="font-kerning:none">20&#x2007;5</text><path d="M-10.5 0 L-10.5 -7.39 L-12.41 -6.01 L-12.41 -7.09 L-10.32 -8.46 L-9.12 -8.46 L-9.12 0Z"/></g>
<g transform="translate(1186.41,789.1) rotate(-90) scale(0.91,1)" fill="#222"><text font-size="12.3" text-anchor="end" style="font-kerning:none">20&#x2007;6</text><path d="M-10.5 0 L-10.5 -7.39 L-12.41 -6.01 L-12.41 -7.09 L-10.32 -8.46 L-9.12 -8.46 L-9.12 0Z"/></g>
<text x="674.5" y="831" font-size="10.2" textLength="128.7" lengthAdjust="spacingAndGlyphs" fill="#222">excludes outside values</text>
<text x="708.7" y="875" font-family="Liberation Serif, serif" font-weight="bold" font-size="28.5" textLength="33.8" lengthAdjust="spacingAndGlyphs" fill="#000">(d)</text>
<text x="755.5" y="875" font-family="Liberation Serif, serif" font-size="22.3" textLength="414.1" lengthAdjust="spacingAndGlyphs" fill="#2e2e2e">Revenue Growth, Summarized by Year</text>
<line x1="52.4" y1="936.6" x2="580.5" y2="936.6" stroke="#e6eff1" stroke-width="1.2"/>
<line x1="52.4" y1="991.7" x2="580.5" y2="991.7" stroke="#e6eff1" stroke-width="1.2"/>
<line x1="52.4" y1="1046.4" x2="580.5" y2="1046.4" stroke="#e6eff1" stroke-width="1.2"/>
<line x1="52.4" y1="1101.1" x2="580.5" y2="1101.1" stroke="#e6eff1" stroke-width="1.2"/>
<line x1="52.4" y1="1155.9" x2="580.5" y2="1155.9" stroke="#e6eff1" stroke-width="1.2"/>
<line x1="45.4" y1="936.6" x2="51.4" y2="936.6" stroke="#161616" stroke-width="1.1"/>
<line x1="45.4" y1="991.7" x2="51.4" y2="991.7" stroke="#161616" stroke-width="1.1"/>
<line x1="45.4" y1="1046.4" x2="51.4" y2="1046.4" stroke="#161616" stroke-width="1.1"/>
<line x1="45.4" y1="1101.1" x2="51.4" y2="1101.1" stroke="#161616" stroke-width="1.1"/>
<line x1="45.4" y1="1155.9" x2="51.4" y2="1155.9" stroke="#161616" stroke-width="1.1"/>
<line x1="45.4" y1="1210.8" x2="51.4" y2="1210.8" stroke="#161616" stroke-width="1.1"/>
<path d="M51.4 922 V1210.8 H580.5" fill="none" stroke="#161616" stroke-width="1.15"/>
<rect x="68" y="991.44" width="6.8" height="219.36" fill="#1a476f"/>
<rect x="78.41" y="969.5" width="6.8" height="241.3" fill="#1a476f"/>
<rect x="88.82" y="991.44" width="6.8" height="219.36" fill="#1a476f"/>
<rect x="99.23" y="991.44" width="6.8" height="219.36" fill="#1a476f"/>
<rect x="109.64" y="980.47" width="6.8" height="230.33" fill="#1a476f"/>
<rect x="120.05" y="1002.41" width="6.8" height="208.39" fill="#1a476f"/>
<rect x="130.46" y="985.96" width="6.8" height="224.84" fill="#1a476f"/>
<rect x="140.87" y="964.02" width="6.8" height="246.78" fill="#1a476f"/>
<rect x="151.28" y="974.99" width="6.8" height="235.81" fill="#1a476f"/>
<rect x="161.69" y="964.02" width="6.8" height="246.78" fill="#1a476f"/>
<rect x="172.1" y="985.96" width="6.8" height="224.84" fill="#1a476f"/>
<rect x="182.51" y="985.96" width="6.8" height="224.84" fill="#1a476f"/>
<rect x="192.92" y="980.47" width="6.8" height="230.33" fill="#1a476f"/>
<rect x="203.33" y="996.92" width="6.8" height="213.88" fill="#1a476f"/>
<rect x="213.74" y="991.44" width="6.8" height="219.36" fill="#1a476f"/>
<rect x="224.15" y="1024.34" width="6.8" height="186.46" fill="#1a476f"/>
<rect x="234.56" y="1007.89" width="6.8" height="202.91" fill="#1a476f"/>
<rect x="244.97" y="974.99" width="6.8" height="235.81" fill="#1a476f"/>
<rect x="255.38" y="985.96" width="6.8" height="224.84" fill="#1a476f"/>
<rect x="265.79" y="1024.34" width="6.8" height="186.46" fill="#1a476f"/>
<rect x="276.2" y="974.99" width="6.8" height="235.81" fill="#1a476f"/>
<rect x="286.61" y="991.44" width="6.8" height="219.36" fill="#1a476f"/>
<rect x="297.02" y="1002.41" width="6.8" height="208.39" fill="#1a476f"/>
<rect x="307.43" y="1018.86" width="6.8" height="191.94" fill="#1a476f"/>
<rect x="317.84" y="991.44" width="6.8" height="219.36" fill="#1a476f"/>
<rect x="328.25" y="958.54" width="6.8" height="252.26" fill="#1a476f"/>
<rect x="338.66" y="996.92" width="6.8" height="213.88" fill="#1a476f"/>
<rect x="349.07" y="985.96" width="6.8" height="224.84" fill="#1a476f"/>
<rect x="359.48" y="991.44" width="6.8" height="219.36" fill="#1a476f"/>
<rect x="369.89" y="1002.41" width="6.8" height="208.39" fill="#1a476f"/>
<rect x="380.3" y="974.99" width="6.8" height="235.81" fill="#1a476f"/>
<rect x="390.71" y="1029.83" width="6.8" height="180.97" fill="#1a476f"/>
<rect x="401.12" y="980.47" width="6.8" height="230.33" fill="#1a476f"/>
<rect x="411.53" y="1007.89" width="6.8" height="202.91" fill="#1a476f"/>
<rect x="421.94" y="996.92" width="6.8" height="213.88" fill="#1a476f"/>
<rect x="432.35" y="1007.89" width="6.8" height="202.91" fill="#1a476f"/>
<rect x="442.76" y="991.44" width="6.8" height="219.36" fill="#1a476f"/>
<rect x="453.17" y="958.54" width="6.8" height="252.26" fill="#1a476f"/>
<rect x="463.58" y="1029.83" width="6.8" height="180.97" fill="#1a476f"/>
<rect x="473.99" y="996.92" width="6.8" height="213.88" fill="#1a476f"/>
<rect x="484.4" y="958.54" width="6.8" height="252.26" fill="#1a476f"/>
<rect x="494.81" y="980.47" width="6.8" height="230.33" fill="#1a476f"/>
<rect x="505.22" y="969.5" width="6.8" height="241.3" fill="#1a476f"/>
<rect x="515.63" y="974.99" width="6.8" height="235.81" fill="#1a476f"/>
<rect x="526.04" y="964.02" width="6.8" height="246.78" fill="#1a476f"/>
<rect x="536.45" y="1002.41" width="6.8" height="208.39" fill="#1a476f"/>
<rect x="546.86" y="1024.34" width="6.8" height="186.46" fill="#1a476f"/>
<rect x="557.27" y="1035.31" width="6.8" height="175.49" fill="#1a476f"/>
<g transform="translate(38.1,936.6) rotate(-90) scale(0.89,1)" fill="#222"><text font-size="15.9" text-anchor="middle" style="font-kerning:none">50</text></g>
<g transform="translate(38.1,991.7) rotate(-90) scale(0.89,1)" fill="#222"><text font-size="15.9" text-anchor="middle" style="font-kerning:none">40</text></g>
<g transform="translate(38.1,1046.4) rotate(-90) scale(0.89,1)" fill="#222"><text font-size="15.9" text-anchor="middle" style="font-kerning:none">30</text></g>
<g transform="translate(38.1,1101.1) rotate(-90) scale(0.89,1)" fill="#222"><text font-size="15.9" text-anchor="middle" style="font-kerning:none">20</text></g>
<g transform="translate(38.1,1155.9) rotate(-90) scale(0.89,1)" fill="#222"><text font-size="15.9" text-anchor="middle" style="font-kerning:none">&#x2007;0</text><path d="M-4.73 0 L-4.73 -9.55 L-7.2 -7.76 L-7.2 -9.16 L-4.5 -10.94 L-2.94 -10.94 L-2.94 0Z"/></g>
<g transform="translate(38.1,1210.8) rotate(-90) scale(0.89,1)" fill="#222"><text font-size="15.9" text-anchor="middle" style="font-kerning:none">0</text></g>
<text transform="translate(13.2,1066.7) rotate(-90) scale(0.93,1)" font-size="15.3" text-anchor="middle" fill="#222">No. of Years with General Revenue Growth &gt; 0</text>
<text transform="translate(75.8,1217) rotate(-90) scale(0.9,1)" font-size="12.4" text-anchor="end" fill="#222">Alabama</text>
<text transform="translate(86.21,1217) rotate(-90) scale(0.9,1)" font-size="12.4" text-anchor="end" fill="#222">Arizona</text>
<text transform="translate(96.62,1217) rotate(-90) scale(0.9,1)" font-size="12.4" text-anchor="end" fill="#222">Arkansas</text>
<text transform="translate(107.03,1217) rotate(-90) scale(0.9,1)" font-size="12.4" text-anchor="end" fill="#222">California</text>
<text transform="translate(117.44,1217) rotate(-90) scale(0.9,1)" font-size="12.4" text-anchor="end" fill="#222">Colorado</text>
<text transform="translate(127.85,1217) rotate(-90) scale(0.9,1)" font-size="12.4" text-anchor="end" fill="#222">Connecticut</text>
<text transform="translate(138.26,1217) rotate(-90) scale(0.9,1)" font-size="12.4" text-anchor="end" fill="#222">Delaware</text>
<text transform="translate(148.67,1217) rotate(-90) scale(0.9,1)" font-size="12.4" text-anchor="end" fill="#222">Florida</text>
<text transform="translate(159.08,1217) rotate(-90) scale(0.9,1)" font-size="12.4" text-anchor="end" fill="#222">Georgia</text>
<text transform="translate(169.49,1217) rotate(-90) scale(0.9,1)" font-size="12.4" text-anchor="end" fill="#222">Idaho</text>
<text transform="translate(179.9,1217) rotate(-90) scale(0.9,1)" font-size="12.4" text-anchor="end" fill="#222">Illinois</text>
<text transform="translate(190.31,1217) rotate(-90) scale(0.9,1)" font-size="12.4" text-anchor="end" fill="#222">Indiana</text>
<text transform="translate(200.72,1217) rotate(-90) scale(0.9,1)" font-size="12.4" text-anchor="end" fill="#222">Iowa</text>
<text transform="translate(211.13,1217) rotate(-90) scale(0.9,1)" font-size="12.4" text-anchor="end" fill="#222">Kansas</text>
<text transform="translate(221.54,1217) rotate(-90) scale(0.9,1)" font-size="12.4" text-anchor="end" fill="#222">Kentucky</text>
<text transform="translate(231.95,1217) rotate(-90) scale(0.9,1)" font-size="12.4" text-anchor="end" fill="#222">Louisiana</text>
<text transform="translate(242.36,1217) rotate(-90) scale(0.9,1)" font-size="12.4" text-anchor="end" fill="#222">Maine</text>
<text transform="translate(252.77,1217) rotate(-90) scale(0.9,1)" font-size="12.4" text-anchor="end" fill="#222">Maryland</text>
<text transform="translate(263.18,1217) rotate(-90) scale(0.9,1)" font-size="12.4" text-anchor="end" fill="#222">Massachusetts</text>
<text transform="translate(273.59,1217) rotate(-90) scale(0.9,1)" font-size="12.4" text-anchor="end" fill="#222">Michigan</text>
<text transform="translate(284,1217) rotate(-90) scale(0.9,1)" font-size="12.4" text-anchor="end" fill="#222">Minnesota</text>
<text transform="translate(294.41,1217) rotate(-90) scale(0.9,1)" font-size="12.4" text-anchor="end" fill="#222">Mississippi</text>
<text transform="translate(304.82,1217) rotate(-90) scale(0.9,1)" font-size="12.4" text-anchor="end" fill="#222">Missouri</text>
<text transform="translate(315.23,1217) rotate(-90) scale(0.9,1)" font-size="12.4" text-anchor="end" fill="#222">Montana</text>
<text transform="translate(325.64,1217) rotate(-90) scale(0.9,1)" font-size="12.4" text-anchor="end" fill="#222">Nebraska</text>
<text transform="translate(336.05,1217) rotate(-90) scale(0.9,1)" font-size="12.4" text-anchor="end" fill="#222">Nevada</text>
<text transform="translate(346.46,1217) rotate(-90) scale(0.9,1)" font-size="12.4" text-anchor="end" fill="#222">New Hampshire</text>
<text transform="translate(356.87,1217) rotate(-90) scale(0.9,1)" font-size="12.4" text-anchor="end" fill="#222">New Jersey</text>
<text transform="translate(367.28,1217) rotate(-90) scale(0.9,1)" font-size="12.4" text-anchor="end" fill="#222">New Mexico</text>
<text transform="translate(377.69,1217) rotate(-90) scale(0.9,1)" font-size="12.4" text-anchor="end" fill="#222">New York</text>
<text transform="translate(388.1,1217) rotate(-90) scale(0.9,1)" font-size="12.4" text-anchor="end" fill="#222">North Carolina</text>
<text transform="translate(398.51,1217) rotate(-90) scale(0.9,1)" font-size="12.4" text-anchor="end" fill="#222">North Dakota</text>
<text transform="translate(408.92,1217) rotate(-90) scale(0.9,1)" font-size="12.4" text-anchor="end" fill="#222">Ohio</text>
<text transform="translate(419.33,1217) rotate(-90) scale(0.9,1)" font-size="12.4" text-anchor="end" fill="#222">Oklahoma</text>
<text transform="translate(429.74,1217) rotate(-90) scale(0.9,1)" font-size="12.4" text-anchor="end" fill="#222">Oregon</text>
<text transform="translate(440.15,1217) rotate(-90) scale(0.9,1)" font-size="12.4" text-anchor="end" fill="#222">Pennsylvania</text>
<text transform="translate(450.56,1217) rotate(-90) scale(0.9,1)" font-size="12.4" text-anchor="end" fill="#222">Rhode Island</text>
<text transform="translate(460.97,1217) rotate(-90) scale(0.9,1)" font-size="12.4" text-anchor="end" fill="#222">South Carolina</text>
<text transform="translate(471.38,1217) rotate(-90) scale(0.9,1)" font-size="12.4" text-anchor="end" fill="#222">South Dakota</text>
<text transform="translate(481.79,1217) rotate(-90) scale(0.9,1)" font-size="12.4" text-anchor="end" fill="#222">Tennessee</text>
<text transform="translate(492.2,1217) rotate(-90) scale(0.9,1)" font-size="12.4" text-anchor="end" fill="#222">Texas</text>
<text transform="translate(502.61,1217) rotate(-90) scale(0.9,1)" font-size="12.4" text-anchor="end" fill="#222">Utah</text>
<text transform="translate(513.02,1217) rotate(-90) scale(0.9,1)" font-size="12.4" text-anchor="end" fill="#222">Vermont</text>
<text transform="translate(523.43,1217) rotate(-90) scale(0.9,1)" font-size="12.4" text-anchor="end" fill="#222">Virginia</text>
<text transform="translate(533.84,1217) rotate(-90) scale(0.9,1)" font-size="12.4" text-anchor="end" fill="#222">Washington</text>
<text transform="translate(544.25,1217) rotate(-90) scale(0.9,1)" font-size="12.4" text-anchor="end" fill="#222">West Virginia</text>
<text transform="translate(554.66,1217) rotate(-90) scale(0.9,1)" font-size="12.4" text-anchor="end" fill="#222">Wisconsin</text>
<text transform="translate(565.07,1217) rotate(-90) scale(0.9,1)" font-size="12.4" text-anchor="end" fill="#222">Wyoming</text>
<text x="73.7" y="1335.3" font-family="Liberation Serif, serif" font-weight="bold" font-size="28.5" textLength="31.3" lengthAdjust="spacingAndGlyphs" fill="#000">(e)</text>
<text x="117" y="1335.3" font-family="Liberation Serif, serif" font-size="22.3" textLength="448.6" lengthAdjust="spacingAndGlyphs" fill="#2e2e2e">Positive Revenue Growth, Count by State</text>
<line x1="673.2" y1="936.6" x2="1200" y2="936.6" stroke="#e6eff1" stroke-width="1.2"/>
<line x1="673.2" y1="1000.9" x2="1200" y2="1000.9" stroke="#e6eff1" stroke-width="1.2"/>
<line x1="673.2" y1="1065.8" x2="1200" y2="1065.8" stroke="#e6eff1" stroke-width="1.2"/>
<line x1="673.2" y1="1130.1" x2="1200" y2="1130.1" stroke="#e6eff1" stroke-width="1.2"/>
<line x1="673.2" y1="1194.4" x2="1200" y2="1194.4" stroke="#e6eff1" stroke-width="1.2"/>
<line x1="666.2" y1="936.6" x2="672.2" y2="936.6" stroke="#4a4a4a" stroke-width="1.1"/>
<line x1="666.2" y1="1000.9" x2="672.2" y2="1000.9" stroke="#4a4a4a" stroke-width="1.1"/>
<line x1="666.2" y1="1065.8" x2="672.2" y2="1065.8" stroke="#4a4a4a" stroke-width="1.1"/>
<line x1="666.2" y1="1130.1" x2="672.2" y2="1130.1" stroke="#4a4a4a" stroke-width="1.1"/>
<line x1="666.2" y1="1194.4" x2="672.2" y2="1194.4" stroke="#4a4a4a" stroke-width="1.1"/>
<line x1="666.2" y1="1259.1" x2="672.2" y2="1259.1" stroke="#4a4a4a" stroke-width="1.1"/>
<path d="M672.2 922 V1259.1 H1200" fill="none" stroke="#4a4a4a" stroke-width="1.6"/>
<rect x="688.3" y="949.5" width="5.8" height="309.6" fill="#1a476f"/>
<rect x="697.72" y="968.85" width="5.8" height="290.25" fill="#1a476f"/>
<rect x="707.14" y="975.3" width="5.8" height="283.8" fill="#1a476f"/>
<rect x="716.56" y="1007.55" width="5.8" height="251.55" fill="#1a476f"/>
<rect x="725.98" y="994.65" width="5.8" height="264.45" fill="#1a476f"/>
<rect x="735.4" y="988.2" width="5.8" height="270.9" fill="#1a476f"/>
<rect x="744.82" y="1007.55" width="5.8" height="251.55" fill="#1a476f"/>
<rect x="754.24" y="994.65" width="5.8" height="264.45" fill="#1a476f"/>
<rect x="763.66" y="962.4" width="5.8" height="296.7" fill="#1a476f"/>
<rect x="773.08" y="975.3" width="5.8" height="283.8" fill="#1a476f"/>
<rect x="782.5" y="1175.25" width="5.8" height="83.85" fill="#1a476f"/>
<rect x="791.92" y="1046.25" width="5.8" height="212.85" fill="#1a476f"/>
<rect x="801.34" y="962.4" width="5.8" height="296.7" fill="#1a476f"/>
<rect x="810.76" y="975.3" width="5.8" height="283.8" fill="#1a476f"/>
<rect x="820.18" y="968.85" width="5.8" height="290.25" fill="#1a476f"/>
<rect x="829.6" y="1014" width="5.8" height="245.1" fill="#1a476f"/>
<rect x="839.02" y="1097.85" width="5.8" height="161.25" fill="#1a476f"/>
<rect x="848.44" y="1143" width="5.8" height="116.1" fill="#1a476f"/>
<rect x="857.86" y="1136.55" width="5.8" height="122.55" fill="#1a476f"/>
<rect x="867.28" y="1039.8" width="5.8" height="219.3" fill="#1a476f"/>
<rect x="876.7" y="955.95" width="5.8" height="303.15" fill="#1a476f"/>
<rect x="886.12" y="962.4" width="5.8" height="296.7" fill="#1a476f"/>
<rect x="895.54" y="1001.1" width="5.8" height="258" fill="#1a476f"/>
<rect x="904.96" y="1059.15" width="5.8" height="199.95" fill="#1a476f"/>
<rect x="914.38" y="1014" width="5.8" height="245.1" fill="#1a476f"/>
<rect x="923.8" y="981.75" width="5.8" height="277.35" fill="#1a476f"/>
<rect x="933.22" y="1039.8" width="5.8" height="219.3" fill="#1a476f"/>
<rect x="942.64" y="981.75" width="5.8" height="277.35" fill="#1a476f"/>
<rect x="952.06" y="968.85" width="5.8" height="290.25" fill="#1a476f"/>
<rect x="961.48" y="968.85" width="5.8" height="290.25" fill="#1a476f"/>
<rect x="970.9" y="1001.1" width="5.8" height="258" fill="#1a476f"/>
<rect x="980.32" y="994.65" width="5.8" height="264.45" fill="#1a476f"/>
<rect x="989.74" y="1001.1" width="5.8" height="258" fill="#1a476f"/>
<rect x="999.16" y="968.85" width="5.8" height="290.25" fill="#1a476f"/>
<rect x="1008.58" y="968.85" width="5.8" height="290.25" fill="#1a476f"/>
<rect x="1018" y="1033.35" width="5.8" height="225.75" fill="#1a476f"/>
<rect x="1027.42" y="975.3" width="5.8" height="283.8" fill="#1a476f"/>
<rect x="1036.84" y="1014" width="5.8" height="245.1" fill="#1a476f"/>
<rect x="1046.26" y="1097.85" width="5.8" height="161.25" fill="#1a476f"/>
<rect x="1055.68" y="1052.7" width="5.8" height="206.4" fill="#1a476f"/>
<rect x="1065.1" y="1039.8" width="5.8" height="219.3" fill="#1a476f"/>
<rect x="1074.52" y="1033.35" width="5.8" height="225.75" fill="#1a476f"/>
<rect x="1083.94" y="1020.45" width="5.8" height="238.65" fill="#1a476f"/>
<rect x="1093.36" y="1130.1" width="5.8" height="129" fill="#1a476f"/>
<rect x="1102.78" y="1188.15" width="5.8" height="70.95" fill="#1a476f"/>
<rect x="1112.2" y="1046.25" width="5.8" height="212.85" fill="#1a476f"/>
<rect x="1121.62" y="988.2" width="5.8" height="270.9" fill="#1a476f"/>
<rect x="1131.04" y="1014" width="5.8" height="245.1" fill="#1a476f"/>
<rect x="1140.46" y="1226.85" width="5.8" height="32.25" fill="#1a476f"/>
<rect x="1149.88" y="1104.3" width="5.8" height="154.8" fill="#1a476f"/>
<rect x="1159.3" y="1123.65" width="5.8" height="135.45" fill="#1a476f"/>
<rect x="1168.72" y="975.3" width="5.8" height="283.8" fill="#1a476f"/>
<rect x="1178.14" y="1014" width="5.8" height="245.1" fill="#1a476f"/>
<g transform="translate(658.6,936.6) rotate(-90) scale(0.92,1)" fill="#222"><text font-size="16" text-anchor="middle" style="font-kerning:none">50</text></g>
<g transform="translate(658.6,1000.9) rotate(-90) scale(0.92,1)" fill="#222"><text font-size="16" text-anchor="middle" style="font-kerning:none">40</text></g>
<g transform="translate(658.6,1065.8) rotate(-90) scale(0.92,1)" fill="#222"><text font-size="16" text-anchor="middle" style="font-kerning:none">30</text></g>
<g transform="translate(658.6,1130.1) rotate(-90) scale(0.92,1)" fill="#222"><text font-size="16" text-anchor="middle" style="font-kerning:none">20</text></g>
<g transform="translate(658.6,1194.4) rotate(-90) scale(0.92,1)" fill="#222"><text font-size="16" text-anchor="middle" style="font-kerning:none">&#x2007;0</text><path d="M-4.76 0 L-4.76 -9.61 L-7.24 -7.81 L-7.24 -9.22 L-4.52 -11.01 L-2.96 -11.01 L-2.96 0Z"/></g>
<g transform="translate(658.6,1259.1) rotate(-90) scale(0.92,1)" fill="#222"><text font-size="16" text-anchor="middle" style="font-kerning:none">0</text></g>
<text transform="translate(634.2,1090.8) rotate(-90) scale(0.85,1)" font-size="16.4" text-anchor="middle" fill="#222">No. of States with General Revenue Growth &gt; 0</text>
<g transform="translate(695.4,1264.9) rotate(-90) scale(0.94,1)" fill="#222"><text font-size="12" text-anchor="end" style="font-kerning:none">&#x2007;964</text><path d="M-23.59 0 L-23.59 -7.21 L-25.45 -5.86 L-25.45 -6.91 L-23.41 -8.26 L-22.24 -8.26 L-22.24 0Z"/></g>
<g transform="translate(704.82,1264.9) rotate(-90) scale(0.94,1)" fill="#222"><text font-size="12" text-anchor="end" style="font-kerning:none">&#x2007;965</text><path d="M-23.59 0 L-23.59 -7.21 L-25.45 -5.86 L-25.45 -6.91 L-23.41 -8.26 L-22.24 -8.26 L-22.24 0Z"/></g>
<g transform="translate(714.24,1264.9) rotate(-90) scale(0.94,1)" fill="#222"><text font-size="12" text-anchor="end" style="font-kerning:none">&#x2007;966</text><path d="M-23.59 0 L-23.59 -7.21 L-25.45 -5.86 L-25.45 -6.91 L-23.41 -8.26 L-22.24 -8.26 L-22.24 0Z"/></g>
<g transform="translate(723.66,1264.9) rotate(-90) scale(0.94,1)" fill="#222"><text font-size="12" text-anchor="end" style="font-kerning:none">&#x2007;967</text><path d="M-23.59 0 L-23.59 -7.21 L-25.45 -5.86 L-25.45 -6.91 L-23.41 -8.26 L-22.24 -8.26 L-22.24 0Z"/></g>
<g transform="translate(733.08,1264.9) rotate(-90) scale(0.94,1)" fill="#222"><text font-size="12" text-anchor="end" style="font-kerning:none">&#x2007;968</text><path d="M-23.59 0 L-23.59 -7.21 L-25.45 -5.86 L-25.45 -6.91 L-23.41 -8.26 L-22.24 -8.26 L-22.24 0Z"/></g>
<g transform="translate(742.5,1264.9) rotate(-90) scale(0.94,1)" fill="#222"><text font-size="12" text-anchor="end" style="font-kerning:none">&#x2007;969</text><path d="M-23.59 0 L-23.59 -7.21 L-25.45 -5.86 L-25.45 -6.91 L-23.41 -8.26 L-22.24 -8.26 L-22.24 0Z"/></g>
<g transform="translate(751.92,1264.9) rotate(-90) scale(0.94,1)" fill="#222"><text font-size="12" text-anchor="end" style="font-kerning:none">&#x2007;970</text><path d="M-23.59 0 L-23.59 -7.21 L-25.45 -5.86 L-25.45 -6.91 L-23.41 -8.26 L-22.24 -8.26 L-22.24 0Z"/></g>
<g transform="translate(761.34,1264.9) rotate(-90) scale(0.94,1)" fill="#222"><text font-size="12" text-anchor="end" style="font-kerning:none">&#x2007;97&#x2007;</text><path d="M-23.59 0 L-23.59 -7.21 L-25.45 -5.86 L-25.45 -6.91 L-23.41 -8.26 L-22.24 -8.26 L-22.24 0Z"/><path d="M-3.57 0 L-3.57 -7.21 L-5.43 -5.86 L-5.43 -6.91 L-3.39 -8.26 L-2.22 -8.26 L-2.22 0Z"/></g>
<g transform="translate(770.76,1264.9) rotate(-90) scale(0.94,1)" fill="#222"><text font-size="12" text-anchor="end" style="font-kerning:none">&#x2007;972</text><path d="M-23.59 0 L-23.59 -7.21 L-25.45 -5.86 L-25.45 -6.91 L-23.41 -8.26 L-22.24 -8.26 L-22.24 0Z"/></g>
<g transform="translate(780.18,1264.9) rotate(-90) scale(0.94,1)" fill="#222"><text font-size="12" text-anchor="end" style="font-kerning:none">&#x2007;973</text><path d="M-23.59 0 L-23.59 -7.21 L-25.45 -5.86 L-25.45 -6.91 L-23.41 -8.26 L-22.24 -8.26 L-22.24 0Z"/></g>
<g transform="translate(789.6,1264.9) rotate(-90) scale(0.94,1)" fill="#222"><text font-size="12" text-anchor="end" style="font-kerning:none">&#x2007;974</text><path d="M-23.59 0 L-23.59 -7.21 L-25.45 -5.86 L-25.45 -6.91 L-23.41 -8.26 L-22.24 -8.26 L-22.24 0Z"/></g>
<g transform="translate(799.02,1264.9) rotate(-90) scale(0.94,1)" fill="#222"><text font-size="12" text-anchor="end" style="font-kerning:none">&#x2007;975</text><path d="M-23.59 0 L-23.59 -7.21 L-25.45 -5.86 L-25.45 -6.91 L-23.41 -8.26 L-22.24 -8.26 L-22.24 0Z"/></g>
<g transform="translate(808.44,1264.9) rotate(-90) scale(0.94,1)" fill="#222"><text font-size="12" text-anchor="end" style="font-kerning:none">&#x2007;976</text><path d="M-23.59 0 L-23.59 -7.21 L-25.45 -5.86 L-25.45 -6.91 L-23.41 -8.26 L-22.24 -8.26 L-22.24 0Z"/></g>
<g transform="translate(817.86,1264.9) rotate(-90) scale(0.94,1)" fill="#222"><text font-size="12" text-anchor="end" style="font-kerning:none">&#x2007;977</text><path d="M-23.59 0 L-23.59 -7.21 L-25.45 -5.86 L-25.45 -6.91 L-23.41 -8.26 L-22.24 -8.26 L-22.24 0Z"/></g>
<g transform="translate(827.28,1264.9) rotate(-90) scale(0.94,1)" fill="#222"><text font-size="12" text-anchor="end" style="font-kerning:none">&#x2007;978</text><path d="M-23.59 0 L-23.59 -7.21 L-25.45 -5.86 L-25.45 -6.91 L-23.41 -8.26 L-22.24 -8.26 L-22.24 0Z"/></g>
<g transform="translate(836.7,1264.9) rotate(-90) scale(0.94,1)" fill="#222"><text font-size="12" text-anchor="end" style="font-kerning:none">&#x2007;979</text><path d="M-23.59 0 L-23.59 -7.21 L-25.45 -5.86 L-25.45 -6.91 L-23.41 -8.26 L-22.24 -8.26 L-22.24 0Z"/></g>
<g transform="translate(846.12,1264.9) rotate(-90) scale(0.94,1)" fill="#222"><text font-size="12" text-anchor="end" style="font-kerning:none">&#x2007;980</text><path d="M-23.59 0 L-23.59 -7.21 L-25.45 -5.86 L-25.45 -6.91 L-23.41 -8.26 L-22.24 -8.26 L-22.24 0Z"/></g>
<g transform="translate(855.54,1264.9) rotate(-90) scale(0.94,1)" fill="#222"><text font-size="12" text-anchor="end" style="font-kerning:none">&#x2007;98&#x2007;</text><path d="M-23.59 0 L-23.59 -7.21 L-25.45 -5.86 L-25.45 -6.91 L-23.41 -8.26 L-22.24 -8.26 L-22.24 0Z"/><path d="M-3.57 0 L-3.57 -7.21 L-5.43 -5.86 L-5.43 -6.91 L-3.39 -8.26 L-2.22 -8.26 L-2.22 0Z"/></g>
<g transform="translate(864.96,1264.9) rotate(-90) scale(0.94,1)" fill="#222"><text font-size="12" text-anchor="end" style="font-kerning:none">&#x2007;982</text><path d="M-23.59 0 L-23.59 -7.21 L-25.45 -5.86 L-25.45 -6.91 L-23.41 -8.26 L-22.24 -8.26 L-22.24 0Z"/></g>
<g transform="translate(874.38,1264.9) rotate(-90) scale(0.94,1)" fill="#222"><text font-size="12" text-anchor="end" style="font-kerning:none">&#x2007;983</text><path d="M-23.59 0 L-23.59 -7.21 L-25.45 -5.86 L-25.45 -6.91 L-23.41 -8.26 L-22.24 -8.26 L-22.24 0Z"/></g>
<g transform="translate(883.8,1264.9) rotate(-90) scale(0.94,1)" fill="#222"><text font-size="12" text-anchor="end" style="font-kerning:none">&#x2007;984</text><path d="M-23.59 0 L-23.59 -7.21 L-25.45 -5.86 L-25.45 -6.91 L-23.41 -8.26 L-22.24 -8.26 L-22.24 0Z"/></g>
<g transform="translate(893.22,1264.9) rotate(-90) scale(0.94,1)" fill="#222"><text font-size="12" text-anchor="end" style="font-kerning:none">&#x2007;985</text><path d="M-23.59 0 L-23.59 -7.21 L-25.45 -5.86 L-25.45 -6.91 L-23.41 -8.26 L-22.24 -8.26 L-22.24 0Z"/></g>
<g transform="translate(902.64,1264.9) rotate(-90) scale(0.94,1)" fill="#222"><text font-size="12" text-anchor="end" style="font-kerning:none">&#x2007;986</text><path d="M-23.59 0 L-23.59 -7.21 L-25.45 -5.86 L-25.45 -6.91 L-23.41 -8.26 L-22.24 -8.26 L-22.24 0Z"/></g>
<g transform="translate(912.06,1264.9) rotate(-90) scale(0.94,1)" fill="#222"><text font-size="12" text-anchor="end" style="font-kerning:none">&#x2007;987</text><path d="M-23.59 0 L-23.59 -7.21 L-25.45 -5.86 L-25.45 -6.91 L-23.41 -8.26 L-22.24 -8.26 L-22.24 0Z"/></g>
<g transform="translate(921.48,1264.9) rotate(-90) scale(0.94,1)" fill="#222"><text font-size="12" text-anchor="end" style="font-kerning:none">&#x2007;988</text><path d="M-23.59 0 L-23.59 -7.21 L-25.45 -5.86 L-25.45 -6.91 L-23.41 -8.26 L-22.24 -8.26 L-22.24 0Z"/></g>
<g transform="translate(930.9,1264.9) rotate(-90) scale(0.94,1)" fill="#222"><text font-size="12" text-anchor="end" style="font-kerning:none">&#x2007;989</text><path d="M-23.59 0 L-23.59 -7.21 L-25.45 -5.86 L-25.45 -6.91 L-23.41 -8.26 L-22.24 -8.26 L-22.24 0Z"/></g>
<g transform="translate(940.32,1264.9) rotate(-90) scale(0.94,1)" fill="#222"><text font-size="12" text-anchor="end" style="font-kerning:none">&#x2007;990</text><path d="M-23.59 0 L-23.59 -7.21 L-25.45 -5.86 L-25.45 -6.91 L-23.41 -8.26 L-22.24 -8.26 L-22.24 0Z"/></g>
<g transform="translate(949.74,1264.9) rotate(-90) scale(0.94,1)" fill="#222"><text font-size="12" text-anchor="end" style="font-kerning:none">&#x2007;99&#x2007;</text><path d="M-23.59 0 L-23.59 -7.21 L-25.45 -5.86 L-25.45 -6.91 L-23.41 -8.26 L-22.24 -8.26 L-22.24 0Z"/><path d="M-3.57 0 L-3.57 -7.21 L-5.43 -5.86 L-5.43 -6.91 L-3.39 -8.26 L-2.22 -8.26 L-2.22 0Z"/></g>
<g transform="translate(959.16,1264.9) rotate(-90) scale(0.94,1)" fill="#222"><text font-size="12" text-anchor="end" style="font-kerning:none">&#x2007;992</text><path d="M-23.59 0 L-23.59 -7.21 L-25.45 -5.86 L-25.45 -6.91 L-23.41 -8.26 L-22.24 -8.26 L-22.24 0Z"/></g>
<g transform="translate(968.58,1264.9) rotate(-90) scale(0.94,1)" fill="#222"><text font-size="12" text-anchor="end" style="font-kerning:none">&#x2007;993</text><path d="M-23.59 0 L-23.59 -7.21 L-25.45 -5.86 L-25.45 -6.91 L-23.41 -8.26 L-22.24 -8.26 L-22.24 0Z"/></g>
<g transform="translate(978,1264.9) rotate(-90) scale(0.94,1)" fill="#222"><text font-size="12" text-anchor="end" style="font-kerning:none">&#x2007;994</text><path d="M-23.59 0 L-23.59 -7.21 L-25.45 -5.86 L-25.45 -6.91 L-23.41 -8.26 L-22.24 -8.26 L-22.24 0Z"/></g>
<g transform="translate(987.42,1264.9) rotate(-90) scale(0.94,1)" fill="#222"><text font-size="12" text-anchor="end" style="font-kerning:none">&#x2007;995</text><path d="M-23.59 0 L-23.59 -7.21 L-25.45 -5.86 L-25.45 -6.91 L-23.41 -8.26 L-22.24 -8.26 L-22.24 0Z"/></g>
<g transform="translate(996.84,1264.9) rotate(-90) scale(0.94,1)" fill="#222"><text font-size="12" text-anchor="end" style="font-kerning:none">&#x2007;996</text><path d="M-23.59 0 L-23.59 -7.21 L-25.45 -5.86 L-25.45 -6.91 L-23.41 -8.26 L-22.24 -8.26 L-22.24 0Z"/></g>
<g transform="translate(1006.26,1264.9) rotate(-90) scale(0.94,1)" fill="#222"><text font-size="12" text-anchor="end" style="font-kerning:none">&#x2007;997</text><path d="M-23.59 0 L-23.59 -7.21 L-25.45 -5.86 L-25.45 -6.91 L-23.41 -8.26 L-22.24 -8.26 L-22.24 0Z"/></g>
<g transform="translate(1015.68,1264.9) rotate(-90) scale(0.94,1)" fill="#222"><text font-size="12" text-anchor="end" style="font-kerning:none">&#x2007;998</text><path d="M-23.59 0 L-23.59 -7.21 L-25.45 -5.86 L-25.45 -6.91 L-23.41 -8.26 L-22.24 -8.26 L-22.24 0Z"/></g>
<g transform="translate(1025.1,1264.9) rotate(-90) scale(0.94,1)" fill="#222"><text font-size="12" text-anchor="end" style="font-kerning:none">&#x2007;999</text><path d="M-23.59 0 L-23.59 -7.21 L-25.45 -5.86 L-25.45 -6.91 L-23.41 -8.26 L-22.24 -8.26 L-22.24 0Z"/></g>
<g transform="translate(1034.52,1264.9) rotate(-90) scale(0.94,1)" fill="#222"><text font-size="12" text-anchor="end" style="font-kerning:none">2000</text></g>
<g transform="translate(1043.94,1264.9) rotate(-90) scale(0.94,1)" fill="#222"><text font-size="12" text-anchor="end" style="font-kerning:none">200&#x2007;</text><path d="M-3.57 0 L-3.57 -7.21 L-5.43 -5.86 L-5.43 -6.91 L-3.39 -8.26 L-2.22 -8.26 L-2.22 0Z"/></g>
<g transform="translate(1053.36,1264.9) rotate(-90) scale(0.94,1)" fill="#222"><text font-size="12" text-anchor="end" style="font-kerning:none">2002</text></g>
<g transform="translate(1062.78,1264.9) rotate(-90) scale(0.94,1)" fill="#222"><text font-size="12" text-anchor="end" style="font-kerning:none">2003</text></g>
<g transform="translate(1072.2,1264.9) rotate(-90) scale(0.94,1)" fill="#222"><text font-size="12" text-anchor="end" style="font-kerning:none">2004</text></g>
<g transform="translate(1081.62,1264.9) rotate(-90) scale(0.94,1)" fill="#222"><text font-size="12" text-anchor="end" style="font-kerning:none">2005</text></g>
<g transform="translate(1091.04,1264.9) rotate(-90) scale(0.94,1)" fill="#222"><text font-size="12" text-anchor="end" style="font-kerning:none">2006</text></g>
<g transform="translate(1100.46,1264.9) rotate(-90) scale(0.94,1)" fill="#222"><text font-size="12" text-anchor="end" style="font-kerning:none">2007</text></g>
<g transform="translate(1109.88,1264.9) rotate(-90) scale(0.94,1)" fill="#222"><text font-size="12" text-anchor="end" style="font-kerning:none">2008</text></g>
<g transform="translate(1119.3,1264.9) rotate(-90) scale(0.94,1)" fill="#222"><text font-size="12" text-anchor="end" style="font-kerning:none">2009</text></g>
<g transform="translate(1128.72,1264.9) rotate(-90) scale(0.94,1)" fill="#222"><text font-size="12" text-anchor="end" style="font-kerning:none">20&#x2007;0</text><path d="M-10.24 0 L-10.24 -7.21 L-12.11 -5.86 L-12.11 -6.91 L-10.07 -8.26 L-8.89 -8.26 L-8.89 0Z"/></g>
<g transform="translate(1138.14,1264.9) rotate(-90) scale(0.94,1)" fill="#222"><text font-size="12" text-anchor="end" style="font-kerning:none">20&#x2007;&#x2007;</text><path d="M-10.24 0 L-10.24 -7.21 L-12.11 -5.86 L-12.11 -6.91 L-10.07 -8.26 L-8.89 -8.26 L-8.89 0Z"/><path d="M-3.57 0 L-3.57 -7.21 L-5.43 -5.86 L-5.43 -6.91 L-3.39 -8.26 L-2.22 -8.26 L-2.22 0Z"/></g>
<g transform="translate(1147.56,1264.9) rotate(-90) scale(0.94,1)" fill="#222"><text font-size="12" text-anchor="end" style="font-kerning:none">20&#x2007;2</text><path d="M-10.24 0 L-10.24 -7.21 L-12.11 -5.86 L-12.11 -6.91 L-10.07 -8.26 L-8.89 -8.26 L-8.89 0Z"/></g>
<g transform="translate(1156.98,1264.9) rotate(-90) scale(0.94,1)" fill="#222"><text font-size="12" text-anchor="end" style="font-kerning:none">20&#x2007;3</text><path d="M-10.24 0 L-10.24 -7.21 L-12.11 -5.86 L-12.11 -6.91 L-10.07 -8.26 L-8.89 -8.26 L-8.89 0Z"/></g>
<g transform="translate(1166.4,1264.9) rotate(-90) scale(0.94,1)" fill="#222"><text font-size="12" text-anchor="end" style="font-kerning:none">20&#x2007;4</text><path d="M-10.24 0 L-10.24 -7.21 L-12.11 -5.86 L-12.11 -6.91 L-10.07 -8.26 L-8.89 -8.26 L-8.89 0Z"/></g>
<g transform="translate(1175.82,1264.9) rotate(-90) scale(0.94,1)" fill="#222"><text font-size="12" text-anchor="end" style="font-kerning:none">20&#x2007;5</text><path d="M-10.24 0 L-10.24 -7.21 L-12.11 -5.86 L-12.11 -6.91 L-10.07 -8.26 L-8.89 -8.26 L-8.89 0Z"/></g>
<g transform="translate(1185.24,1264.9) rotate(-90) scale(0.94,1)" fill="#222"><text font-size="12" text-anchor="end" style="font-kerning:none">20&#x2007;6</text><path d="M-10.24 0 L-10.24 -7.21 L-12.11 -5.86 L-12.11 -6.91 L-10.07 -8.26 L-8.89 -8.26 L-8.89 0Z"/></g>
<text x="697.5" y="1335.3" font-family="Liberation Serif, serif" font-weight="bold" font-size="28.5" textLength="28.3" lengthAdjust="spacingAndGlyphs" fill="#000">(f)</text>
<text x="738.3" y="1335.3" font-family="Liberation Serif, serif" font-size="22.3" textLength="441.3" lengthAdjust="spacingAndGlyphs" fill="#2e2e2e">Positive Revenue Growth, Count by Year</text>
</svg>
</body></html>
